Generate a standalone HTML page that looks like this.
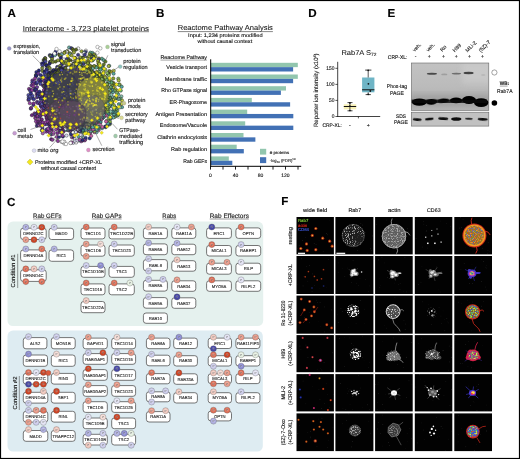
<!DOCTYPE html>
<html><head><meta charset="utf-8"><title>Figure</title>
<style>
html,body{margin:0;padding:0;background:#fff;}
body{width:520px;height:459px;overflow:hidden;font-family:"Liberation Sans",sans-serif;}
svg{display:block;font-family:"Liberation Sans",sans-serif;text-rendering:geometricPrecision;will-change:transform;}
</style></head><body>
<svg width="520" height="459" viewBox="0 0 520 459">
<defs>
<filter id="b1" x="-20%" y="-20%" width="140%" height="140%"><feGaussianBlur stdDeviation="1.6"/></filter>
<filter id="b05" x="-20%" y="-20%" width="140%" height="140%"><feGaussianBlur stdDeviation="0.5"/></filter>
<radialGradient id="cR" cx="0.5" cy="0.45" r="0.55"><stop offset="0" stop-color="#e3917e"/><stop offset="0.55" stop-color="#cf4222"/><stop offset="1" stop-color="#cf4222"/></radialGradient>
<radialGradient id="cr" cx="0.5" cy="0.45" r="0.55"><stop offset="0" stop-color="#edac9e"/><stop offset="0.55" stop-color="#e07058"/><stop offset="1" stop-color="#e07058"/></radialGradient>
<radialGradient id="cs" cx="0.5" cy="0.45" r="0.55"><stop offset="0" stop-color="#f2c4b9"/><stop offset="0.55" stop-color="#e99a88"/><stop offset="1" stop-color="#e99a88"/></radialGradient>
<radialGradient id="cp" cx="0.5" cy="0.45" r="0.55"><stop offset="0" stop-color="#f6dfd9"/><stop offset="0.55" stop-color="#f1c9bf"/><stop offset="1" stop-color="#f1c9bf"/></radialGradient>
<radialGradient id="cq" cx="0.5" cy="0.45" r="0.55"><stop offset="0" stop-color="#f8eae7"/><stop offset="0.55" stop-color="#f4dcd6"/><stop offset="1" stop-color="#f4dcd6"/></radialGradient>
<radialGradient id="cB" cx="0.5" cy="0.45" r="0.55"><stop offset="0" stop-color="#9393cb"/><stop offset="0.55" stop-color="#4646a6"/><stop offset="1" stop-color="#4646a6"/></radialGradient>
<radialGradient id="cb" cx="0.5" cy="0.45" r="0.55"><stop offset="0" stop-color="#bcbce6"/><stop offset="0.55" stop-color="#8d8dd4"/><stop offset="1" stop-color="#8d8dd4"/></radialGradient>
<radialGradient id="cl" cx="0.5" cy="0.45" r="0.55"><stop offset="0" stop-color="#d1d1ee"/><stop offset="0.55" stop-color="#b0b0e2"/><stop offset="1" stop-color="#b0b0e2"/></radialGradient>
<radialGradient id="cv" cx="0.5" cy="0.45" r="0.55"><stop offset="0" stop-color="#e2e2f3"/><stop offset="0.55" stop-color="#cdcdec"/><stop offset="1" stop-color="#cdcdec"/></radialGradient>
<radialGradient id="cw" cx="0.5" cy="0.45" r="0.55"><stop offset="0" stop-color="#eeeef8"/><stop offset="0.55" stop-color="#e3e3f4"/><stop offset="1" stop-color="#e3e3f4"/></radialGradient>
<radialGradient id="cg" cx="0.5" cy="0.45" r="0.55"><stop offset="0" stop-color="#f0f6ee"/><stop offset="0.55" stop-color="#e6f0e2"/><stop offset="1" stop-color="#e6f0e2"/></radialGradient>
<filter id="bb" x="-30%" y="-60%" width="160%" height="220%"><feGaussianBlur stdDeviation="0.7"/></filter>
<filter id="bs" x="-30%" y="-80%" width="160%" height="260%"><feGaussianBlur stdDeviation="0.5"/></filter>
<filter id="bu" x="-30%" y="-100%" width="160%" height="300%"><feGaussianBlur stdDeviation="0.7"/></filter>
<filter id="bh" x="-30%" y="-30%" width="160%" height="160%"><feGaussianBlur stdDeviation="3"/></filter>
<linearGradient id="g1" x1="0" y1="0" x2="0" y2="1"><stop offset="0" stop-color="#c2c2c2"/><stop offset="0.5" stop-color="#bbbbbb"/><stop offset="0.75" stop-color="#b2b2b2"/><stop offset="1" stop-color="#b6b6b6"/></linearGradient>
<clipPath id="c1"><rect x="411.4" y="63.0" width="77.4" height="47.4"/></clipPath>
<clipPath id="c2"><rect x="411.4" y="112.2" width="77.4" height="13.9"/></clipPath>
<filter id="tex" x="0" y="0" width="100%" height="100%"><feTurbulence type="fractalNoise" baseFrequency="0.95" numOctaves="2" seed="4" result="n"/><feColorMatrix in="n" type="matrix" values="0 0 0 0 0 0 0 0 0 0 0 0 0 0 0 6 0 0 0 -3.25" result="a"/><feComposite in="SourceGraphic" in2="a" operator="in"/></filter>
<filter id="tex2" x="0" y="0" width="100%" height="100%"><feTurbulence type="fractalNoise" baseFrequency="0.8" numOctaves="2" seed="11" result="n"/><feColorMatrix in="n" type="matrix" values="0 0 0 0 0 0 0 0 0 0 0 0 0 0 0 0 6 0 0 -3.0" result="a"/><feComposite in="SourceGraphic" in2="a" operator="in"/></filter>
<filter id="tex3" x="0" y="0" width="100%" height="100%"><feTurbulence type="fractalNoise" baseFrequency="0.8" numOctaves="2" seed="23" result="n"/><feColorMatrix in="n" type="matrix" values="0 0 0 0 0 0 0 0 0 0 0 0 0 0 0 0 0 6 0 -3.0" result="a"/><feComposite in="SourceGraphic" in2="a" operator="in"/></filter>
<filter id="f03" x="-30%" y="-30%" width="160%" height="160%"><feGaussianBlur stdDeviation="0.35"/></filter>
<filter id="f06" x="-30%" y="-30%" width="160%" height="160%"><feGaussianBlur stdDeviation="0.6"/></filter>
<filter id="f10" x="-40%" y="-40%" width="180%" height="180%"><feGaussianBlur stdDeviation="1.0"/></filter>
</defs>
<rect x="0" y="0" width="520" height="459" fill="#fff"/>
<text x="7.6" y="17" font-size="11.6" font-weight="bold" fill="#000" stroke="#000" stroke-width="0.14" >A</text>
<text x="22.7" y="30.5" font-size="7.2" textLength="126.3" lengthAdjust="spacingAndGlyphs" fill="#111" stroke="#111" stroke-width="0.06" >Interactome - 3,723 platelet proteins</text>
<line x1="22.7" y1="31.7" x2="149" y2="31.7" stroke="#111" stroke-width="0.5" />
<circle cx="75.5" cy="99.0" r="34" fill="#35353c" opacity="0.85" filter="url(#b05)"/>
<g stroke="#1a1a1a" stroke-width="0.42"><circle cx="69.1" cy="47.5" r="1.65" fill="#6fb0a8"/><circle cx="55.7" cy="51.5" r="1.65" fill="#3a3a8a"/><circle cx="71.4" cy="48.2" r="1.65" fill="#3a3a8a"/><circle cx="45.1" cy="58.1" r="1.65" fill="#242478"/><circle cx="49.8" cy="55.1" r="1.65" fill="#4848a4"/><circle cx="122.0" cy="107.2" r="1.65" fill="#58a8a0"/><circle cx="78.2" cy="48.5" r="1.65" fill="#ffffff"/><circle cx="45.2" cy="58.4" r="1.65" fill="#6a7a28"/><circle cx="121.7" cy="86.7" r="1.65" fill="#58a8a0"/><circle cx="43.6" cy="60.0" r="1.65" fill="#6a7a28"/><circle cx="51.2" cy="139.2" r="1.65" fill="#6a2a80"/><circle cx="42.8" cy="133.3" r="1.65" fill="#a860b0"/><circle cx="52.4" cy="139.8" r="1.65" fill="#8a3a98"/><circle cx="72.7" cy="49.2" r="1.65" fill="#5a6a20"/><circle cx="85.9" cy="50.6" r="1.65" fill="#ffffff"/><circle cx="50.3" cy="55.9" r="1.65" fill="#6a7a28"/><circle cx="64.2" cy="143.5" r="1.65" fill="#ffffff"/><circle cx="122.0" cy="100.4" r="1.65" fill="#c8d040"/><circle cx="92.4" cy="52.9" r="1.65" fill="#5aa890"/><circle cx="121.5" cy="103.9" r="1.65" fill="#c8d040"/><circle cx="76.0" cy="49.6" r="1.65" fill="#5a6a20"/><circle cx="118.3" cy="78.7" r="1.65" fill="#88b860"/><circle cx="55.0" cy="53.8" r="1.65" fill="#30308a"/><circle cx="36.9" cy="125.8" r="1.65" fill="#4a3a90"/><circle cx="44.5" cy="60.4" r="1.65" fill="#242478"/><circle cx="53.1" cy="54.9" r="1.65" fill="#242478"/><circle cx="90.4" cy="52.6" r="1.65" fill="#5aa890"/><circle cx="118.7" cy="80.5" r="1.65" fill="#a8b840"/><circle cx="113.7" cy="70.8" r="1.65" fill="#c8d040"/><circle cx="117.8" cy="115.5" r="1.65" fill="#6ab070"/><circle cx="101.9" cy="58.7" r="1.65" fill="#5aa890"/><circle cx="103.8" cy="60.2" r="1.65" fill="#5aa890"/><circle cx="57.9" cy="141.0" r="1.65" fill="#8a3a98"/><circle cx="105.4" cy="61.6" r="1.65" fill="#6a8a28"/><circle cx="118.1" cy="114.5" r="1.65" fill="#9ab838"/><circle cx="51.2" cy="56.3" r="1.65" fill="#6fb0a8"/><circle cx="121.4" cy="96.4" r="1.65" fill="#88c0b0"/><circle cx="55.8" cy="54.1" r="1.65" fill="#3a3a8a"/><circle cx="94.4" cy="54.6" r="1.65" fill="#6fb0a8"/><circle cx="119.6" cy="84.4" r="1.65" fill="#c8d040"/><circle cx="41.8" cy="130.4" r="1.65" fill="#4a3a90"/><circle cx="120.8" cy="90.6" r="1.65" fill="#6ab070"/><circle cx="42.0" cy="63.5" r="1.65" fill="#3a3a94"/><circle cx="94.1" cy="54.6" r="1.65" fill="#8aa030"/><circle cx="61.5" cy="141.8" r="1.65" fill="#ffffff"/><circle cx="109.2" cy="65.8" r="1.65" fill="#5aa890"/><circle cx="45.2" cy="60.8" r="1.65" fill="#7a8a38"/><circle cx="119.8" cy="107.4" r="1.65" fill="#88c0b0"/><circle cx="67.2" cy="51.1" r="1.65" fill="#7a8a2a"/><circle cx="85.6" cy="51.9" r="1.65" fill="#3a3a8a"/><circle cx="31.9" cy="115.2" r="1.65" fill="#6a2a80"/><circle cx="73.7" cy="50.8" r="1.65" fill="#7a8a2a"/><circle cx="29.0" cy="88.9" r="1.65" fill="#8a3a98"/><circle cx="81.6" cy="51.3" r="1.65" fill="#9aa83a"/><circle cx="119.1" cy="84.9" r="1.65" fill="#6ab070"/><circle cx="28.4" cy="99.9" r="1.65" fill="#8a3a98"/><circle cx="28.4" cy="95.1" r="1.65" fill="#5858b0"/><circle cx="54.8" cy="55.3" r="1.65" fill="#6fb0a8"/><circle cx="70.7" cy="142.9" r="1.65" fill="#ffffff"/><circle cx="108.6" cy="66.1" r="1.65" fill="#a8b840"/><circle cx="120.4" cy="98.7" r="1.65" fill="#6ab070"/><circle cx="52.0" cy="57.0" r="1.65" fill="#30308a"/><circle cx="64.3" cy="141.8" r="1.65" fill="#ffffff"/><circle cx="66.5" cy="51.8" r="1.65" fill="#ffffff"/><circle cx="64.8" cy="52.1" r="1.65" fill="#7a8a2a"/><circle cx="73.3" cy="142.8" r="1.65" fill="#d8d8f0"/><circle cx="45.4" cy="61.6" r="1.65" fill="#4848a4"/><circle cx="28.7" cy="97.6" r="1.65" fill="#4a4aa4"/><circle cx="60.1" cy="53.5" r="1.65" fill="#9aa83a"/><circle cx="37.3" cy="123.5" r="1.65" fill="#7a3090"/><circle cx="38.3" cy="124.9" r="1.65" fill="#4a3a90"/><circle cx="95.5" cy="56.4" r="1.65" fill="#9aa83a"/><circle cx="43.4" cy="63.5" r="1.65" fill="#242478"/><circle cx="98.9" cy="58.5" r="1.65" fill="#9aa83a"/><circle cx="42.7" cy="129.7" r="1.65" fill="#4a3a90"/><circle cx="29.0" cy="99.3" r="1.65" fill="#3a3a94"/><circle cx="76.1" cy="142.5" r="1.65" fill="#ffffff"/><circle cx="36.0" cy="121.3" r="1.65" fill="#9a48a8"/><circle cx="55.6" cy="138.4" r="1.65" fill="#ffffff"/><circle cx="113.6" cy="73.7" r="1.65" fill="#58a8a0"/><circle cx="36.4" cy="72.1" r="1.65" fill="#30308a"/><circle cx="84.1" cy="52.6" r="1.65" fill="#6fb0a8"/><circle cx="71.5" cy="142.3" r="1.65" fill="#a050a8"/><circle cx="89.7" cy="54.2" r="1.65" fill="#8aa030"/><circle cx="39.3" cy="125.6" r="1.65" fill="#a860b0"/><circle cx="30.8" cy="108.7" r="1.65" fill="#5858b0"/><circle cx="32.4" cy="80.5" r="1.65" fill="#6a3a98"/><circle cx="59.9" cy="54.3" r="1.65" fill="#3a3a8a"/><circle cx="64.2" cy="53.0" r="1.65" fill="#9aa83a"/><circle cx="29.8" cy="103.2" r="1.65" fill="#9a48a8"/><circle cx="115.0" cy="116.8" r="1.65" fill="#7aa860"/><circle cx="42.4" cy="65.3" r="1.65" fill="#4848a4"/><circle cx="118.9" cy="104.2" r="1.65" fill="#58a8a0"/><circle cx="117.3" cy="110.4" r="1.65" fill="#6ab070"/><circle cx="30.3" cy="89.6" r="1.65" fill="#6a3a98"/><circle cx="46.2" cy="131.7" r="1.65" fill="#8a3a98"/><circle cx="81.2" cy="141.3" r="1.65" fill="#a050a8"/><circle cx="59.4" cy="54.9" r="1.65" fill="#5a6a20"/><circle cx="61.5" cy="54.2" r="1.65" fill="#ffffff"/><circle cx="31.1" cy="108.0" r="1.65" fill="#6a2a80"/><circle cx="83.9" cy="53.3" r="1.65" fill="#ffffff"/><circle cx="98.6" cy="59.4" r="1.65" fill="#3a3a8a"/><circle cx="109.8" cy="124.3" r="1.65" fill="#7aa860"/><circle cx="32.3" cy="82.4" r="1.65" fill="#4a4aa4"/><circle cx="116.3" cy="112.6" r="1.65" fill="#58a8a0"/><circle cx="73.9" cy="52.4" r="1.65" fill="#9aa83a"/><circle cx="84.8" cy="140.4" r="1.65" fill="#a050a8"/><circle cx="30.3" cy="91.1" r="1.65" fill="#4a4aa4"/><circle cx="31.5" cy="85.3" r="1.65" fill="#6a3a98"/><circle cx="35.5" cy="118.3" r="1.65" fill="#a860b0"/><circle cx="30.1" cy="96.4" r="1.65" fill="#5858b0"/><circle cx="38.9" cy="70.5" r="1.65" fill="#242478"/><circle cx="90.7" cy="55.6" r="1.65" fill="#9aa83a"/><circle cx="93.3" cy="56.8" r="1.65" fill="#88b860"/><circle cx="92.4" cy="56.4" r="1.65" fill="#3a3a8a"/><circle cx="51.1" cy="134.6" r="1.65" fill="#4a3a90"/><circle cx="42.3" cy="127.5" r="1.65" fill="#4a3a90"/><circle cx="36.1" cy="74.8" r="1.65" fill="#6a7a28"/><circle cx="61.7" cy="54.6" r="1.65" fill="#6fb0a8"/><circle cx="35.5" cy="117.8" r="1.65" fill="#9a48a8"/><circle cx="52.1" cy="58.9" r="1.65" fill="#7a8a2a"/><circle cx="82.9" cy="140.4" r="1.65" fill="#8a3a98"/><circle cx="118.6" cy="98.8" r="1.65" fill="#58a8a0"/><circle cx="110.6" cy="71.7" r="1.65" fill="#e8e020"/><circle cx="118.5" cy="98.8" r="1.65" fill="#88c0b0"/><circle cx="35.9" cy="75.9" r="1.65" fill="#4848a4"/><circle cx="89.7" cy="138.3" r="1.65" fill="#283888"/><circle cx="36.5" cy="74.8" r="1.65" fill="#4a4aa4"/><circle cx="113.2" cy="117.6" r="1.65" fill="#70b8b0"/><circle cx="109.7" cy="123.2" r="1.65" fill="#283888"/><circle cx="69.6" cy="53.4" r="1.65" fill="#7a8a2a"/><circle cx="91.1" cy="56.4" r="1.65" fill="#6a8a28"/><circle cx="118.2" cy="94.2" r="1.65" fill="#58a8a0"/><circle cx="74.9" cy="140.8" r="1.65" fill="#d8d8f0"/><circle cx="70.1" cy="53.5" r="1.65" fill="#9aa83a"/><circle cx="115.0" cy="113.4" r="1.65" fill="#88c0b0"/><circle cx="79.3" cy="140.4" r="1.65" fill="#58a0a0"/><circle cx="31.0" cy="93.5" r="1.65" fill="#30308a"/><circle cx="107.4" cy="125.7" r="1.65" fill="#283888"/><circle cx="92.2" cy="57.1" r="1.65" fill="#a8b840"/><circle cx="82.5" cy="139.9" r="1.65" fill="#283080"/><circle cx="40.7" cy="124.6" r="1.65" fill="#7a3090"/><circle cx="38.2" cy="121.2" r="1.65" fill="#7a3090"/><circle cx="36.3" cy="76.0" r="1.65" fill="#242478"/><circle cx="35.0" cy="78.5" r="1.65" fill="#8a3a98"/><circle cx="56.9" cy="136.9" r="1.65" fill="#9a48a8"/><circle cx="85.4" cy="139.2" r="1.65" fill="#a050a8"/><circle cx="77.5" cy="140.5" r="1.65" fill="#d8d8f0"/><circle cx="103.7" cy="64.6" r="1.65" fill="#6a8a28"/><circle cx="92.9" cy="57.5" r="1.65" fill="#6fb0a8"/><circle cx="84.8" cy="54.7" r="1.65" fill="#3a3a8a"/><circle cx="117.5" cy="90.9" r="1.65" fill="#c8d040"/><circle cx="105.7" cy="127.2" r="1.65" fill="#70b8b0"/><circle cx="109.3" cy="71.1" r="1.65" fill="#6a8a28"/><circle cx="35.4" cy="115.9" r="1.65" fill="#7a3090"/><circle cx="50.6" cy="133.3" r="1.65" fill="#58a0a0"/><circle cx="116.1" cy="84.6" r="1.65" fill="#7aa860"/><circle cx="49.6" cy="132.5" r="1.65" fill="#9a48a8"/><circle cx="42.2" cy="68.1" r="1.65" fill="#7a8a38"/><circle cx="116.2" cy="108.8" r="1.65" fill="#c8d040"/><circle cx="116.3" cy="108.4" r="1.65" fill="#6ab070"/><circle cx="114.1" cy="114.4" r="1.65" fill="#9ab838"/><circle cx="33.3" cy="83.8" r="1.65" fill="#8a3a98"/><circle cx="34.5" cy="113.3" r="1.65" fill="#8a3a98"/><circle cx="109.9" cy="121.7" r="1.65" fill="#88b848"/><circle cx="91.6" cy="57.4" r="1.65" fill="#8aa030"/><circle cx="94.2" cy="58.6" r="1.65" fill="#88b860"/><circle cx="38.3" cy="73.5" r="1.65" fill="#6a3a98"/><circle cx="113.9" cy="114.5" r="1.65" fill="#58a8a0"/><circle cx="98.0" cy="60.9" r="1.65" fill="#8aa030"/><circle cx="45.9" cy="64.9" r="1.65" fill="#7a8a38"/><circle cx="32.0" cy="90.2" r="1.65" fill="#8a3a98"/><circle cx="60.5" cy="56.3" r="1.65" fill="#9aa83a"/><circle cx="113.3" cy="78.4" r="1.65" fill="#8aa030"/><circle cx="79.5" cy="139.7" r="1.65" fill="#a050a8"/><circle cx="34.3" cy="81.8" r="1.65" fill="#6a3a98"/><circle cx="47.8" cy="130.7" r="1.65" fill="#7a3090"/><circle cx="105.5" cy="126.7" r="1.65" fill="#283888"/><circle cx="35.2" cy="114.3" r="1.65" fill="#4a3a90"/><circle cx="105.7" cy="126.3" r="1.65" fill="#283888"/><circle cx="117.3" cy="98.1" r="1.65" fill="#88c0b0"/><circle cx="88.9" cy="56.7" r="1.65" fill="#9aa83a"/><circle cx="59.1" cy="136.9" r="1.65" fill="#283080"/><circle cx="50.0" cy="62.0" r="1.65" fill="#7a8a38"/><circle cx="70.1" cy="54.5" r="1.65" fill="#6fb0a8"/><circle cx="46.6" cy="129.3" r="1.65" fill="#4a3a90"/><circle cx="33.2" cy="86.5" r="1.65" fill="#8a3a98"/><circle cx="114.4" cy="111.9" r="1.65" fill="#58a8a0"/><circle cx="107.9" cy="123.4" r="1.65" fill="#58a8a8"/><circle cx="39.4" cy="121.0" r="1.65" fill="#6a2a80"/><circle cx="50.5" cy="61.9" r="1.65" fill="#3a3a94"/><circle cx="116.8" cy="92.7" r="1.65" fill="#7aa860"/><circle cx="51.3" cy="61.4" r="1.65" fill="#7a8a38"/><circle cx="53.4" cy="133.9" r="1.65" fill="#a860b0"/><circle cx="46.4" cy="65.3" r="1.65" fill="#3a3a94"/><circle cx="78.1" cy="54.8" r="1.65" fill="#3a3a8a"/><circle cx="85.6" cy="137.8" r="1.65" fill="#283888"/><circle cx="91.2" cy="135.9" r="1.65" fill="#c860a8"/><circle cx="92.1" cy="58.7" r="1.65" fill="#3a3a8a"/><circle cx="33.3" cy="105.0" r="1.65" fill="#4a3a90"/><circle cx="110.2" cy="119.1" r="1.65" fill="#88c0b0"/><circle cx="115.1" cy="107.3" r="1.65" fill="#6ab070"/><circle cx="32.6" cy="98.3" r="1.65" fill="#4a4aa4"/><circle cx="32.6" cy="95.8" r="1.65" fill="#4a4aa4"/><circle cx="110.7" cy="118.0" r="1.65" fill="#408888"/><circle cx="46.8" cy="65.6" r="1.65" fill="#242478"/><circle cx="115.0" cy="107.3" r="1.65" fill="#9ab838"/><circle cx="115.4" cy="89.1" r="1.65" fill="#9ab838"/><circle cx="71.6" cy="55.4" r="1.65" fill="#9aa83a"/><circle cx="37.4" cy="116.0" r="1.65" fill="#6a2a80"/><circle cx="102.1" cy="128.2" r="1.65" fill="#58a8a8"/><circle cx="49.5" cy="63.8" r="1.65" fill="#242478"/><circle cx="96.5" cy="132.3" r="1.65" fill="#70b8b0"/><circle cx="60.9" cy="57.7" r="1.65" fill="#242478"/><circle cx="116.0" cy="98.0" r="1.65" fill="#58a8a0"/><circle cx="37.7" cy="116.1" r="1.65" fill="#8a3a98"/><circle cx="98.4" cy="63.1" r="1.65" fill="#e8e020"/><circle cx="39.4" cy="119.0" r="1.65" fill="#a860b0"/><circle cx="33.6" cy="103.5" r="1.65" fill="#7a3090"/><circle cx="110.2" cy="118.0" r="1.65" fill="#88c0b0"/><circle cx="115.9" cy="97.5" r="1.65" fill="#9ab838"/><circle cx="113.4" cy="83.0" r="1.65" fill="#c8d040"/><circle cx="113.8" cy="109.8" r="1.65" fill="#6ab070"/><circle cx="99.0" cy="63.8" r="1.65" fill="#6a8a28"/><circle cx="74.4" cy="138.3" r="1.65" fill="#d8d8f0"/><circle cx="43.4" cy="124.2" r="1.65" fill="#4a3a90"/><circle cx="105.3" cy="69.6" r="1.65" fill="#88b860"/><circle cx="52.9" cy="61.9" r="1.65" fill="#7a8a38"/><circle cx="99.3" cy="64.0" r="1.65" fill="#a8b840"/><circle cx="108.6" cy="73.8" r="1.65" fill="#8aa030"/><circle cx="48.2" cy="128.7" r="1.65" fill="#9a48a8"/><circle cx="62.9" cy="136.6" r="1.65" fill="#283080"/><circle cx="92.7" cy="60.0" r="1.65" fill="#5aa890"/><circle cx="42.5" cy="71.1" r="1.65" fill="#7a8a38"/><circle cx="112.9" cy="111.7" r="1.65" fill="#88c0b0"/><circle cx="41.4" cy="121.4" r="1.65" fill="#7a3090"/><circle cx="53.5" cy="132.3" r="1.65" fill="#a860b0"/><circle cx="98.7" cy="130.1" r="1.65" fill="#c860a8"/><circle cx="102.3" cy="127.0" r="1.65" fill="#c860a8"/><circle cx="113.1" cy="83.5" r="1.65" fill="#6a8a28"/><circle cx="103.3" cy="68.0" r="1.65" fill="#6a8a28"/><circle cx="108.1" cy="73.9" r="1.65" fill="#8aa030"/><circle cx="36.0" cy="83.5" r="1.65" fill="#8a3a98"/><circle cx="92.5" cy="60.4" r="1.65" fill="#88b860"/><circle cx="33.8" cy="99.2" r="1.65" fill="#3a3a94"/><circle cx="112.5" cy="111.8" r="1.65" fill="#408888"/><circle cx="86.5" cy="58.1" r="1.65" fill="#3a3a8a"/><circle cx="108.2" cy="74.3" r="1.65" fill="#6a8a28"/><circle cx="108.8" cy="75.2" r="1.65" fill="#88b860"/><circle cx="115.1" cy="97.7" r="1.65" fill="#88c0b0"/><circle cx="114.5" cy="90.7" r="1.65" fill="#7aa860"/><circle cx="36.5" cy="83.2" r="1.65" fill="#30308a"/><circle cx="86.3" cy="58.3" r="1.65" fill="#7a8a2a"/><circle cx="72.0" cy="137.4" r="1.65" fill="#a050a8"/><circle cx="107.2" cy="73.1" r="1.65" fill="#88b860"/><circle cx="42.9" cy="122.3" r="1.65" fill="#8a3a98"/><circle cx="102.4" cy="67.7" r="1.65" fill="#5aa890"/><circle cx="94.4" cy="132.2" r="1.65" fill="#c860a8"/><circle cx="44.8" cy="124.4" r="1.65" fill="#8a3a98"/><circle cx="113.6" cy="86.8" r="1.65" fill="#c8d040"/><circle cx="62.6" cy="135.6" r="1.65" fill="#8a3a98"/><circle cx="59.4" cy="134.4" r="1.65" fill="#d8d8f0"/><circle cx="87.6" cy="58.9" r="1.65" fill="#a8b840"/><circle cx="58.0" cy="60.3" r="1.65" fill="#9aa83a"/><circle cx="35.1" cy="88.8" r="1.65" fill="#3a3a94"/><circle cx="113.5" cy="107.0" r="1.65" fill="#6ab070"/><circle cx="108.8" cy="118.1" r="1.65" fill="#88b848"/><circle cx="40.8" cy="75.2" r="1.65" fill="#30308a"/><circle cx="82.8" cy="57.7" r="1.65" fill="#6fb0a8"/><circle cx="106.7" cy="120.9" r="1.65" fill="#88b848"/><circle cx="109.6" cy="116.5" r="1.65" fill="#70b8b0"/><circle cx="82.6" cy="57.7" r="1.65" fill="#5aa890"/><circle cx="113.8" cy="105.1" r="1.65" fill="#9ab838"/><circle cx="55.6" cy="61.6" r="1.65" fill="#5a6a20"/><circle cx="37.6" cy="112.6" r="1.65" fill="#6a2a80"/><circle cx="35.0" cy="90.6" r="1.65" fill="#30308a"/><circle cx="91.2" cy="60.6" r="1.65" fill="#e8e020"/><circle cx="97.3" cy="129.9" r="1.65" fill="#70b8b0"/><circle cx="106.1" cy="121.5" r="1.65" fill="#c860a8"/><circle cx="57.3" cy="133.1" r="1.65" fill="#7a3090"/><circle cx="80.5" cy="57.5" r="1.65" fill="#9aa83a"/><circle cx="83.2" cy="58.0" r="1.65" fill="#3a3a8a"/><circle cx="83.5" cy="58.1" r="1.65" fill="#7a8a2a"/><circle cx="37.6" cy="81.9" r="1.65" fill="#5858b0"/><circle cx="39.8" cy="116.6" r="1.65" fill="#4a3a90"/><circle cx="51.8" cy="129.7" r="1.65" fill="#6a2a80"/><circle cx="111.2" cy="81.7" r="1.65" fill="#6ab070"/><circle cx="82.2" cy="136.0" r="1.65" fill="#58a0a0"/><circle cx="39.0" cy="79.2" r="1.65" fill="#4a4aa4"/><circle cx="47.1" cy="68.3" r="1.65" fill="#3a3a94"/><circle cx="98.8" cy="128.3" r="1.65" fill="#58a8a8"/><circle cx="41.8" cy="119.3" r="1.65" fill="#6a2a80"/><circle cx="35.7" cy="89.2" r="1.65" fill="#4a4aa4"/><circle cx="78.6" cy="136.4" r="1.65" fill="#58a0a0"/><circle cx="114.1" cy="98.2" r="1.65" fill="#7aa860"/><circle cx="73.3" cy="136.6" r="1.65" fill="#283080"/><circle cx="48.6" cy="67.1" r="1.65" fill="#7a8a38"/><circle cx="94.4" cy="131.2" r="1.65" fill="#88b848"/><circle cx="111.4" cy="82.8" r="1.65" fill="#6ab070"/><circle cx="112.8" cy="87.3" r="1.65" fill="#e8e020"/><circle cx="85.4" cy="59.1" r="1.65" fill="#ffffff"/><circle cx="110.1" cy="114.0" r="1.65" fill="#6ab070"/><circle cx="66.5" cy="135.6" r="1.65" fill="#d8d8f0"/><circle cx="89.9" cy="133.2" r="1.65" fill="#8a3a98"/><circle cx="47.7" cy="68.2" r="1.65" fill="#7a8a38"/><circle cx="44.6" cy="71.5" r="1.65" fill="#242478"/><circle cx="36.0" cy="89.4" r="1.65" fill="#30308a"/><circle cx="74.6" cy="57.8" r="1.65" fill="#9aa83a"/><circle cx="68.2" cy="58.4" r="1.65" fill="#7a8a2a"/><circle cx="38.2" cy="111.4" r="1.65" fill="#4a3a90"/><circle cx="109.4" cy="79.6" r="1.65" fill="#a8b840"/><circle cx="111.8" cy="85.7" r="1.65" fill="#8aa030"/><circle cx="51.1" cy="128.2" r="1.65" fill="#4a3a90"/><circle cx="64.0" cy="59.5" r="1.65" fill="#ffffff"/><circle cx="110.6" cy="111.5" r="1.65" fill="#88c0b0"/><circle cx="75.2" cy="58.1" r="1.65" fill="#7a8a2a"/><circle cx="96.3" cy="129.2" r="1.65" fill="#70b8b0"/><circle cx="71.5" cy="135.8" r="1.65" fill="#d8d8f0"/><circle cx="75.2" cy="58.1" r="1.65" fill="#9aa83a"/><circle cx="47.2" cy="69.3" r="1.65" fill="#4848a4"/><circle cx="112.2" cy="106.5" r="1.65" fill="#88c0b0"/><circle cx="60.8" cy="60.7" r="1.65" fill="#5a6a20"/><circle cx="38.7" cy="111.9" r="1.65" fill="#6a2a80"/><circle cx="46.8" cy="124.1" r="1.65" fill="#4a3a90"/><circle cx="113.1" cy="100.6" r="1.65" fill="#88c0b0"/><circle cx="81.4" cy="135.1" r="1.65" fill="#ffffff"/><circle cx="112.9" cy="92.2" r="1.65" fill="#58a8a0"/><circle cx="100.9" cy="68.7" r="1.65" fill="#5aa890"/><circle cx="66.8" cy="59.1" r="1.65" fill="#3a3a8a"/><circle cx="37.1" cy="87.1" r="1.65" fill="#6a3a98"/><circle cx="113.0" cy="99.8" r="1.65" fill="#c8d040"/><circle cx="99.0" cy="126.8" r="1.65" fill="#88b848"/><circle cx="46.4" cy="70.5" r="1.65" fill="#30308a"/><circle cx="97.8" cy="127.5" r="1.65" fill="#58a8a8"/><circle cx="44.5" cy="73.1" r="1.65" fill="#3a3a94"/><circle cx="39.8" cy="80.5" r="1.65" fill="#6a3a98"/><circle cx="80.6" cy="134.9" r="1.65" fill="#d8d8f0"/><circle cx="103.6" cy="72.0" r="1.65" fill="#a8b840"/><circle cx="112.2" cy="90.0" r="1.65" fill="#58a8a0"/><circle cx="40.9" cy="115.3" r="1.65" fill="#7a3090"/><circle cx="99.5" cy="68.1" r="1.65" fill="#6a8a28"/><circle cx="72.3" cy="135.1" r="1.65" fill="#8a3a98"/><circle cx="45.8" cy="122.1" r="1.65" fill="#9a48a8"/><circle cx="61.5" cy="132.8" r="1.65" fill="#a050a8"/><circle cx="51.5" cy="127.3" r="1.65" fill="#8a3a98"/><circle cx="49.6" cy="125.8" r="1.65" fill="#4a3a90"/><circle cx="36.6" cy="94.1" r="1.65" fill="#8a3a98"/><circle cx="88.1" cy="61.5" r="1.65" fill="#e8e020"/><circle cx="49.7" cy="68.2" r="1.65" fill="#7a8a38"/><circle cx="91.0" cy="131.2" r="1.65" fill="#408888"/><circle cx="78.5" cy="59.3" r="1.65" fill="#6fb0a8"/><circle cx="111.2" cy="87.3" r="1.65" fill="#58a8a0"/><circle cx="62.0" cy="61.2" r="1.65" fill="#3a3a94"/><circle cx="112.0" cy="102.5" r="1.65" fill="#7aa860"/><circle cx="97.2" cy="66.7" r="1.65" fill="#8aa030"/><circle cx="61.7" cy="61.3" r="1.65" fill="#4848a4"/><circle cx="37.0" cy="102.0" r="1.65" fill="#6a3a98"/><circle cx="59.9" cy="131.9" r="1.65" fill="#a050a8"/><circle cx="37.1" cy="91.7" r="1.65" fill="#6a3a98"/><circle cx="86.1" cy="132.9" r="1.65" fill="#88b848"/><circle cx="97.6" cy="126.8" r="1.65" fill="#70b8b0"/><circle cx="86.7" cy="132.6" r="1.65" fill="#408888"/><circle cx="42.2" cy="77.7" r="1.65" fill="#6a7a28"/><circle cx="111.5" cy="103.7" r="1.65" fill="#7aa860"/><circle cx="92.9" cy="129.8" r="1.65" fill="#70b8b0"/><circle cx="36.9" cy="97.4" r="1.65" fill="#6a3a98"/><circle cx="39.7" cy="111.1" r="1.65" fill="#6a2a80"/><circle cx="100.3" cy="69.7" r="1.65" fill="#5aa890"/><circle cx="90.5" cy="131.0" r="1.65" fill="#70b8b0"/><circle cx="88.2" cy="62.1" r="1.65" fill="#8aa030"/><circle cx="111.8" cy="101.2" r="1.65" fill="#9ab838"/><circle cx="108.1" cy="113.6" r="1.65" fill="#408888"/><circle cx="111.9" cy="96.7" r="1.65" fill="#88c0b0"/><circle cx="100.2" cy="124.1" r="1.65" fill="#c860a8"/><circle cx="56.1" cy="129.5" r="1.65" fill="#9a48a8"/><circle cx="94.4" cy="128.7" r="1.65" fill="#70b8b0"/><circle cx="46.8" cy="72.0" r="1.65" fill="#4848a4"/><circle cx="37.7" cy="103.0" r="1.65" fill="#6a3a98"/><circle cx="110.5" cy="87.2" r="1.65" fill="#6ab070"/><circle cx="78.2" cy="59.9" r="1.65" fill="#9aa83a"/><circle cx="108.8" cy="82.6" r="1.65" fill="#5aa890"/><circle cx="93.0" cy="129.3" r="1.65" fill="#c860a8"/><circle cx="41.3" cy="113.7" r="1.65" fill="#6a2a80"/><circle cx="40.9" cy="81.1" r="1.65" fill="#242478"/><circle cx="70.9" cy="134.0" r="1.65" fill="#283080"/><circle cx="68.7" cy="60.4" r="1.65" fill="#5a6a20"/><circle cx="66.1" cy="61.0" r="1.65" fill="#9aa83a"/><circle cx="111.4" cy="94.8" r="1.65" fill="#88c0b0"/><circle cx="77.9" cy="60.2" r="1.65" fill="#ffffff"/><circle cx="79.9" cy="60.4" r="1.65" fill="#5a6a20"/><circle cx="106.4" cy="78.5" r="1.65" fill="#6ab070"/><circle cx="70.6" cy="60.3" r="1.65" fill="#5a6a20"/><circle cx="110.8" cy="90.8" r="1.65" fill="#58a8a0"/><circle cx="94.6" cy="66.2" r="1.65" fill="#5aa890"/><circle cx="37.7" cy="95.4" r="1.65" fill="#6a3a98"/><circle cx="44.2" cy="76.1" r="1.65" fill="#4a4aa4"/><circle cx="60.1" cy="130.8" r="1.65" fill="#8a3a98"/><circle cx="85.6" cy="132.0" r="1.65" fill="#c860a8"/><circle cx="37.9" cy="94.2" r="1.65" fill="#30308a"/><circle cx="49.2" cy="123.6" r="1.65" fill="#7a3090"/><circle cx="41.5" cy="112.9" r="1.65" fill="#8a3a98"/><circle cx="106.1" cy="115.6" r="1.65" fill="#c860a8"/><circle cx="63.4" cy="131.8" r="1.65" fill="#6a2a80"/><circle cx="102.9" cy="74.1" r="1.65" fill="#5aa890"/><circle cx="38.0" cy="96.2" r="1.65" fill="#4a4aa4"/><circle cx="40.4" cy="83.9" r="1.65" fill="#4a4aa4"/><circle cx="104.5" cy="76.4" r="1.65" fill="#a8b840"/><circle cx="83.5" cy="132.3" r="1.65" fill="#408888"/><circle cx="96.2" cy="67.7" r="1.65" fill="#5aa890"/><circle cx="110.8" cy="100.4" r="1.65" fill="#6ab070"/><circle cx="110.8" cy="99.8" r="1.65" fill="#7aa860"/><circle cx="94.0" cy="66.2" r="1.65" fill="#8aa030"/><circle cx="106.5" cy="79.8" r="1.65" fill="#6ab070"/><circle cx="50.0" cy="123.9" r="1.65" fill="#8a3a98"/><circle cx="60.6" cy="130.6" r="1.65" fill="#4a3a90"/><circle cx="105.1" cy="77.5" r="1.65" fill="#a8b840"/><circle cx="109.6" cy="106.3" r="1.65" fill="#58a8a0"/><circle cx="88.2" cy="63.4" r="1.65" fill="#8aa030"/><circle cx="47.6" cy="121.3" r="1.65" fill="#8a3a98"/><circle cx="109.9" cy="104.7" r="1.65" fill="#58a8a0"/><circle cx="38.5" cy="93.5" r="1.65" fill="#3a3a94"/><circle cx="86.3" cy="131.2" r="1.65" fill="#408888"/><circle cx="50.9" cy="124.5" r="1.65" fill="#6a2a80"/><circle cx="100.7" cy="121.9" r="1.65" fill="#408888"/><circle cx="87.9" cy="63.4" r="1.65" fill="#8aa030"/><circle cx="49.9" cy="123.4" r="1.65" fill="#6a2a80"/><circle cx="107.5" cy="111.5" r="1.65" fill="#88b848"/><circle cx="53.3" cy="126.1" r="1.65" fill="#a860b0"/><circle cx="109.9" cy="90.8" r="1.65" fill="#9ab838"/><circle cx="108.4" cy="109.1" r="1.65" fill="#6ab070"/><circle cx="109.4" cy="105.5" r="1.65" fill="#58a8a0"/><circle cx="73.4" cy="132.8" r="1.65" fill="#ffffff"/><circle cx="89.6" cy="129.5" r="1.65" fill="#c860a8"/><circle cx="84.6" cy="62.6" r="1.65" fill="#7a8a2a"/><circle cx="62.0" cy="63.5" r="1.65" fill="#3a3a94"/><circle cx="63.3" cy="63.0" r="1.65" fill="#7a8a2a"/><circle cx="110.2" cy="98.0" r="1.65" fill="#58a8a0"/><circle cx="94.7" cy="126.4" r="1.65" fill="#88b848"/><circle cx="39.3" cy="102.2" r="1.65" fill="#5858b0"/><circle cx="43.1" cy="113.6" r="1.65" fill="#4a3a90"/><circle cx="108.7" cy="106.7" r="1.65" fill="#7aa860"/><circle cx="104.6" cy="115.8" r="1.65" fill="#c860a8"/><circle cx="103.8" cy="117.1" r="1.65" fill="#408888"/><circle cx="43.4" cy="114.1" r="1.65" fill="#7a3090"/><circle cx="83.0" cy="62.6" r="1.65" fill="#6fb0a8"/><circle cx="39.5" cy="91.6" r="1.65" fill="#30308a"/><circle cx="79.4" cy="61.9" r="1.65" fill="#5a6a20"/><circle cx="58.2" cy="128.4" r="1.65" fill="#6a2a80"/><circle cx="107.5" cy="84.1" r="1.65" fill="#8aa030"/><circle cx="92.7" cy="127.2" r="1.65" fill="#58a8a8"/><circle cx="45.9" cy="76.4" r="1.65" fill="#4848a4"/><circle cx="46.6" cy="118.5" r="1.65" fill="#7a3090"/><circle cx="76.6" cy="132.1" r="1.65" fill="#8a3a98"/><circle cx="72.9" cy="132.1" r="1.65" fill="#ffffff"/><circle cx="74.5" cy="61.9" r="1.65" fill="#7a8a2a"/><circle cx="109.6" cy="97.8" r="1.65" fill="#7aa860"/><circle cx="109.6" cy="98.0" r="1.65" fill="#7aa860"/><circle cx="82.8" cy="131.1" r="1.65" fill="#88b848"/><circle cx="102.4" cy="118.2" r="1.65" fill="#70b8b0"/><circle cx="75.8" cy="132.0" r="1.65" fill="#d8d8f0"/><circle cx="40.2" cy="104.0" r="1.65" fill="#4a4aa4"/><circle cx="40.2" cy="103.7" r="1.65" fill="#6a3a98"/><circle cx="76.6" cy="62.1" r="1.65" fill="#9aa83a"/><circle cx="73.4" cy="62.1" r="1.65" fill="#ffffff"/><circle cx="108.1" cy="87.5" r="1.65" fill="#58a8a0"/><circle cx="49.6" cy="72.5" r="1.65" fill="#242478"/><circle cx="107.5" cy="108.5" r="1.65" fill="#58a8a0"/><circle cx="107.0" cy="84.1" r="1.65" fill="#9ab838"/><circle cx="108.5" cy="89.2" r="1.65" fill="#88c0b0"/><circle cx="98.9" cy="72.0" r="1.65" fill="#88b860"/><circle cx="86.1" cy="129.9" r="1.65" fill="#d8d8f0"/><circle cx="43.7" cy="113.3" r="1.65" fill="#8a3a98"/><circle cx="101.9" cy="118.6" r="1.65" fill="#408888"/><circle cx="88.7" cy="128.8" r="1.65" fill="#408888"/><circle cx="70.7" cy="62.4" r="1.65" fill="#3a3a8a"/><circle cx="65.8" cy="63.3" r="1.65" fill="#7a8a2a"/><circle cx="101.3" cy="119.1" r="1.65" fill="#c860a8"/><circle cx="106.9" cy="84.3" r="1.65" fill="#7aa860"/><circle cx="50.6" cy="122.2" r="1.65" fill="#9a48a8"/><circle cx="72.7" cy="62.3" r="1.65" fill="#ffffff"/><circle cx="41.0" cy="106.2" r="1.65" fill="#6a3a98"/><circle cx="89.5" cy="65.7" r="1.65" fill="#e8e020"/><circle cx="100.6" cy="74.2" r="1.65" fill="#5aa890"/><circle cx="91.6" cy="66.8" r="1.65" fill="#e8e020"/><circle cx="40.9" cy="105.4" r="1.65" fill="#6a3a98"/><circle cx="108.9" cy="92.8" r="1.65" fill="#7aa860"/><circle cx="91.0" cy="66.5" r="1.65" fill="#6a8a28"/><circle cx="57.2" cy="67.0" r="1.65" fill="#30308a"/><circle cx="80.1" cy="131.2" r="1.65" fill="#283080"/><circle cx="44.8" cy="79.3" r="1.65" fill="#8a3a98"/><circle cx="48.2" cy="74.5" r="1.65" fill="#242478"/><circle cx="106.8" cy="109.3" r="1.65" fill="#9ab838"/><circle cx="93.0" cy="67.8" r="1.65" fill="#a8b840"/><circle cx="89.2" cy="65.8" r="1.65" fill="#88b860"/><circle cx="107.6" cy="87.2" r="1.65" fill="#c8d040"/><circle cx="108.7" cy="101.9" r="1.65" fill="#7aa860"/><circle cx="108.8" cy="100.8" r="1.65" fill="#58a8a0"/><circle cx="70.9" cy="62.7" r="1.65" fill="#7a8a2a"/><circle cx="40.1" cy="96.4" r="1.65" fill="#3a3a94"/><circle cx="46.4" cy="116.8" r="1.65" fill="#6a2a80"/><circle cx="44.0" cy="81.1" r="1.65" fill="#8a3a98"/><circle cx="40.1" cy="96.6" r="1.65" fill="#4a4aa4"/><circle cx="63.5" cy="129.5" r="1.65" fill="#a050a8"/><circle cx="47.6" cy="118.4" r="1.65" fill="#6a2a80"/><circle cx="45.1" cy="114.7" r="1.65" fill="#7a3090"/><circle cx="85.2" cy="129.6" r="1.65" fill="#58a0a0"/><circle cx="41.7" cy="107.1" r="1.65" fill="#3a3a94"/><circle cx="40.3" cy="94.1" r="1.65" fill="#4a4aa4"/><circle cx="47.9" cy="75.4" r="1.65" fill="#7a8a38"/><circle cx="61.5" cy="65.3" r="1.65" fill="#3a3a94"/><circle cx="51.7" cy="122.5" r="1.65" fill="#9a48a8"/><circle cx="60.0" cy="66.0" r="1.65" fill="#7a8a38"/><circle cx="107.1" cy="107.4" r="1.65" fill="#9ab838"/><circle cx="100.2" cy="74.4" r="1.65" fill="#6a8a28"/><circle cx="50.2" cy="73.0" r="1.65" fill="#30308a"/><circle cx="82.8" cy="130.1" r="1.65" fill="#408888"/><circle cx="51.5" cy="71.8" r="1.65" fill="#6a7a28"/><circle cx="53.0" cy="70.5" r="1.65" fill="#3a3a94"/><circle cx="53.8" cy="124.1" r="1.65" fill="#4a3a90"/><circle cx="83.3" cy="64.1" r="1.65" fill="#3a3a8a"/><circle cx="53.8" cy="70.1" r="1.65" fill="#30308a"/><circle cx="70.8" cy="63.2" r="1.65" fill="#ffffff"/><circle cx="63.7" cy="129.2" r="1.65" fill="#8a3a98"/><circle cx="42.5" cy="108.4" r="1.65" fill="#9a48a8"/><circle cx="103.4" cy="114.8" r="1.65" fill="#70b8b0"/><circle cx="74.4" cy="63.1" r="1.65" fill="#5a6a20"/><circle cx="102.0" cy="77.3" r="1.65" fill="#8aa030"/><circle cx="48.8" cy="75.0" r="1.65" fill="#30308a"/><circle cx="47.3" cy="117.2" r="1.65" fill="#9a48a8"/><circle cx="89.5" cy="66.7" r="1.65" fill="#e8e020"/><circle cx="101.7" cy="117.1" r="1.65" fill="#c860a8"/><circle cx="65.5" cy="129.6" r="1.65" fill="#58a0a0"/><circle cx="43.7" cy="110.8" r="1.65" fill="#7a3090"/><circle cx="41.2" cy="102.4" r="1.65" fill="#6a3a98"/><circle cx="107.3" cy="104.9" r="1.65" fill="#88c0b0"/><circle cx="108.1" cy="99.8" r="1.65" fill="#88c0b0"/><circle cx="40.8" cy="98.4" r="1.65" fill="#30308a"/><circle cx="108.2" cy="97.9" r="1.65" fill="#6ab070"/><circle cx="80.6" cy="63.9" r="1.65" fill="#9aa83a"/><circle cx="40.9" cy="98.8" r="1.65" fill="#30308a"/><circle cx="106.9" cy="87.9" r="1.65" fill="#7aa860"/><circle cx="60.5" cy="127.6" r="1.65" fill="#7a3090"/><circle cx="92.6" cy="68.7" r="1.65" fill="#6fb0a8"/><circle cx="43.0" cy="85.3" r="1.65" fill="#6a3a98"/><circle cx="44.1" cy="111.3" r="1.65" fill="#7a3090"/><circle cx="96.8" cy="72.0" r="1.65" fill="#a8b840"/><circle cx="56.9" cy="125.5" r="1.65" fill="#7a3090"/><circle cx="60.4" cy="127.4" r="1.65" fill="#ffffff"/><circle cx="107.4" cy="103.5" r="1.65" fill="#88c0b0"/><circle cx="58.3" cy="67.7" r="1.65" fill="#7a8a38"/><circle cx="102.8" cy="79.1" r="1.65" fill="#88b860"/><circle cx="53.1" cy="122.7" r="1.65" fill="#4a3a90"/><circle cx="70.6" cy="130.2" r="1.65" fill="#a050a8"/><circle cx="98.8" cy="119.9" r="1.65" fill="#58a8a8"/><circle cx="41.2" cy="94.8" r="1.65" fill="#8a3a98"/><circle cx="41.9" cy="104.1" r="1.65" fill="#5858b0"/><circle cx="79.4" cy="130.0" r="1.65" fill="#ffffff"/><circle cx="100.7" cy="117.6" r="1.65" fill="#70b8b0"/><circle cx="53.7" cy="123.0" r="1.65" fill="#7a3090"/><circle cx="100.9" cy="76.7" r="1.65" fill="#6a8a28"/><circle cx="99.3" cy="74.8" r="1.65" fill="#e8e020"/><circle cx="63.8" cy="128.5" r="1.65" fill="#6a2a80"/><circle cx="49.7" cy="74.9" r="1.65" fill="#7a8a38"/><circle cx="51.7" cy="72.8" r="1.65" fill="#30308a"/><circle cx="88.5" cy="127.1" r="1.65" fill="#88b848"/><circle cx="107.6" cy="99.9" r="1.65" fill="#6ab070"/><circle cx="95.4" cy="122.8" r="1.65" fill="#c860a8"/><circle cx="57.5" cy="68.5" r="1.65" fill="#ffffff"/><circle cx="45.5" cy="81.1" r="1.65" fill="#4848a4"/><circle cx="88.4" cy="67.0" r="1.65" fill="#e8e020"/><circle cx="80.4" cy="129.5" r="1.65" fill="#283080"/><circle cx="107.6" cy="96.4" r="1.65" fill="#6ab070"/><circle cx="107.6" cy="97.2" r="1.65" fill="#7aa860"/><circle cx="80.3" cy="64.5" r="1.65" fill="#5a6a20"/><circle cx="51.1" cy="120.4" r="1.65" fill="#9a48a8"/><circle cx="47.8" cy="116.5" r="1.65" fill="#7a3090"/><circle cx="88.9" cy="67.3" r="1.65" fill="#88b860"/><circle cx="41.7" cy="93.6" r="1.65" fill="#8a3a98"/><circle cx="107.0" cy="91.2" r="1.65" fill="#9ab838"/><circle cx="103.3" cy="80.9" r="1.65" fill="#6a8a28"/><circle cx="50.7" cy="74.2" r="1.65" fill="#242478"/><circle cx="45.3" cy="112.2" r="1.65" fill="#9a48a8"/><circle cx="77.9" cy="129.7" r="1.65" fill="#a050a8"/><circle cx="102.5" cy="79.8" r="1.65" fill="#6a8a28"/><circle cx="65.6" cy="128.6" r="1.65" fill="#ffffff"/><circle cx="56.2" cy="69.7" r="1.65" fill="#242478"/><circle cx="43.1" cy="106.7" r="1.65" fill="#6a3a98"/><circle cx="52.0" cy="73.1" r="1.65" fill="#242478"/><circle cx="96.4" cy="72.5" r="1.65" fill="#e8e020"/><circle cx="56.8" cy="69.4" r="1.65" fill="#7a8a38"/><circle cx="49.4" cy="118.1" r="1.65" fill="#4a3a90"/><circle cx="68.7" cy="129.2" r="1.65" fill="#d8d8f0"/><circle cx="77.8" cy="129.6" r="1.65" fill="#a050a8"/><circle cx="51.8" cy="120.5" r="1.65" fill="#9a48a8"/><circle cx="107.1" cy="97.5" r="1.65" fill="#6ab070"/><circle cx="97.0" cy="73.4" r="1.65" fill="#e8e020"/><circle cx="53.5" cy="72.0" r="1.65" fill="#6a7a28"/><circle cx="107.0" cy="99.4" r="1.65" fill="#6ab070"/><circle cx="43.8" cy="86.1" r="1.65" fill="#5858b0"/><circle cx="101.8" cy="79.2" r="1.65" fill="#88b860"/><circle cx="101.3" cy="115.5" r="1.65" fill="#c860a8"/><circle cx="43.8" cy="86.2" r="1.65" fill="#6a3a98"/><circle cx="73.7" cy="64.5" r="1.65" fill="#7a8a2a"/><circle cx="94.1" cy="123.0" r="1.65" fill="#408888"/><circle cx="43.8" cy="107.7" r="1.65" fill="#4a4aa4"/><circle cx="60.8" cy="126.4" r="1.65" fill="#58a0a0"/><circle cx="42.3" cy="92.9" r="1.65" fill="#6a3a98"/><circle cx="77.8" cy="129.3" r="1.65" fill="#d8d8f0"/><circle cx="89.7" cy="68.4" r="1.65" fill="#6a8a28"/><circle cx="102.9" cy="112.7" r="1.65" fill="#58a8a0"/><circle cx="71.2" cy="129.2" r="1.65" fill="#a050a8"/><circle cx="52.7" cy="73.0" r="1.65" fill="#4848a4"/><circle cx="53.3" cy="72.5" r="1.65" fill="#242478"/><circle cx="69.6" cy="129.0" r="1.65" fill="#283080"/><circle cx="72.6" cy="129.3" r="1.65" fill="#283080"/><circle cx="104.6" cy="108.9" r="1.65" fill="#283888"/><circle cx="49.3" cy="117.3" r="1.65" fill="#8a3a98"/><circle cx="45.4" cy="82.9" r="1.65" fill="#4848a4"/><circle cx="98.7" cy="118.4" r="1.65" fill="#58a8a8"/><circle cx="48.1" cy="78.3" r="1.65" fill="#242478"/><circle cx="84.3" cy="127.8" r="1.65" fill="#408888"/><circle cx="106.6" cy="100.7" r="1.65" fill="#88c0b0"/><circle cx="62.7" cy="127.0" r="1.65" fill="#8a3a98"/><circle cx="79.9" cy="65.2" r="1.65" fill="#6fb0a8"/><circle cx="106.7" cy="99.3" r="1.65" fill="#c8d040"/><circle cx="73.1" cy="64.8" r="1.65" fill="#ffffff"/><circle cx="104.3" cy="109.2" r="1.65" fill="#c8d040"/><circle cx="69.1" cy="65.3" r="1.65" fill="#7a8a2a"/><circle cx="105.4" cy="88.0" r="1.65" fill="#c8d040"/><circle cx="69.8" cy="65.2" r="1.65" fill="#7a8a2a"/><circle cx="49.4" cy="76.9" r="1.65" fill="#7a8a38"/><circle cx="74.6" cy="129.2" r="1.65" fill="#ffffff"/><circle cx="52.2" cy="73.8" r="1.65" fill="#7a8a38"/><circle cx="48.4" cy="115.7" r="1.65" fill="#6a2a80"/><circle cx="70.4" cy="65.2" r="1.65" fill="#ffffff"/><circle cx="103.2" cy="82.6" r="1.65" fill="#a8b840"/><circle cx="60.3" cy="68.2" r="1.65" fill="#6fb0a8"/><circle cx="46.2" cy="82.1" r="1.65" fill="#30308a"/><circle cx="60.1" cy="68.5" r="1.65" fill="#3a3a94"/><circle cx="56.0" cy="123.0" r="1.65" fill="#8a3a98"/><circle cx="103.4" cy="83.5" r="1.65" fill="#7aa860"/><circle cx="66.9" cy="66.1" r="1.65" fill="#ffffff"/><circle cx="44.7" cy="85.8" r="1.65" fill="#6a7a28"/><circle cx="99.2" cy="117.1" r="1.65" fill="#408888"/><circle cx="76.4" cy="65.2" r="1.65" fill="#9aa83a"/><circle cx="59.0" cy="124.8" r="1.65" fill="#8a3a98"/><circle cx="56.8" cy="70.6" r="1.65" fill="#3a3a94"/><circle cx="85.6" cy="67.2" r="1.65" fill="#9aa83a"/><circle cx="60.7" cy="68.4" r="1.65" fill="#30308a"/><circle cx="101.1" cy="114.3" r="1.65" fill="#6ab070"/><circle cx="68.6" cy="128.2" r="1.65" fill="#58a0a0"/><circle cx="55.1" cy="71.9" r="1.65" fill="#242478"/><circle cx="51.8" cy="119.1" r="1.65" fill="#6a2a80"/><circle cx="77.6" cy="128.5" r="1.65" fill="#ffffff"/><circle cx="105.6" cy="91.0" r="1.65" fill="#88c0b0"/><circle cx="52.3" cy="119.5" r="1.65" fill="#6a2a80"/><circle cx="86.3" cy="67.6" r="1.65" fill="#ffffff"/><circle cx="42.9" cy="98.2" r="1.65" fill="#5858b0"/><circle cx="43.1" cy="93.5" r="1.65" fill="#4a4aa4"/><circle cx="94.8" cy="121.3" r="1.65" fill="#70b8b0"/><circle cx="87.1" cy="126.0" r="1.65" fill="#c860a8"/><circle cx="53.2" cy="120.3" r="1.65" fill="#7a3090"/><circle cx="94.4" cy="121.6" r="1.65" fill="#88b848"/><circle cx="71.9" cy="65.5" r="1.65" fill="#5a6a20"/><circle cx="45.7" cy="84.1" r="1.65" fill="#8a3a98"/><circle cx="90.3" cy="69.7" r="1.65" fill="#8aa030"/><circle cx="72.3" cy="128.5" r="1.65" fill="#8a3a98"/><circle cx="68.5" cy="66.0" r="1.65" fill="#ffffff"/><circle cx="43.0" cy="96.2" r="1.65" fill="#6a3a98"/><circle cx="62.5" cy="126.2" r="1.65" fill="#283080"/><circle cx="103.3" cy="109.6" r="1.65" fill="#c860a8"/><circle cx="48.7" cy="78.9" r="1.65" fill="#3a3a94"/><circle cx="105.5" cy="102.5" r="1.65" fill="#6ab070"/><circle cx="104.9" cy="104.9" r="1.65" fill="#c8d040"/><circle cx="63.0" cy="126.3" r="1.65" fill="#a860b0"/><circle cx="52.6" cy="74.5" r="1.65" fill="#3a3a94"/><circle cx="79.7" cy="128.0" r="1.65" fill="#408888"/><circle cx="86.2" cy="126.1" r="1.65" fill="#8a3a98"/><circle cx="50.0" cy="77.4" r="1.65" fill="#30308a"/><circle cx="105.8" cy="98.0" r="1.65" fill="#c8d040"/><circle cx="82.2" cy="127.4" r="1.65" fill="#283888"/><circle cx="48.6" cy="114.7" r="1.65" fill="#9a48a8"/><circle cx="105.8" cy="97.3" r="1.65" fill="#88c0b0"/><circle cx="44.0" cy="90.0" r="1.65" fill="#8a3a98"/><circle cx="104.3" cy="106.6" r="1.65" fill="#7aa860"/><circle cx="50.5" cy="117.0" r="1.65" fill="#9a48a8"/><circle cx="102.9" cy="84.0" r="1.65" fill="#88b860"/><circle cx="105.5" cy="101.1" r="1.65" fill="#9ab838"/><circle cx="53.3" cy="74.0" r="1.65" fill="#3a3a94"/><circle cx="57.9" cy="123.5" r="1.65" fill="#8a3a98"/><circle cx="73.4" cy="128.2" r="1.65" fill="#d8d8f0"/><circle cx="61.8" cy="125.5" r="1.65" fill="#7a3090"/><circle cx="91.1" cy="70.6" r="1.65" fill="#88b860"/><circle cx="45.7" cy="85.1" r="1.65" fill="#3a3a94"/><circle cx="57.1" cy="71.1" r="1.65" fill="#3a3a94"/><circle cx="89.9" cy="124.1" r="1.65" fill="#408888"/><circle cx="100.8" cy="113.6" r="1.65" fill="#7aa860"/><circle cx="54.9" cy="72.8" r="1.65" fill="#4848a4"/><circle cx="57.4" cy="123.0" r="1.65" fill="#7a3090"/><circle cx="70.5" cy="66.2" r="1.65" fill="#5a6a20"/><circle cx="99.9" cy="114.9" r="1.65" fill="#70b8b0"/><circle cx="105.2" cy="92.4" r="1.65" fill="#88c0b0"/><circle cx="70.2" cy="66.2" r="1.65" fill="#ffffff"/><circle cx="74.1" cy="128.0" r="1.65" fill="#58a0a0"/><circle cx="55.9" cy="121.9" r="1.65" fill="#7a3090"/><circle cx="61.5" cy="68.8" r="1.65" fill="#7a8a38"/><circle cx="67.1" cy="66.9" r="1.65" fill="#7a8a2a"/><circle cx="68.2" cy="66.6" r="1.65" fill="#9aa83a"/><circle cx="49.5" cy="78.6" r="1.65" fill="#242478"/><circle cx="44.0" cy="102.4" r="1.65" fill="#30308a"/><circle cx="104.0" cy="87.6" r="1.65" fill="#6a8a28"/><circle cx="64.7" cy="67.6" r="1.65" fill="#3a3a94"/><circle cx="72.2" cy="66.1" r="1.65" fill="#6fb0a8"/><circle cx="80.7" cy="127.3" r="1.65" fill="#58a0a0"/><circle cx="47.2" cy="82.4" r="1.65" fill="#30308a"/><circle cx="85.4" cy="68.0" r="1.65" fill="#e8e020"/><circle cx="43.7" cy="94.0" r="1.65" fill="#3a3a94"/><circle cx="92.4" cy="122.2" r="1.65" fill="#c860a8"/><circle cx="78.8" cy="66.4" r="1.65" fill="#6fb0a8"/><circle cx="89.0" cy="124.3" r="1.65" fill="#58a8a8"/><circle cx="61.8" cy="68.8" r="1.65" fill="#242478"/><circle cx="45.0" cy="106.1" r="1.65" fill="#9a48a8"/><circle cx="44.9" cy="105.8" r="1.65" fill="#6a3a98"/><circle cx="59.3" cy="70.1" r="1.65" fill="#6a7a28"/><circle cx="83.6" cy="67.5" r="1.65" fill="#7a8a2a"/><circle cx="71.3" cy="66.3" r="1.65" fill="#9aa83a"/><circle cx="104.9" cy="91.6" r="1.65" fill="#9ab838"/><circle cx="97.0" cy="75.9" r="1.65" fill="#6a8a28"/><circle cx="75.9" cy="66.2" r="1.65" fill="#9aa83a"/><circle cx="88.8" cy="69.7" r="1.65" fill="#6a8a28"/><circle cx="69.7" cy="66.6" r="1.65" fill="#5a6a20"/><circle cx="96.1" cy="118.9" r="1.65" fill="#283888"/><circle cx="61.1" cy="69.3" r="1.65" fill="#30308a"/><circle cx="87.9" cy="69.4" r="1.65" fill="#8aa030"/><circle cx="53.4" cy="74.7" r="1.65" fill="#6a7a28"/><circle cx="63.1" cy="125.5" r="1.65" fill="#8a3a98"/><circle cx="43.9" cy="95.8" r="1.65" fill="#5858b0"/><circle cx="75.0" cy="127.6" r="1.65" fill="#a050a8"/><circle cx="59.8" cy="123.9" r="1.65" fill="#9a48a8"/><circle cx="96.2" cy="75.4" r="1.65" fill="#6a8a28"/><circle cx="46.8" cy="83.9" r="1.65" fill="#8a3a98"/><circle cx="105.1" cy="97.2" r="1.65" fill="#7aa860"/><circle cx="86.5" cy="125.1" r="1.65" fill="#283888"/><circle cx="91.0" cy="71.3" r="1.65" fill="#6a8a28"/><circle cx="52.4" cy="75.9" r="1.65" fill="#7a8a38"/><circle cx="102.8" cy="108.6" r="1.65" fill="#408888"/><circle cx="81.3" cy="67.2" r="1.65" fill="#5a6a20"/><circle cx="76.3" cy="127.5" r="1.65" fill="#283080"/><circle cx="56.8" cy="72.1" r="1.65" fill="#242478"/><circle cx="52.7" cy="118.5" r="1.65" fill="#4a3a90"/><circle cx="73.8" cy="66.5" r="1.65" fill="#ffffff"/><circle cx="55.7" cy="72.9" r="1.65" fill="#6a7a28"/><circle cx="64.3" cy="125.8" r="1.65" fill="#ffffff"/><circle cx="102.8" cy="108.4" r="1.65" fill="#7aa860"/><circle cx="96.5" cy="118.1" r="1.65" fill="#88b848"/><circle cx="105.0" cy="98.2" r="1.65" fill="#7aa860"/><circle cx="104.4" cy="90.8" r="1.65" fill="#88c0b0"/><circle cx="103.0" cy="86.2" r="1.65" fill="#6ab070"/><circle cx="80.7" cy="126.8" r="1.65" fill="#58a8a8"/><circle cx="87.3" cy="69.4" r="1.65" fill="#7a8a2a"/><circle cx="67.3" cy="126.5" r="1.65" fill="#d8d8f0"/><circle cx="75.7" cy="66.6" r="1.65" fill="#3a3a8a"/><circle cx="46.8" cy="84.6" r="1.65" fill="#30308a"/><circle cx="104.2" cy="90.4" r="1.65" fill="#7aa860"/><circle cx="99.2" cy="79.4" r="1.65" fill="#8aa030"/><circle cx="87.4" cy="69.5" r="1.65" fill="#5aa890"/><circle cx="45.6" cy="106.2" r="1.65" fill="#6a2a80"/><circle cx="93.6" cy="73.4" r="1.65" fill="#8aa030"/><circle cx="48.9" cy="113.3" r="1.65" fill="#4a3a90"/><circle cx="45.5" cy="105.8" r="1.65" fill="#9a48a8"/><circle cx="98.9" cy="115.1" r="1.65" fill="#88b848"/><circle cx="51.6" cy="116.8" r="1.65" fill="#8a3a98"/><circle cx="44.8" cy="103.0" r="1.65" fill="#3a3a94"/><circle cx="63.0" cy="125.0" r="1.65" fill="#8a3a98"/><circle cx="68.6" cy="126.7" r="1.65" fill="#ffffff"/><circle cx="89.2" cy="123.5" r="1.65" fill="#70b8b0"/><circle cx="74.2" cy="127.3" r="1.65" fill="#58a0a0"/><circle cx="68.5" cy="126.7" r="1.65" fill="#a050a8"/><circle cx="104.0" cy="90.3" r="1.65" fill="#7aa860"/><circle cx="60.2" cy="123.7" r="1.65" fill="#a050a8"/><circle cx="93.8" cy="120.3" r="1.65" fill="#58a8a8"/><circle cx="48.9" cy="80.9" r="1.65" fill="#4a4aa4"/><circle cx="65.6" cy="68.1" r="1.65" fill="#6a7a28"/><circle cx="49.8" cy="114.5" r="1.65" fill="#9a48a8"/><circle cx="91.1" cy="122.3" r="1.65" fill="#70b8b0"/><circle cx="44.6" cy="101.3" r="1.65" fill="#9a48a8"/><circle cx="103.9" cy="103.9" r="1.65" fill="#88c0b0"/><circle cx="47.3" cy="83.8" r="1.65" fill="#30308a"/><circle cx="98.5" cy="78.8" r="1.65" fill="#e8e020"/><circle cx="95.4" cy="118.8" r="1.65" fill="#88b848"/><circle cx="92.3" cy="72.7" r="1.65" fill="#8aa030"/><circle cx="100.9" cy="82.5" r="1.65" fill="#88c0b0"/><circle cx="58.4" cy="71.5" r="1.65" fill="#7a8a38"/><circle cx="54.7" cy="119.8" r="1.65" fill="#6a2a80"/><circle cx="70.5" cy="126.9" r="1.65" fill="#8a3a98"/><circle cx="104.6" cy="97.0" r="1.65" fill="#58a8a0"/><circle cx="87.3" cy="69.8" r="1.65" fill="#e8e020"/><circle cx="70.7" cy="67.2" r="1.65" fill="#3a3a8a"/><circle cx="103.1" cy="106.4" r="1.65" fill="#58a8a0"/><circle cx="104.4" cy="94.1" r="1.65" fill="#58a8a0"/><circle cx="98.6" cy="114.9" r="1.65" fill="#283888"/><circle cx="104.3" cy="100.9" r="1.65" fill="#88c0b0"/><circle cx="44.5" cy="96.3" r="1.65" fill="#30308a"/><circle cx="101.8" cy="84.5" r="1.65" fill="#88b860"/><circle cx="90.4" cy="122.5" r="1.65" fill="#88b848"/><circle cx="59.1" cy="71.2" r="1.65" fill="#6a7a28"/><circle cx="95.3" cy="75.4" r="1.65" fill="#88b860"/><circle cx="47.1" cy="84.7" r="1.65" fill="#6a3a98"/><circle cx="68.2" cy="126.3" r="1.65" fill="#283080"/><circle cx="51.6" cy="116.4" r="1.65" fill="#4a3a90"/><circle cx="74.8" cy="127.0" r="1.65" fill="#283080"/><circle cx="69.2" cy="67.5" r="1.65" fill="#6fb0a8"/><circle cx="103.8" cy="103.3" r="1.65" fill="#88c0b0"/><circle cx="68.8" cy="67.6" r="1.65" fill="#7a8a2a"/><circle cx="46.3" cy="86.8" r="1.65" fill="#30308a"/><circle cx="46.1" cy="106.4" r="1.65" fill="#8a3a98"/><circle cx="101.2" cy="110.5" r="1.65" fill="#c860a8"/><circle cx="46.8" cy="85.6" r="1.65" fill="#242478"/><circle cx="48.3" cy="111.4" r="1.65" fill="#9a48a8"/><circle cx="81.5" cy="67.9" r="1.65" fill="#5a6a20"/><circle cx="57.5" cy="121.6" r="1.65" fill="#a860b0"/><circle cx="61.1" cy="123.7" r="1.65" fill="#8a3a98"/><circle cx="69.3" cy="67.6" r="1.65" fill="#6fb0a8"/><circle cx="76.9" cy="67.2" r="1.65" fill="#7a8a2a"/><circle cx="68.4" cy="67.8" r="1.65" fill="#ffffff"/><circle cx="74.6" cy="126.9" r="1.65" fill="#ffffff"/><circle cx="49.7" cy="113.6" r="1.65" fill="#9a48a8"/><circle cx="102.3" cy="107.9" r="1.65" fill="#7aa860"/><circle cx="73.3" cy="67.2" r="1.65" fill="#ffffff"/><circle cx="57.8" cy="121.7" r="1.65" fill="#4a3a90"/><circle cx="104.3" cy="95.3" r="1.65" fill="#58a8a0"/><circle cx="51.3" cy="115.7" r="1.65" fill="#6a2a80"/><circle cx="88.2" cy="70.5" r="1.65" fill="#ffffff"/><circle cx="61.2" cy="70.4" r="1.65" fill="#6a7a28"/><circle cx="72.6" cy="126.7" r="1.65" fill="#8a3a98"/><circle cx="54.5" cy="119.1" r="1.65" fill="#7a3090"/><circle cx="73.8" cy="67.3" r="1.65" fill="#9aa83a"/><circle cx="104.0" cy="93.3" r="1.65" fill="#58a8a0"/><circle cx="97.8" cy="115.4" r="1.65" fill="#c860a8"/><circle cx="70.1" cy="126.4" r="1.65" fill="#58a0a0"/><circle cx="93.7" cy="74.3" r="1.65" fill="#5aa890"/><circle cx="101.2" cy="110.1" r="1.65" fill="#408888"/><circle cx="61.5" cy="70.3" r="1.65" fill="#4848a4"/><circle cx="84.9" cy="124.8" r="1.65" fill="#ffffff"/><circle cx="96.8" cy="77.4" r="1.65" fill="#5aa890"/><circle cx="103.6" cy="102.6" r="1.65" fill="#7aa860"/><circle cx="75.9" cy="67.4" r="1.65" fill="#7a8a2a"/><circle cx="103.2" cy="104.3" r="1.65" fill="#7aa860"/><circle cx="86.0" cy="69.7" r="1.65" fill="#9aa83a"/><circle cx="58.5" cy="72.1" r="1.65" fill="#7a8a38"/><circle cx="103.1" cy="89.2" r="1.65" fill="#58a8a0"/><circle cx="54.0" cy="75.6" r="1.65" fill="#6a7a28"/><circle cx="99.7" cy="81.4" r="1.65" fill="#5aa890"/><circle cx="45.3" cy="92.0" r="1.65" fill="#4a4aa4"/><circle cx="45.0" cy="99.0" r="1.65" fill="#6a3a98"/><circle cx="103.5" cy="91.0" r="1.65" fill="#9ab838"/><circle cx="75.0" cy="126.6" r="1.65" fill="#58a0a0"/><circle cx="49.4" cy="81.3" r="1.65" fill="#4848a4"/><circle cx="48.5" cy="111.1" r="1.65" fill="#7a3090"/><circle cx="45.0" cy="95.6" r="1.65" fill="#8a3a98"/><circle cx="102.9" cy="105.3" r="1.65" fill="#6ab070"/><circle cx="57.3" cy="73.0" r="1.65" fill="#30308a"/><circle cx="76.5" cy="126.5" r="1.65" fill="#a050a8"/><circle cx="77.6" cy="67.6" r="1.65" fill="#3a3a8a"/><circle cx="87.0" cy="70.3" r="1.65" fill="#8aa030"/><circle cx="58.4" cy="121.7" r="1.65" fill="#7a3090"/><circle cx="55.1" cy="119.2" r="1.65" fill="#a860b0"/><circle cx="88.6" cy="71.1" r="1.65" fill="#5aa890"/><circle cx="93.7" cy="74.6" r="1.65" fill="#88b860"/><circle cx="80.4" cy="68.1" r="1.65" fill="#ffffff"/><circle cx="55.6" cy="74.4" r="1.65" fill="#4848a4"/><circle cx="101.0" cy="84.1" r="1.65" fill="#8aa030"/><circle cx="45.1" cy="97.5" r="1.65" fill="#6a3a98"/><circle cx="56.1" cy="74.0" r="1.65" fill="#6a7a28"/><circle cx="52.3" cy="77.7" r="1.65" fill="#6a7a28"/><circle cx="57.7" cy="121.1" r="1.65" fill="#a050a8"/><circle cx="103.4" cy="102.3" r="1.65" fill="#6ab070"/><circle cx="102.1" cy="107.1" r="1.65" fill="#58a8a0"/><circle cx="103.2" cy="103.4" r="1.65" fill="#7aa860"/><circle cx="102.6" cy="88.4" r="1.65" fill="#6ab070"/><circle cx="57.7" cy="72.9" r="1.65" fill="#6a7a28"/><circle cx="102.5" cy="88.1" r="1.65" fill="#88c0b0"/><circle cx="102.7" cy="88.9" r="1.65" fill="#88b860"/><circle cx="46.0" cy="90.1" r="1.65" fill="#30308a"/><circle cx="55.3" cy="74.8" r="1.65" fill="#7a8a38"/><circle cx="73.1" cy="126.3" r="1.65" fill="#58a0a0"/><circle cx="92.3" cy="120.3" r="1.65" fill="#88b848"/><circle cx="87.7" cy="70.8" r="1.65" fill="#8aa030"/><circle cx="102.1" cy="106.8" r="1.65" fill="#58a8a0"/><circle cx="86.3" cy="70.1" r="1.65" fill="#a8b840"/><circle cx="58.8" cy="121.7" r="1.65" fill="#8a3a98"/><circle cx="103.5" cy="92.6" r="1.65" fill="#88c0b0"/><circle cx="97.6" cy="115.0" r="1.65" fill="#283888"/><circle cx="77.3" cy="126.2" r="1.65" fill="#8a3a98"/><circle cx="88.4" cy="71.2" r="1.65" fill="#e8e020"/><circle cx="97.5" cy="78.9" r="1.65" fill="#6a8a28"/><circle cx="101.8" cy="86.4" r="1.65" fill="#7aa860"/><circle cx="45.2" cy="96.1" r="1.65" fill="#30308a"/><circle cx="45.9" cy="103.3" r="1.65" fill="#6a2a80"/><circle cx="103.5" cy="93.1" r="1.65" fill="#c8d040"/><circle cx="56.5" cy="120.0" r="1.65" fill="#6a2a80"/><circle cx="98.4" cy="113.8" r="1.65" fill="#c860a8"/><circle cx="57.8" cy="120.9" r="1.65" fill="#a860b0"/><circle cx="102.8" cy="89.9" r="1.65" fill="#7aa860"/><circle cx="102.7" cy="104.5" r="1.65" fill="#6ab070"/><circle cx="99.7" cy="82.3" r="1.65" fill="#e8e020"/><circle cx="56.6" cy="120.0" r="1.65" fill="#6a2a80"/><circle cx="45.4" cy="95.0" r="1.65" fill="#6a3a98"/><circle cx="84.2" cy="124.4" r="1.65" fill="#a050a8"/><circle cx="45.4" cy="97.8" r="1.65" fill="#8a3a98"/><circle cx="69.1" cy="125.6" r="1.65" fill="#8a3a98"/><circle cx="101.9" cy="87.3" r="1.65" fill="#6a8a28"/><circle cx="48.5" cy="110.0" r="1.65" fill="#a860b0"/><circle cx="63.3" cy="123.9" r="1.65" fill="#58a0a0"/><circle cx="55.0" cy="75.4" r="1.65" fill="#30308a"/><circle cx="64.2" cy="124.2" r="1.65" fill="#8a3a98"/><circle cx="45.5" cy="97.0" r="1.65" fill="#8a3a98"/><circle cx="47.5" cy="107.7" r="1.65" fill="#6a2a80"/><circle cx="46.5" cy="104.5" r="1.65" fill="#6a3a98"/><circle cx="93.9" cy="118.5" r="1.65" fill="#70b8b0"/><circle cx="70.8" cy="125.7" r="1.65" fill="#ffffff"/><circle cx="100.5" cy="84.1" r="1.65" fill="#5aa890"/><circle cx="47.4" cy="107.3" r="1.65" fill="#a860b0"/><circle cx="90.0" cy="72.6" r="1.65" fill="#88b860"/><circle cx="73.5" cy="125.9" r="1.65" fill="#58a0a0"/><circle cx="45.8" cy="100.4" r="1.65" fill="#4a4aa4"/><circle cx="101.0" cy="85.4" r="1.65" fill="#88c0b0"/><circle cx="71.3" cy="125.7" r="1.65" fill="#8a3a98"/><circle cx="50.5" cy="113.1" r="1.65" fill="#a860b0"/><circle cx="86.4" cy="70.7" r="1.65" fill="#88b860"/><circle cx="46.5" cy="104.0" r="1.65" fill="#30308a"/><circle cx="45.9" cy="93.0" r="1.65" fill="#6a3a98"/><circle cx="101.1" cy="108.2" r="1.65" fill="#7aa860"/><circle cx="89.8" cy="72.6" r="1.65" fill="#a8b840"/><circle cx="89.7" cy="72.5" r="1.65" fill="#5aa890"/><circle cx="68.0" cy="125.1" r="1.65" fill="#58a0a0"/><circle cx="99.3" cy="82.3" r="1.65" fill="#6a8a28"/><circle cx="47.2" cy="106.2" r="1.65" fill="#30308a"/><circle cx="48.5" cy="84.5" r="1.65" fill="#3a3a94"/><circle cx="84.8" cy="123.9" r="1.65" fill="#d8d8f0"/><circle cx="81.9" cy="124.8" r="1.65" fill="#408888"/><circle cx="46.4" cy="90.9" r="1.65" fill="#5858b0"/><circle cx="46.2" cy="91.9" r="1.65" fill="#8a3a98"/><circle cx="82.3" cy="124.6" r="1.65" fill="#283080"/><circle cx="46.4" cy="102.9" r="1.65" fill="#7a3090"/><circle cx="101.4" cy="87.0" r="1.65" fill="#7aa860"/><circle cx="101.0" cy="107.9" r="1.65" fill="#58a8a0"/><circle cx="79.8" cy="125.2" r="1.65" fill="#d8d8f0"/><circle cx="73.2" cy="125.6" r="1.65" fill="#d8d8f0"/><circle cx="92.7" cy="119.2" r="1.65" fill="#c860a8"/><circle cx="47.3" cy="105.9" r="1.65" fill="#7a3090"/><circle cx="52.6" cy="115.5" r="1.65" fill="#a860b0"/><circle cx="70.0" cy="125.3" r="1.65" fill="#58a0a0"/><circle cx="97.1" cy="114.5" r="1.65" fill="#88b848"/><circle cx="71.8" cy="125.5" r="1.65" fill="#ffffff"/><circle cx="47.2" cy="88.5" r="1.65" fill="#4a4aa4"/><circle cx="50.1" cy="111.9" r="1.65" fill="#6a2a80"/><circle cx="75.7" cy="125.5" r="1.65" fill="#d8d8f0"/><circle cx="51.5" cy="80.1" r="1.65" fill="#30308a"/><circle cx="90.6" cy="120.6" r="1.65" fill="#283888"/><circle cx="100.3" cy="109.1" r="1.65" fill="#9ab838"/><circle cx="46.6" cy="103.0" r="1.65" fill="#6a3a98"/><circle cx="89.3" cy="72.7" r="1.65" fill="#e8e020"/><circle cx="46.4" cy="101.8" r="1.65" fill="#4a4aa4"/><circle cx="92.9" cy="75.3" r="1.65" fill="#5aa890"/><circle cx="98.5" cy="81.8" r="1.65" fill="#e8e020"/><circle cx="96.4" cy="78.9" r="1.65" fill="#5aa890"/><circle cx="76.6" cy="125.3" r="1.65" fill="#8a3a98"/><circle cx="50.3" cy="82.2" r="1.65" fill="#242478"/><circle cx="97.0" cy="79.8" r="1.65" fill="#a8b840"/><circle cx="77.3" cy="125.1" r="1.65" fill="#58a0a0"/><circle cx="46.8" cy="91.6" r="1.65" fill="#5858b0"/><circle cx="46.4" cy="99.4" r="1.65" fill="#4a4aa4"/><circle cx="47.5" cy="88.7" r="1.65" fill="#4a4aa4"/><circle cx="46.3" cy="98.2" r="1.65" fill="#5858b0"/><circle cx="97.1" cy="80.1" r="1.65" fill="#8aa030"/><circle cx="97.0" cy="80.0" r="1.65" fill="#a8b840"/><circle cx="46.5" cy="100.1" r="1.65" fill="#4a3a90"/><circle cx="46.4" cy="95.0" r="1.65" fill="#6a3a98"/><circle cx="48.8" cy="85.4" r="1.65" fill="#8a3a98"/><circle cx="95.6" cy="78.3" r="1.65" fill="#8aa030"/><circle cx="73.8" cy="125.2" r="1.65" fill="#a050a8"/><circle cx="96.0" cy="78.8" r="1.65" fill="#5aa890"/><circle cx="46.4" cy="95.2" r="1.65" fill="#8a3a98"/><circle cx="94.1" cy="76.8" r="1.65" fill="#8aa030"/><circle cx="93.9" cy="76.6" r="1.65" fill="#5aa890"/><circle cx="95.0" cy="77.7" r="1.65" fill="#6a8a28"/><circle cx="99.2" cy="110.4" r="1.65" fill="#c8d040"/><circle cx="46.5" cy="99.4" r="1.65" fill="#30308a"/><circle cx="75.0" cy="125.1" r="1.65" fill="#d8d8f0"/><circle cx="46.4" cy="98.2" r="1.65" fill="#5858b0"/><circle cx="47.4" cy="89.5" r="1.65" fill="#6a3a98"/><circle cx="46.5" cy="98.9" r="1.65" fill="#3a3a94"/><circle cx="46.6" cy="93.6" r="1.65" fill="#6a3a98"/><circle cx="47.2" cy="90.5" r="1.65" fill="#3a3a94"/><circle cx="46.7" cy="92.9" r="1.65" fill="#5858b0"/><circle cx="74.4" cy="125.1" r="1.65" fill="#283080"/><circle cx="96.1" cy="114.7" r="1.65" fill="#283888"/><circle cx="98.5" cy="111.4" r="1.65" fill="#58a8a0"/><circle cx="96.3" cy="114.3" r="1.65" fill="#283888"/><circle cx="96.3" cy="114.4" r="1.65" fill="#c860a8"/><circle cx="91.5" cy="119.1" r="1.65" fill="#58a8a8"/><circle cx="83.6" cy="123.3" r="1.65" fill="#d8d8f0"/><circle cx="78.7" cy="124.5" r="1.65" fill="#8a3a98"/><circle cx="98.5" cy="110.9" r="1.65" fill="#7aa860"/><circle cx="81.6" cy="123.9" r="1.65" fill="#283888"/><circle cx="94.4" cy="116.4" r="1.65" fill="#283888"/><circle cx="90.0" cy="120.0" r="1.65" fill="#88b848"/><circle cx="82.9" cy="123.4" r="1.65" fill="#70b8b0"/><circle cx="93.7" cy="117.0" r="1.65" fill="#c860a8"/><circle cx="77.6" cy="124.5" r="1.65" fill="#58a0a0"/><circle cx="93.5" cy="117.1" r="1.65" fill="#283888"/><circle cx="78.0" cy="124.4" r="1.65" fill="#c860a8"/><circle cx="86.8" cy="121.7" r="1.65" fill="#58a8a8"/><circle cx="97.8" cy="111.7" r="1.65" fill="#408888"/><circle cx="96.6" cy="113.4" r="1.65" fill="#c860a8"/><circle cx="78.5" cy="124.3" r="1.65" fill="#70b8b0"/><circle cx="84.8" cy="122.5" r="1.65" fill="#408888"/><circle cx="91.0" cy="119.0" r="1.65" fill="#58a8a8"/><circle cx="94.1" cy="116.3" r="1.65" fill="#c860a8"/><circle cx="79.4" cy="124.1" r="1.65" fill="#283080"/><circle cx="79.3" cy="124.0" r="1.65" fill="#ffffff"/><circle cx="95.7" cy="114.4" r="1.65" fill="#88b848"/><circle cx="93.0" cy="117.2" r="1.65" fill="#c860a8"/><circle cx="95.7" cy="114.3" r="1.65" fill="#58a8a8"/><circle cx="96.6" cy="113.0" r="1.65" fill="#70b8b0"/><circle cx="94.5" cy="115.6" r="1.65" fill="#88b848"/><circle cx="83.3" cy="122.7" r="1.65" fill="#283888"/><circle cx="91.6" cy="118.0" r="1.65" fill="#70b8b0"/><circle cx="82.5" cy="122.8" r="1.65" fill="#a050a8"/><circle cx="84.0" cy="122.1" r="1.65" fill="#58a8a8"/><circle cx="87.8" cy="120.3" r="1.65" fill="#283888"/><circle cx="93.2" cy="116.2" r="1.65" fill="#408888"/><circle cx="94.9" cy="114.3" r="1.65" fill="#9ab838"/><circle cx="93.5" cy="115.8" r="1.65" fill="#58a8a8"/><circle cx="85.5" cy="121.3" r="1.65" fill="#88b848"/><circle cx="89.5" cy="119.0" r="1.65" fill="#58a8a8"/><circle cx="94.8" cy="114.2" r="1.65" fill="#c860a8"/><circle cx="87.6" cy="120.1" r="1.65" fill="#408888"/><circle cx="85.5" cy="121.0" r="1.65" fill="#283888"/><circle cx="90.8" cy="117.7" r="1.65" fill="#58a8a8"/><circle cx="92.5" cy="115.9" r="1.65" fill="#c860a8"/><circle cx="88.7" cy="118.9" r="1.65" fill="#58a8a8"/><circle cx="87.2" cy="119.8" r="1.65" fill="#70b8b0"/><circle cx="92.2" cy="116.1" r="1.65" fill="#408888"/><circle cx="90.9" cy="117.3" r="1.65" fill="#88b848"/><circle cx="89.9" cy="117.9" r="1.65" fill="#283888"/><circle cx="90.5" cy="117.5" r="1.65" fill="#408888"/><circle cx="91.0" cy="117.0" r="1.65" fill="#88b848"/><circle cx="89.5" cy="118.2" r="1.65" fill="#58a8a8"/></g>
<circle cx="75.5" cy="99.0" r="30" fill="#404046" opacity="0.85" filter="url(#b1)"/>
<g stroke="#1a1a1a" stroke-width="0.3" stroke-opacity="0.5">
<circle cx="63.3" cy="86.4" r="14.5" fill="#3e404a" fill-opacity="0.93"/>
<circle cx="92.7" cy="93.2" r="16" fill="#85873f" fill-opacity="0.92"/>
<circle cx="60.4" cy="112.8" r="13" fill="#4e4252" fill-opacity="0.92"/>
<circle cx="90.8" cy="108.5" r="14" fill="#6c6c5e" fill-opacity="0.88"/>
<circle cx="72.5" cy="114.5" r="13.8" fill="#564a5a" fill-opacity="0.9"/>
</g>
<g><rect x="82.9" y="88.5" width="1.6" height="1.6" fill="#a8a848" opacity="0.82"/><rect x="76.6" y="123.4" width="1.0" height="1.0" fill="#5a4a60" opacity="0.64"/><rect x="55.5" y="98.3" width="1.8" height="1.8" fill="#b0a830" opacity="0.81"/><rect x="98.0" y="99.0" width="1.5" height="1.5" fill="#a8a848" opacity="0.88"/><rect x="74.6" y="92.4" width="1.1" height="1.1" fill="#d8d028" opacity="0.86"/><rect x="95.8" y="98.2" width="1.8" height="1.8" fill="#c0c038" opacity="0.65"/><rect x="79.4" y="123.0" width="1.8" height="1.8" fill="#b0b040" opacity="0.66"/><rect x="73.6" y="110.2" width="1.9" height="1.9" fill="#d8d030" opacity="0.59"/><rect x="76.4" y="69.1" width="1.7" height="1.7" fill="#7a3a88" opacity="0.47"/><rect x="86.1" y="117.0" width="1.9" height="1.9" fill="#d0c838" opacity="0.60"/><rect x="53.4" y="118.0" width="1.5" height="1.5" fill="#7a3a88" opacity="0.74"/><rect x="84.2" y="78.4" width="1.7" height="1.7" fill="#b8b840" opacity="0.80"/><rect x="49.4" y="92.1" width="1.6" height="1.6" fill="#40408a" opacity="0.66"/><rect x="61.5" y="92.9" width="1.7" height="1.7" fill="#30307a" opacity="0.82"/><rect x="64.1" y="100.9" width="1.9" height="1.9" fill="#503060" opacity="0.67"/><rect x="68.1" y="92.6" width="1.0" height="1.0" fill="#2a2a6a" opacity="0.75"/><rect x="76.9" y="127.4" width="1.2" height="1.2" fill="#7a3a88" opacity="0.44"/><rect x="68.4" y="113.8" width="1.9" height="1.9" fill="#5a4a60" opacity="0.64"/><rect x="75.0" y="95.6" width="1.6" height="1.6" fill="#d8d028" opacity="0.47"/><rect x="76.4" y="84.1" width="1.3" height="1.3" fill="#c04030" opacity="0.58"/><rect x="55.5" y="82.1" width="1.7" height="1.7" fill="#d8d028" opacity="0.86"/><rect x="73.7" y="93.0" width="1.3" height="1.3" fill="#30307a" opacity="0.83"/><rect x="84.2" y="89.1" width="1.6" height="1.6" fill="#ece430" opacity="0.73"/><rect x="74.6" y="115.4" width="1.3" height="1.3" fill="#6a5a70" opacity="0.41"/><rect x="81.4" y="109.0" width="1.4" height="1.4" fill="#7a7a6a" opacity="0.66"/><rect x="55.7" y="79.6" width="1.1" height="1.1" fill="#2a2a6a" opacity="0.57"/><rect x="71.0" y="100.7" width="1.3" height="1.3" fill="#503060" opacity="0.62"/><rect x="75.2" y="97.0" width="1.7" height="1.7" fill="#b0a830" opacity="0.85"/><rect x="65.0" y="96.4" width="1.2" height="1.2" fill="#2a2a6a" opacity="0.64"/><rect x="84.7" y="102.5" width="1.4" height="1.4" fill="#c0c038" opacity="0.61"/><rect x="61.4" y="79.9" width="1.4" height="1.4" fill="#50505c" opacity="0.87"/><rect x="79.0" y="74.1" width="1.2" height="1.2" fill="#a8a848" opacity="0.63"/><rect x="78.0" y="96.5" width="1.0" height="1.0" fill="#8a7a90" opacity="0.57"/><rect x="97.6" y="90.4" width="1.6" height="1.6" fill="#b8b840" opacity="0.82"/><rect x="73.9" y="71.2" width="1.9" height="1.9" fill="#b0a830" opacity="0.60"/><rect x="98.8" y="113.8" width="1.9" height="1.9" fill="#7a7a6a" opacity="0.50"/><rect x="59.9" y="79.5" width="1.6" height="1.6" fill="#d8d028" opacity="0.72"/><rect x="72.4" y="105.9" width="1.0" height="1.0" fill="#7a3a88" opacity="0.61"/><rect x="95.2" y="108.5" width="1.9" height="1.9" fill="#7a7a6a" opacity="0.60"/><rect x="68.8" y="83.5" width="1.0" height="1.0" fill="#5a5a70" opacity="0.53"/><rect x="68.2" y="116.9" width="1.6" height="1.6" fill="#6a4a7a" opacity="0.58"/><rect x="99.7" y="115.2" width="1.1" height="1.1" fill="#8a8a70" opacity="0.53"/><rect x="53.7" y="115.9" width="1.7" height="1.7" fill="#7a3a88" opacity="0.74"/><rect x="67.2" y="84.2" width="1.0" height="1.0" fill="#ece420" opacity="0.83"/><rect x="97.9" y="112.8" width="1.6" height="1.6" fill="#7a7a6a" opacity="0.63"/><rect x="80.0" y="109.2" width="1.0" height="1.0" fill="#d0c838" opacity="0.73"/><rect x="74.7" y="107.6" width="1.2" height="1.2" fill="#503060" opacity="0.42"/><rect x="71.3" y="127.9" width="1.6" height="1.6" fill="#6a5a70" opacity="0.55"/><rect x="92.7" y="119.5" width="1.1" height="1.1" fill="#8a8a70" opacity="0.55"/><rect x="59.8" y="73.6" width="1.3" height="1.3" fill="#30307a" opacity="0.58"/><rect x="76.0" y="83.6" width="1.7" height="1.7" fill="#b0a830" opacity="0.85"/><rect x="84.2" y="86.4" width="0.9" height="0.9" fill="#c0c038" opacity="0.66"/><rect x="90.5" y="109.7" width="0.9" height="0.9" fill="#8a8a70" opacity="0.49"/><rect x="65.0" y="102.3" width="1.4" height="1.4" fill="#5a4a60" opacity="0.62"/><rect x="57.0" y="110.5" width="1.3" height="1.3" fill="#6a4a7a" opacity="0.76"/><rect x="87.4" y="103.4" width="1.4" height="1.4" fill="#ece430" opacity="0.69"/><rect x="96.1" y="89.3" width="1.4" height="1.4" fill="#e0d830" opacity="0.75"/><rect x="80.2" y="122.2" width="1.0" height="1.0" fill="#909080" opacity="0.55"/><rect x="68.2" y="101.4" width="1.2" height="1.2" fill="#6a4a7a" opacity="0.60"/><rect x="92.0" y="111.1" width="1.4" height="1.4" fill="#9a9a60" opacity="0.77"/><rect x="74.0" y="90.1" width="1.0" height="1.0" fill="#5a5a70" opacity="0.73"/><rect x="69.3" y="125.1" width="1.9" height="1.9" fill="#7a3a88" opacity="0.45"/><rect x="61.6" y="99.7" width="1.7" height="1.7" fill="#d8d030" opacity="0.65"/><rect x="95.1" y="84.0" width="1.4" height="1.4" fill="#a8a848" opacity="0.85"/><rect x="77.2" y="120.3" width="1.0" height="1.0" fill="#6a4a7a" opacity="0.66"/><rect x="84.6" y="69.7" width="1.8" height="1.8" fill="#a8a848" opacity="0.57"/><rect x="61.0" y="77.5" width="1.4" height="1.4" fill="#b0a830" opacity="0.46"/><rect x="71.2" y="77.6" width="1.9" height="1.9" fill="#ece420" opacity="0.58"/><rect x="83.7" y="83.6" width="1.8" height="1.8" fill="#ece430" opacity="0.78"/><rect x="54.0" y="113.1" width="1.4" height="1.4" fill="#d8d030" opacity="0.54"/><rect x="92.2" y="105.9" width="1.4" height="1.4" fill="#909080" opacity="0.78"/><rect x="99.2" y="97.1" width="1.4" height="1.4" fill="#d0c830" opacity="0.63"/><rect x="64.5" y="123.6" width="1.9" height="1.9" fill="#8a7a90" opacity="0.49"/><rect x="66.1" y="116.0" width="1.6" height="1.6" fill="#6a5a70" opacity="0.57"/><rect x="50.3" y="87.2" width="0.9" height="0.9" fill="#b0a830" opacity="0.82"/><rect x="62.5" y="88.4" width="1.4" height="1.4" fill="#5a5a70" opacity="0.66"/><rect x="62.9" y="108.7" width="1.3" height="1.3" fill="#7a3a88" opacity="0.51"/><rect x="100.8" y="81.6" width="1.8" height="1.8" fill="#d0c830" opacity="0.78"/><rect x="88.7" y="103.4" width="1.7" height="1.7" fill="#d0c830" opacity="0.58"/><rect x="78.5" y="83.0" width="1.8" height="1.8" fill="#b8b840" opacity="0.81"/><rect x="90.5" y="94.2" width="1.0" height="1.0" fill="#a8a848" opacity="0.71"/><rect x="83.6" y="93.4" width="1.0" height="1.0" fill="#e0d830" opacity="0.91"/><rect x="75.1" y="85.3" width="1.4" height="1.4" fill="#30307a" opacity="0.64"/><rect x="91.0" y="75.6" width="1.5" height="1.5" fill="#a8a848" opacity="0.83"/><rect x="53.9" y="105.3" width="1.9" height="1.9" fill="#6a5a70" opacity="0.76"/><rect x="78.0" y="106.5" width="1.1" height="1.1" fill="#8a7a90" opacity="0.63"/><rect x="69.0" y="83.4" width="1.9" height="1.9" fill="#b0a830" opacity="0.64"/><rect x="73.5" y="126.4" width="1.4" height="1.4" fill="#d8d030" opacity="0.65"/><rect x="61.8" y="73.9" width="1.2" height="1.2" fill="#ece420" opacity="0.65"/><rect x="76.9" y="68.1" width="1.2" height="1.2" fill="#6a4a7a" opacity="0.59"/><rect x="105.1" y="92.9" width="1.1" height="1.1" fill="#e0d830" opacity="0.93"/><rect x="49.1" y="114.6" width="1.6" height="1.6" fill="#503060" opacity="0.55"/><rect x="59.0" y="113.4" width="1.1" height="1.1" fill="#6a5a70" opacity="0.45"/><rect x="78.1" y="113.7" width="1.8" height="1.8" fill="#d8d030" opacity="0.60"/><rect x="56.0" y="81.5" width="1.8" height="1.8" fill="#5a5a70" opacity="0.71"/><rect x="58.3" y="89.5" width="1.7" height="1.7" fill="#50505c" opacity="0.59"/><rect x="66.1" y="74.6" width="1.0" height="1.0" fill="#30307a" opacity="0.63"/><rect x="63.2" y="86.0" width="1.6" height="1.6" fill="#b0a830" opacity="0.74"/><rect x="88.2" y="95.3" width="1.5" height="1.5" fill="#e8e030" opacity="0.89"/><rect x="78.7" y="104.9" width="1.8" height="1.8" fill="#c0c038" opacity="0.89"/><rect x="63.1" y="91.0" width="1.3" height="1.3" fill="#ece420" opacity="0.72"/><rect x="70.1" y="96.5" width="1.0" height="1.0" fill="#ece420" opacity="0.83"/><rect x="74.8" y="111.1" width="1.6" height="1.6" fill="#6a4a7a" opacity="0.51"/><rect x="79.3" y="98.2" width="1.0" height="1.0" fill="#e0d830" opacity="0.58"/><rect x="81.7" y="118.5" width="1.2" height="1.2" fill="#d0c838" opacity="0.61"/><rect x="56.0" y="108.7" width="1.8" height="1.8" fill="#8a7a90" opacity="0.53"/><rect x="73.3" y="114.1" width="1.6" height="1.6" fill="#7a3a88" opacity="0.65"/><rect x="72.6" y="125.8" width="1.4" height="1.4" fill="#6a5a70" opacity="0.54"/><rect x="86.0" y="125.8" width="1.7" height="1.7" fill="#b0b040" opacity="0.72"/><rect x="85.6" y="81.3" width="1.1" height="1.1" fill="#ece430" opacity="0.84"/><rect x="83.1" y="71.9" width="1.1" height="1.1" fill="#e0d830" opacity="0.58"/><rect x="80.6" y="78.4" width="1.1" height="1.1" fill="#c0c038" opacity="0.87"/><rect x="96.1" y="112.5" width="0.9" height="0.9" fill="#b0b040" opacity="0.57"/><rect x="88.1" y="92.6" width="1.1" height="1.1" fill="#e8e030" opacity="0.80"/><rect x="74.0" y="118.7" width="0.9" height="0.9" fill="#6a5a70" opacity="0.69"/><rect x="72.4" y="83.8" width="1.6" height="1.6" fill="#40408a" opacity="0.55"/><rect x="61.9" y="102.2" width="1.2" height="1.2" fill="#6a4a7a" opacity="0.48"/><rect x="66.5" y="84.8" width="1.4" height="1.4" fill="#30307a" opacity="0.48"/><rect x="61.0" y="120.3" width="1.4" height="1.4" fill="#8a7a90" opacity="0.56"/><rect x="65.6" y="124.1" width="0.9" height="0.9" fill="#6a5a70" opacity="0.44"/><rect x="62.9" y="97.4" width="1.1" height="1.1" fill="#b0a830" opacity="0.66"/><rect x="90.8" y="113.3" width="1.6" height="1.6" fill="#b0b040" opacity="0.75"/><rect x="57.9" y="101.1" width="1.0" height="1.0" fill="#7a3a88" opacity="0.44"/><rect x="58.4" y="112.3" width="1.4" height="1.4" fill="#8a7a90" opacity="0.72"/><rect x="47.7" y="107.3" width="1.3" height="1.3" fill="#c04030" opacity="0.71"/><rect x="46.8" y="108.3" width="1.0" height="1.0" fill="#6a5a70" opacity="0.65"/><rect x="50.8" y="104.9" width="1.8" height="1.8" fill="#8a7a90" opacity="0.45"/><rect x="96.4" y="90.2" width="1.5" height="1.5" fill="#e0d830" opacity="0.74"/><rect x="72.5" y="106.2" width="1.0" height="1.0" fill="#6a5a70" opacity="0.57"/><rect x="67.1" y="104.0" width="1.8" height="1.8" fill="#d8d030" opacity="0.41"/><rect x="63.8" y="78.3" width="1.7" height="1.7" fill="#d8d028" opacity="0.59"/><rect x="59.0" y="86.2" width="1.7" height="1.7" fill="#b0a830" opacity="0.53"/><rect x="58.7" y="106.4" width="1.4" height="1.4" fill="#7a3a88" opacity="0.76"/><rect x="65.7" y="95.1" width="1.9" height="1.9" fill="#50505c" opacity="0.66"/><rect x="61.7" y="88.3" width="1.1" height="1.1" fill="#5a5a70" opacity="0.63"/><rect x="80.9" y="72.1" width="1.7" height="1.7" fill="#c0c038" opacity="0.59"/><rect x="66.5" y="111.2" width="1.7" height="1.7" fill="#8a7a90" opacity="0.61"/><rect x="64.4" y="69.3" width="1.6" height="1.6" fill="#2a2a6a" opacity="0.59"/><rect x="89.5" y="77.3" width="1.7" height="1.7" fill="#a8a848" opacity="0.72"/><rect x="90.3" y="80.6" width="1.2" height="1.2" fill="#e0d830" opacity="0.86"/><rect x="80.7" y="99.9" width="1.2" height="1.2" fill="#ece430" opacity="0.64"/><rect x="97.0" y="77.9" width="1.3" height="1.3" fill="#ece430" opacity="0.70"/><rect x="67.3" y="105.3" width="1.6" height="1.6" fill="#503060" opacity="0.41"/><rect x="75.8" y="71.1" width="1.5" height="1.5" fill="#b0a830" opacity="0.82"/><rect x="102.3" y="107.6" width="1.7" height="1.7" fill="#a0a070" opacity="0.70"/><rect x="74.4" y="123.5" width="1.2" height="1.2" fill="#c04030" opacity="0.57"/><rect x="76.3" y="124.3" width="1.7" height="1.7" fill="#d8d030" opacity="0.54"/><rect x="91.3" y="74.3" width="1.9" height="1.9" fill="#d0c830" opacity="0.89"/><rect x="90.6" y="81.8" width="1.7" height="1.7" fill="#e0d830" opacity="0.87"/><rect x="104.6" y="94.2" width="1.7" height="1.7" fill="#c0c038" opacity="0.86"/><rect x="84.8" y="88.1" width="1.0" height="1.0" fill="#ece430" opacity="0.69"/><rect x="96.3" y="118.1" width="1.3" height="1.3" fill="#909080" opacity="0.41"/><rect x="58.4" y="83.8" width="1.4" height="1.4" fill="#ece420" opacity="0.54"/><rect x="52.1" y="114.3" width="1.5" height="1.5" fill="#c04030" opacity="0.52"/><rect x="91.7" y="85.3" width="1.2" height="1.2" fill="#ece430" opacity="0.84"/><rect x="91.0" y="81.3" width="1.9" height="1.9" fill="#e0d830" opacity="0.79"/><rect x="81.0" y="93.2" width="1.8" height="1.8" fill="#c0c038" opacity="0.72"/><rect x="67.4" y="85.9" width="1.8" height="1.8" fill="#2a2a6a" opacity="0.69"/><rect x="59.1" y="74.1" width="1.5" height="1.5" fill="#ece420" opacity="0.66"/><rect x="86.0" y="100.1" width="1.2" height="1.2" fill="#e0d830" opacity="0.62"/><rect x="48.0" y="95.6" width="1.6" height="1.6" fill="#d8d028" opacity="0.55"/><rect x="79.5" y="84.6" width="1.3" height="1.3" fill="#a8a848" opacity="0.72"/><rect x="67.1" y="69.1" width="1.9" height="1.9" fill="#b0a830" opacity="0.60"/><rect x="44.4" y="95.3" width="1.4" height="1.4" fill="#5a5a70" opacity="0.70"/><rect x="69.0" y="88.0" width="1.5" height="1.5" fill="#50505c" opacity="0.90"/><rect x="78.4" y="85.4" width="1.7" height="1.7" fill="#a8a848" opacity="0.77"/><rect x="87.7" y="84.8" width="0.9" height="0.9" fill="#e0d830" opacity="0.63"/><rect x="45.2" y="97.6" width="1.8" height="1.8" fill="#b0a830" opacity="0.68"/><rect x="63.9" y="94.0" width="1.3" height="1.3" fill="#5a5a70" opacity="0.81"/><rect x="62.3" y="89.0" width="1.1" height="1.1" fill="#40408a" opacity="0.56"/><rect x="69.6" y="92.9" width="1.8" height="1.8" fill="#ece420" opacity="0.81"/><rect x="88.7" y="121.9" width="1.4" height="1.4" fill="#b0b040" opacity="0.50"/><rect x="85.6" y="119.7" width="1.5" height="1.5" fill="#909080" opacity="0.48"/><rect x="69.7" y="71.7" width="1.7" height="1.7" fill="#b0a830" opacity="0.57"/><rect x="81.3" y="95.3" width="1.0" height="1.0" fill="#e0d830" opacity="0.73"/><rect x="100.0" y="110.1" width="1.2" height="1.2" fill="#7a7a6a" opacity="0.57"/><rect x="81.5" y="110.9" width="1.7" height="1.7" fill="#b0b040" opacity="0.53"/><rect x="75.3" y="112.2" width="1.3" height="1.3" fill="#6a4a7a" opacity="0.75"/><rect x="59.1" y="105.2" width="1.0" height="1.0" fill="#503060" opacity="0.58"/><rect x="65.6" y="92.5" width="1.4" height="1.4" fill="#40408a" opacity="0.53"/><rect x="46.5" y="109.7" width="1.2" height="1.2" fill="#5a4a60" opacity="0.59"/><rect x="53.8" y="96.0" width="1.1" height="1.1" fill="#30307a" opacity="0.68"/><rect x="63.4" y="113.8" width="1.3" height="1.3" fill="#7a3a88" opacity="0.56"/><rect x="58.4" y="106.6" width="1.4" height="1.4" fill="#c04030" opacity="0.66"/><rect x="86.3" y="78.4" width="1.6" height="1.6" fill="#e0d830" opacity="0.89"/><rect x="59.7" y="117.7" width="1.5" height="1.5" fill="#c04030" opacity="0.78"/><rect x="88.5" y="118.9" width="1.8" height="1.8" fill="#7a7a6a" opacity="0.69"/><rect x="86.3" y="113.2" width="1.2" height="1.2" fill="#909080" opacity="0.56"/><rect x="61.8" y="92.0" width="1.3" height="1.3" fill="#30307a" opacity="0.70"/><rect x="79.0" y="107.7" width="1.7" height="1.7" fill="#d8d030" opacity="0.65"/><rect x="59.6" y="104.2" width="1.4" height="1.4" fill="#d8d030" opacity="0.54"/><rect x="97.3" y="87.8" width="1.2" height="1.2" fill="#c0c038" opacity="0.60"/><rect x="56.7" y="83.3" width="1.7" height="1.7" fill="#40408a" opacity="0.46"/><rect x="100.4" y="109.8" width="1.2" height="1.2" fill="#7a7a6a" opacity="0.62"/><rect x="61.0" y="122.8" width="1.3" height="1.3" fill="#6a4a7a" opacity="0.78"/><rect x="87.6" y="105.0" width="1.0" height="1.0" fill="#a8a848" opacity="0.87"/><rect x="75.6" y="105.4" width="1.9" height="1.9" fill="#8a7a90" opacity="0.45"/><rect x="83.0" y="92.5" width="1.8" height="1.8" fill="#d0c830" opacity="0.77"/><rect x="100.2" y="114.4" width="0.9" height="0.9" fill="#9a9a60" opacity="0.74"/><rect x="48.1" y="98.6" width="1.8" height="1.8" fill="#50505c" opacity="0.49"/><rect x="75.6" y="74.6" width="1.0" height="1.0" fill="#40408a" opacity="0.47"/><rect x="78.2" y="101.7" width="1.1" height="1.1" fill="#6a4a7a" opacity="0.44"/><rect x="85.1" y="120.4" width="1.1" height="1.1" fill="#7a7a6a" opacity="0.78"/><rect x="95.7" y="118.2" width="1.2" height="1.2" fill="#8a8a70" opacity="0.56"/><rect x="77.9" y="128.5" width="1.8" height="1.8" fill="#6a4a7a" opacity="0.47"/><rect x="81.4" y="74.7" width="1.4" height="1.4" fill="#a8a848" opacity="0.57"/><rect x="72.2" y="93.0" width="1.8" height="1.8" fill="#5a5a70" opacity="0.70"/><rect x="95.3" y="100.2" width="1.2" height="1.2" fill="#e0d830" opacity="0.79"/><rect x="50.9" y="116.6" width="1.5" height="1.5" fill="#d8d030" opacity="0.77"/><rect x="82.8" y="108.3" width="1.5" height="1.5" fill="#9a9a60" opacity="0.46"/><rect x="45.1" y="98.3" width="1.3" height="1.3" fill="#ece420" opacity="0.83"/><rect x="71.1" y="85.4" width="1.3" height="1.3" fill="#50505c" opacity="0.78"/><rect x="104.0" y="90.6" width="1.8" height="1.8" fill="#b8b840" opacity="0.61"/><rect x="85.9" y="126.9" width="1.7" height="1.7" fill="#a0a070" opacity="0.72"/><rect x="88.1" y="70.4" width="1.5" height="1.5" fill="#a8a848" opacity="0.68"/><rect x="48.8" y="87.9" width="1.8" height="1.8" fill="#2a2a6a" opacity="0.52"/><rect x="58.4" y="99.3" width="1.7" height="1.7" fill="#7a3a88" opacity="0.60"/><rect x="94.0" y="103.9" width="1.8" height="1.8" fill="#e0d830" opacity="0.78"/><rect x="57.3" y="87.7" width="1.7" height="1.7" fill="#ece420" opacity="0.49"/><rect x="87.8" y="108.2" width="1.3" height="1.3" fill="#d0c838" opacity="0.64"/><rect x="95.4" y="79.5" width="1.5" height="1.5" fill="#e0d830" opacity="0.84"/><rect x="92.8" y="111.1" width="1.0" height="1.0" fill="#7a7a6a" opacity="0.52"/><rect x="73.2" y="125.5" width="1.8" height="1.8" fill="#503060" opacity="0.77"/><rect x="95.0" y="98.0" width="1.5" height="1.5" fill="#b8b840" opacity="0.83"/><rect x="70.3" y="122.6" width="1.9" height="1.9" fill="#6a5a70" opacity="0.56"/><rect x="64.4" y="100.2" width="1.2" height="1.2" fill="#6a4a7a" opacity="0.72"/><rect x="51.5" y="80.9" width="1.8" height="1.8" fill="#30307a" opacity="0.61"/><rect x="84.7" y="86.0" width="1.4" height="1.4" fill="#b8b840" opacity="0.56"/><rect x="99.2" y="113.1" width="1.5" height="1.5" fill="#d0c838" opacity="0.49"/><rect x="80.8" y="91.9" width="1.8" height="1.8" fill="#ece430" opacity="0.69"/><rect x="79.3" y="108.8" width="1.5" height="1.5" fill="#909080" opacity="0.70"/><rect x="82.9" y="84.6" width="1.8" height="1.8" fill="#d0c830" opacity="0.62"/><rect x="47.9" y="103.0" width="1.0" height="1.0" fill="#8a7a90" opacity="0.50"/><rect x="91.1" y="124.4" width="1.7" height="1.7" fill="#8a8a70" opacity="0.79"/><rect x="59.4" y="81.8" width="1.3" height="1.3" fill="#5a5a70" opacity="0.55"/><rect x="57.9" y="101.7" width="1.1" height="1.1" fill="#d8d030" opacity="0.70"/><rect x="47.6" y="104.9" width="1.1" height="1.1" fill="#503060" opacity="0.77"/><rect x="65.3" y="77.0" width="1.8" height="1.8" fill="#50505c" opacity="0.85"/><rect x="92.1" y="85.9" width="1.0" height="1.0" fill="#ece430" opacity="0.78"/><rect x="44.0" y="98.6" width="1.8" height="1.8" fill="#2a2a6a" opacity="0.52"/><rect x="54.4" y="120.8" width="1.2" height="1.2" fill="#6a4a7a" opacity="0.60"/><rect x="63.7" y="119.2" width="0.9" height="0.9" fill="#6a4a7a" opacity="0.53"/><rect x="77.9" y="108.8" width="1.3" height="1.3" fill="#8a7a90" opacity="0.58"/><rect x="79.8" y="68.5" width="1.8" height="1.8" fill="#a8a848" opacity="0.69"/><rect x="59.5" y="81.2" width="1.5" height="1.5" fill="#30307a" opacity="0.61"/><rect x="65.3" y="127.3" width="1.5" height="1.5" fill="#503060" opacity="0.68"/><rect x="62.3" y="105.1" width="1.4" height="1.4" fill="#7a3a88" opacity="0.48"/><rect x="95.8" y="117.6" width="1.2" height="1.2" fill="#7a7a6a" opacity="0.44"/><rect x="86.0" y="106.6" width="0.9" height="0.9" fill="#b0b040" opacity="0.69"/><rect x="94.1" y="104.4" width="1.5" height="1.5" fill="#ece430" opacity="0.68"/><rect x="94.6" y="99.2" width="1.7" height="1.7" fill="#a8a848" opacity="0.79"/><rect x="88.8" y="99.6" width="1.1" height="1.1" fill="#d0c830" opacity="0.91"/><rect x="77.5" y="108.8" width="1.3" height="1.3" fill="#6a5a70" opacity="0.67"/><rect x="79.6" y="97.8" width="1.9" height="1.9" fill="#b8b840" opacity="0.88"/><rect x="95.4" y="115.5" width="1.3" height="1.3" fill="#8a8a70" opacity="0.61"/><rect x="77.7" y="94.7" width="1.9" height="1.9" fill="#d8d030" opacity="0.80"/><rect x="57.0" y="80.8" width="1.3" height="1.3" fill="#30307a" opacity="0.62"/><rect x="94.9" y="120.6" width="1.0" height="1.0" fill="#8a8a70" opacity="0.50"/><rect x="81.5" y="108.5" width="1.0" height="1.0" fill="#b0b040" opacity="0.72"/><rect x="66.3" y="120.1" width="1.3" height="1.3" fill="#7a3a88" opacity="0.62"/><rect x="71.3" y="97.4" width="1.0" height="1.0" fill="#ece420" opacity="0.56"/><rect x="77.1" y="97.4" width="1.0" height="1.0" fill="#6a5a70" opacity="0.50"/><rect x="55.9" y="101.3" width="0.9" height="0.9" fill="#6a5a70" opacity="0.59"/><rect x="105.3" y="93.6" width="1.4" height="1.4" fill="#e0d830" opacity="0.73"/><rect x="96.3" y="87.3" width="1.2" height="1.2" fill="#d0c830" opacity="0.63"/><rect x="78.9" y="71.7" width="1.3" height="1.3" fill="#ece430" opacity="0.81"/><rect x="67.0" y="119.2" width="1.1" height="1.1" fill="#5a4a60" opacity="0.50"/><rect x="68.8" y="114.9" width="1.3" height="1.3" fill="#7a3a88" opacity="0.68"/><rect x="78.0" y="103.9" width="1.6" height="1.6" fill="#7a3a88" opacity="0.80"/><rect x="73.7" y="70.5" width="0.9" height="0.9" fill="#ece420" opacity="0.58"/><rect x="96.2" y="104.9" width="1.4" height="1.4" fill="#a8a848" opacity="0.84"/><rect x="87.3" y="120.4" width="1.4" height="1.4" fill="#9a9a60" opacity="0.50"/><rect x="76.3" y="119.6" width="1.0" height="1.0" fill="#503060" opacity="0.66"/><rect x="55.9" y="110.8" width="1.2" height="1.2" fill="#8a7a90" opacity="0.80"/><rect x="72.3" y="123.6" width="1.3" height="1.3" fill="#503060" opacity="0.42"/><rect x="79.3" y="91.5" width="1.4" height="1.4" fill="#e0d830" opacity="0.58"/><rect x="104.4" y="96.5" width="1.6" height="1.6" fill="#e0d830" opacity="0.70"/><rect x="74.6" y="108.1" width="1.3" height="1.3" fill="#5a4a60" opacity="0.63"/><rect x="96.9" y="107.8" width="1.0" height="1.0" fill="#9a9a60" opacity="0.45"/><rect x="51.5" y="107.9" width="1.5" height="1.5" fill="#d8d030" opacity="0.68"/><rect x="81.5" y="97.5" width="1.0" height="1.0" fill="#a8a848" opacity="0.87"/><rect x="79.5" y="83.8" width="1.6" height="1.6" fill="#d0c830" opacity="0.78"/><rect x="59.7" y="119.2" width="1.7" height="1.7" fill="#6a5a70" opacity="0.56"/><rect x="85.8" y="115.9" width="1.0" height="1.0" fill="#a0a070" opacity="0.40"/><rect x="70.6" y="69.9" width="1.2" height="1.2" fill="#30307a" opacity="0.75"/><rect x="95.7" y="117.2" width="0.9" height="0.9" fill="#d0c838" opacity="0.67"/><rect x="92.5" y="103.1" width="1.5" height="1.5" fill="#e8e030" opacity="0.67"/><rect x="90.1" y="76.2" width="1.5" height="1.5" fill="#b8b840" opacity="0.90"/><rect x="99.4" y="93.7" width="1.1" height="1.1" fill="#e8e030" opacity="0.78"/><rect x="53.5" y="95.8" width="1.3" height="1.3" fill="#2a2a6a" opacity="0.51"/><rect x="46.2" y="87.3" width="1.0" height="1.0" fill="#40408a" opacity="0.75"/><rect x="94.9" y="101.1" width="1.4" height="1.4" fill="#b8b840" opacity="0.62"/><rect x="70.4" y="125.1" width="1.4" height="1.4" fill="#5a4a60" opacity="0.71"/><rect x="75.1" y="128.2" width="1.2" height="1.2" fill="#c04030" opacity="0.62"/><rect x="77.3" y="93.3" width="1.6" height="1.6" fill="#8a7a90" opacity="0.59"/><rect x="79.6" y="118.6" width="1.4" height="1.4" fill="#8a8a70" opacity="0.68"/><rect x="90.9" y="108.0" width="1.1" height="1.1" fill="#7a7a6a" opacity="0.48"/><rect x="80.2" y="73.9" width="1.3" height="1.3" fill="#a8a848" opacity="0.65"/><rect x="97.9" y="100.9" width="0.9" height="0.9" fill="#ece430" opacity="0.69"/><rect x="96.7" y="93.1" width="1.2" height="1.2" fill="#a8a848" opacity="0.90"/><rect x="79.7" y="80.8" width="1.7" height="1.7" fill="#c0c038" opacity="0.59"/><rect x="72.9" y="76.5" width="1.8" height="1.8" fill="#2a2a6a" opacity="0.54"/><rect x="85.4" y="101.1" width="1.8" height="1.8" fill="#ece430" opacity="0.89"/><rect x="56.1" y="105.7" width="1.5" height="1.5" fill="#6a5a70" opacity="0.46"/><rect x="70.4" y="80.2" width="1.8" height="1.8" fill="#ece420" opacity="0.86"/><rect x="60.9" y="123.4" width="1.1" height="1.1" fill="#d8d030" opacity="0.57"/><rect x="77.6" y="79.6" width="1.2" height="1.2" fill="#7a3a88" opacity="0.44"/><rect x="44.0" y="96.3" width="1.3" height="1.3" fill="#40408a" opacity="0.89"/><rect x="85.4" y="123.4" width="1.7" height="1.7" fill="#7a7a6a" opacity="0.55"/><rect x="62.0" y="120.4" width="1.5" height="1.5" fill="#503060" opacity="0.48"/><rect x="61.2" y="91.5" width="1.8" height="1.8" fill="#d8d028" opacity="0.54"/><rect x="87.2" y="90.0" width="1.8" height="1.8" fill="#b8b840" opacity="0.86"/><rect x="91.7" y="114.4" width="1.5" height="1.5" fill="#b0b040" opacity="0.66"/><rect x="63.7" y="97.4" width="1.9" height="1.9" fill="#b0a830" opacity="0.65"/><rect x="77.9" y="96.1" width="1.9" height="1.9" fill="#503060" opacity="0.45"/><rect x="76.7" y="127.1" width="1.1" height="1.1" fill="#503060" opacity="0.53"/><rect x="59.7" y="81.5" width="1.7" height="1.7" fill="#40408a" opacity="0.57"/><rect x="44.3" y="102.3" width="1.4" height="1.4" fill="#d8d030" opacity="0.67"/><rect x="64.3" y="90.8" width="1.3" height="1.3" fill="#5a5a70" opacity="0.70"/><rect x="77.8" y="88.6" width="1.6" height="1.6" fill="#8a7a90" opacity="0.70"/><rect x="101.9" y="87.6" width="1.1" height="1.1" fill="#ece430" opacity="0.73"/><rect x="84.5" y="98.7" width="0.9" height="0.9" fill="#e0d830" opacity="0.62"/><rect x="56.9" y="109.2" width="1.9" height="1.9" fill="#6a5a70" opacity="0.61"/><rect x="85.7" y="117.8" width="1.2" height="1.2" fill="#9a9a60" opacity="0.45"/><rect x="60.8" y="94.7" width="1.2" height="1.2" fill="#50505c" opacity="0.61"/><rect x="57.3" y="82.9" width="1.5" height="1.5" fill="#40408a" opacity="0.79"/><rect x="68.9" y="70.4" width="1.4" height="1.4" fill="#2a2a6a" opacity="0.75"/><rect x="66.5" y="114.0" width="1.3" height="1.3" fill="#7a3a88" opacity="0.54"/><rect x="92.5" y="93.1" width="1.9" height="1.9" fill="#c0c038" opacity="0.55"/><rect x="82.2" y="119.8" width="1.1" height="1.1" fill="#8a8a70" opacity="0.56"/><rect x="79.9" y="77.8" width="1.7" height="1.7" fill="#e8e030" opacity="0.92"/><rect x="92.5" y="105.0" width="1.6" height="1.6" fill="#ece430" opacity="0.82"/><rect x="53.7" y="98.9" width="1.0" height="1.0" fill="#b0a830" opacity="0.69"/><rect x="81.1" y="110.4" width="1.0" height="1.0" fill="#909080" opacity="0.66"/><rect x="65.0" y="89.9" width="1.4" height="1.4" fill="#2a2a6a" opacity="0.58"/><rect x="69.4" y="72.4" width="1.2" height="1.2" fill="#d8d028" opacity="0.51"/><rect x="64.7" y="77.5" width="1.6" height="1.6" fill="#b0a830" opacity="0.75"/><rect x="70.1" y="108.2" width="1.4" height="1.4" fill="#6a5a70" opacity="0.60"/><rect x="78.6" y="104.7" width="1.5" height="1.5" fill="#e0d830" opacity="0.58"/><rect x="53.1" y="84.1" width="1.7" height="1.7" fill="#30307a" opacity="0.57"/><rect x="87.2" y="123.5" width="1.5" height="1.5" fill="#b0b040" opacity="0.41"/><rect x="75.8" y="107.2" width="1.8" height="1.8" fill="#5a4a60" opacity="0.61"/><rect x="83.5" y="126.6" width="1.0" height="1.0" fill="#8a8a70" opacity="0.64"/><rect x="54.4" y="119.7" width="1.0" height="1.0" fill="#d8d030" opacity="0.65"/><rect x="83.7" y="112.3" width="1.6" height="1.6" fill="#8a8a70" opacity="0.52"/><rect x="86.5" y="105.4" width="1.9" height="1.9" fill="#9a9a60" opacity="0.64"/><rect x="72.8" y="97.7" width="1.1" height="1.1" fill="#ece420" opacity="0.78"/><rect x="99.8" y="114.5" width="1.5" height="1.5" fill="#b0b040" opacity="0.59"/><rect x="88.9" y="85.3" width="1.7" height="1.7" fill="#b8b840" opacity="0.74"/><rect x="61.5" y="101.9" width="1.6" height="1.6" fill="#503060" opacity="0.51"/><rect x="82.6" y="85.1" width="0.9" height="0.9" fill="#a8a848" opacity="0.67"/><rect x="91.8" y="109.8" width="1.4" height="1.4" fill="#909080" opacity="0.55"/><rect x="69.9" y="98.4" width="1.1" height="1.1" fill="#2a2a6a" opacity="0.63"/><rect x="45.1" y="98.9" width="1.7" height="1.7" fill="#50505c" opacity="0.52"/><rect x="63.1" y="104.5" width="1.1" height="1.1" fill="#503060" opacity="0.71"/><rect x="71.7" y="80.2" width="1.2" height="1.2" fill="#d8d028" opacity="0.57"/><rect x="86.9" y="109.8" width="1.1" height="1.1" fill="#b0b040" opacity="0.63"/><rect x="73.4" y="98.7" width="1.7" height="1.7" fill="#40408a" opacity="0.56"/><rect x="52.2" y="90.7" width="1.1" height="1.1" fill="#30307a" opacity="0.77"/><rect x="70.3" y="89.9" width="1.3" height="1.3" fill="#50505c" opacity="0.82"/><rect x="61.0" y="71.7" width="1.1" height="1.1" fill="#b0a830" opacity="0.83"/><rect x="88.4" y="124.0" width="1.8" height="1.8" fill="#8a8a70" opacity="0.49"/><rect x="65.5" y="105.9" width="1.7" height="1.7" fill="#6a4a7a" opacity="0.69"/><rect x="87.4" y="118.4" width="1.4" height="1.4" fill="#a0a070" opacity="0.58"/><rect x="76.7" y="94.7" width="1.8" height="1.8" fill="#503060" opacity="0.58"/><rect x="68.6" y="90.3" width="1.7" height="1.7" fill="#50505c" opacity="0.55"/><rect x="65.8" y="123.3" width="1.1" height="1.1" fill="#503060" opacity="0.78"/><rect x="69.3" y="106.7" width="1.1" height="1.1" fill="#7a3a88" opacity="0.79"/><rect x="69.3" y="112.9" width="1.5" height="1.5" fill="#7a3a88" opacity="0.42"/><rect x="85.9" y="90.2" width="1.2" height="1.2" fill="#d0c830" opacity="0.58"/><rect x="93.2" y="109.3" width="1.8" height="1.8" fill="#8a8a70" opacity="0.40"/><rect x="77.5" y="113.5" width="1.1" height="1.1" fill="#c04030" opacity="0.45"/><rect x="92.6" y="99.2" width="1.4" height="1.4" fill="#e0d830" opacity="0.73"/><rect x="89.2" y="100.3" width="1.7" height="1.7" fill="#ece430" opacity="0.56"/><rect x="49.4" y="114.1" width="1.3" height="1.3" fill="#c04030" opacity="0.49"/><rect x="54.3" y="79.3" width="1.5" height="1.5" fill="#5a5a70" opacity="0.75"/><rect x="48.4" y="93.1" width="1.3" height="1.3" fill="#40408a" opacity="0.53"/><rect x="90.3" y="86.0" width="1.1" height="1.1" fill="#a8a848" opacity="0.57"/><rect x="103.2" y="89.9" width="1.0" height="1.0" fill="#b8b840" opacity="0.75"/><rect x="63.4" y="71.6" width="0.9" height="0.9" fill="#50505c" opacity="0.89"/><rect x="57.8" y="80.8" width="1.0" height="1.0" fill="#b0a830" opacity="0.66"/><rect x="66.7" y="123.2" width="1.3" height="1.3" fill="#503060" opacity="0.46"/><rect x="91.8" y="98.7" width="1.2" height="1.2" fill="#c0c038" opacity="0.73"/><rect x="60.3" y="88.2" width="1.0" height="1.0" fill="#30307a" opacity="0.47"/><rect x="90.9" y="102.6" width="1.7" height="1.7" fill="#e8e030" opacity="0.77"/><rect x="94.7" y="116.0" width="1.2" height="1.2" fill="#d0c838" opacity="0.80"/><rect x="80.3" y="69.2" width="1.3" height="1.3" fill="#a8a848" opacity="0.62"/><rect x="54.8" y="98.2" width="1.4" height="1.4" fill="#d8d028" opacity="0.50"/><rect x="54.3" y="100.1" width="1.1" height="1.1" fill="#7a3a88" opacity="0.57"/><rect x="92.1" y="94.9" width="1.3" height="1.3" fill="#a8a848" opacity="0.83"/><rect x="51.8" y="95.5" width="1.6" height="1.6" fill="#d8d028" opacity="0.71"/><rect x="72.3" y="127.9" width="1.7" height="1.7" fill="#6a4a7a" opacity="0.58"/><rect x="72.6" y="110.0" width="1.8" height="1.8" fill="#6a4a7a" opacity="0.57"/><rect x="87.1" y="89.4" width="1.0" height="1.0" fill="#b8b840" opacity="0.56"/><rect x="55.8" y="81.8" width="1.3" height="1.3" fill="#40408a" opacity="0.86"/><rect x="75.6" y="88.4" width="1.4" height="1.4" fill="#d8d028" opacity="0.63"/><rect x="86.4" y="72.9" width="1.4" height="1.4" fill="#ece430" opacity="0.60"/><rect x="86.6" y="99.3" width="1.7" height="1.7" fill="#d0c830" opacity="0.81"/><rect x="51.9" y="90.3" width="1.7" height="1.7" fill="#d8d028" opacity="0.51"/><rect x="61.1" y="105.8" width="1.9" height="1.9" fill="#503060" opacity="0.53"/><rect x="46.8" y="86.7" width="1.0" height="1.0" fill="#50505c" opacity="0.59"/><rect x="90.2" y="111.4" width="1.5" height="1.5" fill="#b0b040" opacity="0.68"/><rect x="71.8" y="82.2" width="1.5" height="1.5" fill="#5a5a70" opacity="0.58"/><rect x="95.7" y="101.2" width="1.2" height="1.2" fill="#ece430" opacity="0.67"/><rect x="69.2" y="91.3" width="1.3" height="1.3" fill="#5a5a70" opacity="0.60"/><rect x="63.4" y="124.2" width="1.3" height="1.3" fill="#8a7a90" opacity="0.69"/><rect x="49.8" y="113.6" width="1.5" height="1.5" fill="#8a7a90" opacity="0.64"/><rect x="75.8" y="118.5" width="1.7" height="1.7" fill="#5a4a60" opacity="0.50"/><rect x="64.1" y="89.2" width="1.5" height="1.5" fill="#30307a" opacity="0.81"/><rect x="100.0" y="112.0" width="1.6" height="1.6" fill="#a0a070" opacity="0.54"/><rect x="92.7" y="90.1" width="1.0" height="1.0" fill="#d0c830" opacity="0.84"/><rect x="69.5" y="89.8" width="1.4" height="1.4" fill="#5a5a70" opacity="0.74"/><rect x="49.2" y="112.5" width="1.3" height="1.3" fill="#c04030" opacity="0.56"/><rect x="56.5" y="116.6" width="1.5" height="1.5" fill="#8a7a90" opacity="0.56"/><rect x="61.3" y="96.9" width="1.7" height="1.7" fill="#30307a" opacity="0.88"/><rect x="95.8" y="97.2" width="1.6" height="1.6" fill="#e8e030" opacity="0.58"/><rect x="95.2" y="108.8" width="1.8" height="1.8" fill="#a0a070" opacity="0.73"/><rect x="71.7" y="125.6" width="1.5" height="1.5" fill="#5a4a60" opacity="0.53"/><rect x="103.8" y="95.3" width="1.6" height="1.6" fill="#d0c830" opacity="0.89"/><rect x="80.7" y="109.0" width="1.4" height="1.4" fill="#b0b040" opacity="0.61"/><rect x="89.8" y="81.6" width="1.1" height="1.1" fill="#d0c830" opacity="0.84"/><rect x="85.3" y="84.0" width="1.0" height="1.0" fill="#e8e030" opacity="0.67"/><rect x="82.9" y="126.9" width="1.4" height="1.4" fill="#9a9a60" opacity="0.49"/><rect x="51.6" y="107.1" width="1.8" height="1.8" fill="#d8d030" opacity="0.44"/><rect x="62.4" y="107.0" width="1.3" height="1.3" fill="#7a3a88" opacity="0.58"/><rect x="69.9" y="90.0" width="1.9" height="1.9" fill="#5a5a70" opacity="0.58"/><rect x="53.3" y="120.4" width="1.5" height="1.5" fill="#7a3a88" opacity="0.71"/><rect x="58.2" y="81.0" width="1.7" height="1.7" fill="#5a5a70" opacity="0.70"/><rect x="87.8" y="117.3" width="1.1" height="1.1" fill="#8a8a70" opacity="0.54"/><rect x="100.7" y="114.7" width="1.5" height="1.5" fill="#909080" opacity="0.71"/><rect x="50.7" y="81.0" width="1.2" height="1.2" fill="#40408a" opacity="0.71"/><rect x="91.9" y="90.2" width="1.2" height="1.2" fill="#e0d830" opacity="0.57"/><rect x="73.4" y="68.0" width="1.8" height="1.8" fill="#40408a" opacity="0.75"/><rect x="78.4" y="77.9" width="1.5" height="1.5" fill="#c0c038" opacity="0.74"/><rect x="97.5" y="86.0" width="1.1" height="1.1" fill="#d0c830" opacity="0.87"/><rect x="63.1" y="71.7" width="1.1" height="1.1" fill="#30307a" opacity="0.54"/><rect x="68.2" y="86.7" width="1.3" height="1.3" fill="#2a2a6a" opacity="0.90"/><rect x="81.6" y="74.8" width="1.0" height="1.0" fill="#d0c830" opacity="0.88"/><rect x="67.2" y="101.0" width="1.4" height="1.4" fill="#d8d030" opacity="0.41"/><rect x="49.2" y="114.4" width="1.0" height="1.0" fill="#c04030" opacity="0.49"/><rect x="93.7" y="104.5" width="1.4" height="1.4" fill="#ece430" opacity="0.67"/><rect x="55.1" y="113.5" width="1.5" height="1.5" fill="#d8d030" opacity="0.53"/><rect x="89.0" y="98.2" width="0.9" height="0.9" fill="#ece430" opacity="0.94"/><rect x="90.4" y="74.2" width="1.6" height="1.6" fill="#e8e030" opacity="0.88"/><rect x="102.6" y="92.4" width="1.2" height="1.2" fill="#b8b840" opacity="0.70"/><rect x="98.8" y="92.2" width="1.0" height="1.0" fill="#c0c038" opacity="0.80"/><rect x="56.4" y="93.2" width="1.6" height="1.6" fill="#5a5a70" opacity="0.49"/><rect x="54.4" y="98.5" width="1.5" height="1.5" fill="#ece420" opacity="0.50"/><rect x="96.0" y="75.9" width="1.5" height="1.5" fill="#e8e030" opacity="0.67"/><rect x="53.5" y="109.5" width="1.8" height="1.8" fill="#d8d030" opacity="0.73"/><rect x="75.1" y="121.8" width="1.5" height="1.5" fill="#c04030" opacity="0.44"/><rect x="68.9" y="93.8" width="1.8" height="1.8" fill="#40408a" opacity="0.69"/><rect x="47.5" y="86.0" width="1.8" height="1.8" fill="#ece420" opacity="0.64"/><rect x="59.1" y="80.6" width="1.4" height="1.4" fill="#30307a" opacity="0.73"/><rect x="60.0" y="81.6" width="0.9" height="0.9" fill="#40408a" opacity="0.88"/><rect x="62.5" y="124.7" width="1.1" height="1.1" fill="#d8d030" opacity="0.71"/><rect x="85.5" y="91.6" width="1.3" height="1.3" fill="#ece430" opacity="0.65"/><rect x="78.8" y="124.2" width="1.0" height="1.0" fill="#6a5a70" opacity="0.65"/><rect x="84.4" y="71.9" width="1.4" height="1.4" fill="#e0d830" opacity="0.65"/><rect x="61.0" y="110.3" width="1.5" height="1.5" fill="#5a4a60" opacity="0.47"/><rect x="79.2" y="68.5" width="1.7" height="1.7" fill="#e0d830" opacity="0.76"/><rect x="85.1" y="101.9" width="1.3" height="1.3" fill="#e8e030" opacity="0.89"/><rect x="46.5" y="89.7" width="1.0" height="1.0" fill="#d8d028" opacity="0.60"/><rect x="53.2" y="119.0" width="1.0" height="1.0" fill="#d8d030" opacity="0.63"/><rect x="81.6" y="77.2" width="1.7" height="1.7" fill="#d0c830" opacity="0.74"/><rect x="96.1" y="118.5" width="1.1" height="1.1" fill="#a0a070" opacity="0.72"/><rect x="103.5" y="98.3" width="1.8" height="1.8" fill="#e8e030" opacity="0.65"/><rect x="83.1" y="116.7" width="1.9" height="1.9" fill="#b0b040" opacity="0.73"/><rect x="61.4" y="123.2" width="1.6" height="1.6" fill="#6a4a7a" opacity="0.53"/><rect x="63.5" y="72.3" width="1.2" height="1.2" fill="#5a5a70" opacity="0.57"/><rect x="63.9" y="95.4" width="1.1" height="1.1" fill="#2a2a6a" opacity="0.85"/><rect x="66.6" y="74.3" width="1.2" height="1.2" fill="#d8d028" opacity="0.54"/><rect x="92.3" y="98.9" width="1.7" height="1.7" fill="#a8a848" opacity="0.66"/><rect x="47.6" y="104.3" width="1.0" height="1.0" fill="#6a4a7a" opacity="0.58"/><rect x="63.9" y="105.8" width="1.7" height="1.7" fill="#503060" opacity="0.43"/><rect x="96.1" y="112.1" width="1.4" height="1.4" fill="#d0c838" opacity="0.45"/><rect x="103.5" y="108.3" width="0.9" height="0.9" fill="#7a7a6a" opacity="0.58"/><rect x="66.4" y="111.0" width="1.7" height="1.7" fill="#c04030" opacity="0.69"/><rect x="49.6" y="93.4" width="1.0" height="1.0" fill="#30307a" opacity="0.84"/><rect x="60.3" y="106.6" width="1.2" height="1.2" fill="#7a3a88" opacity="0.49"/><rect x="68.9" y="126.5" width="1.5" height="1.5" fill="#5a4a60" opacity="0.52"/><rect x="83.7" y="103.8" width="1.8" height="1.8" fill="#e0d830" opacity="0.78"/><rect x="74.1" y="114.0" width="1.6" height="1.6" fill="#7a3a88" opacity="0.49"/><rect x="60.8" y="81.1" width="1.4" height="1.4" fill="#b0a830" opacity="0.90"/><rect x="54.0" y="117.6" width="1.0" height="1.0" fill="#6a5a70" opacity="0.55"/><rect x="57.5" y="78.2" width="1.2" height="1.2" fill="#50505c" opacity="0.75"/><rect x="58.3" y="96.8" width="1.2" height="1.2" fill="#5a5a70" opacity="0.82"/><rect x="93.4" y="78.3" width="1.9" height="1.9" fill="#b8b840" opacity="0.74"/><rect x="94.2" y="121.3" width="0.9" height="0.9" fill="#7a7a6a" opacity="0.60"/><rect x="67.6" y="71.3" width="1.7" height="1.7" fill="#40408a" opacity="0.83"/><rect x="55.2" y="118.6" width="0.9" height="0.9" fill="#503060" opacity="0.57"/><rect x="101.1" y="97.5" width="1.6" height="1.6" fill="#a8a848" opacity="0.87"/><rect x="100.9" y="114.7" width="1.1" height="1.1" fill="#a0a070" opacity="0.52"/><rect x="57.4" y="116.6" width="1.3" height="1.3" fill="#5a4a60" opacity="0.65"/><rect x="81.0" y="103.3" width="1.6" height="1.6" fill="#b8b840" opacity="0.60"/><rect x="76.6" y="68.3" width="1.5" height="1.5" fill="#6a5a70" opacity="0.63"/><rect x="76.4" y="122.9" width="1.3" height="1.3" fill="#c04030" opacity="0.53"/><rect x="101.3" y="98.2" width="1.5" height="1.5" fill="#e0d830" opacity="0.94"/><rect x="76.8" y="105.3" width="1.2" height="1.2" fill="#6a4a7a" opacity="0.42"/><rect x="87.5" y="105.2" width="1.3" height="1.3" fill="#c0c038" opacity="0.86"/><rect x="53.0" y="93.2" width="1.1" height="1.1" fill="#ece420" opacity="0.78"/><rect x="77.1" y="107.2" width="1.7" height="1.7" fill="#6a4a7a" opacity="0.77"/><rect x="72.4" y="106.0" width="1.1" height="1.1" fill="#6a5a70" opacity="0.66"/><rect x="95.7" y="104.2" width="1.3" height="1.3" fill="#e0d830" opacity="0.89"/><rect x="72.1" y="79.6" width="1.4" height="1.4" fill="#b0a830" opacity="0.57"/><rect x="89.3" y="121.0" width="1.7" height="1.7" fill="#7a7a6a" opacity="0.76"/><rect x="92.2" y="117.8" width="1.5" height="1.5" fill="#909080" opacity="0.56"/><rect x="86.1" y="126.9" width="1.1" height="1.1" fill="#7a7a6a" opacity="0.51"/><rect x="83.0" y="76.6" width="1.7" height="1.7" fill="#c0c038" opacity="0.64"/><rect x="95.3" y="99.9" width="1.5" height="1.5" fill="#e8e030" opacity="0.72"/><rect x="59.5" y="114.0" width="1.6" height="1.6" fill="#503060" opacity="0.52"/><rect x="58.7" y="119.9" width="1.9" height="1.9" fill="#6a5a70" opacity="0.73"/><rect x="52.4" y="119.4" width="1.7" height="1.7" fill="#d8d030" opacity="0.63"/><rect x="53.0" y="84.6" width="1.3" height="1.3" fill="#2a2a6a" opacity="0.67"/><rect x="60.8" y="79.3" width="0.9" height="0.9" fill="#b0a830" opacity="0.67"/><rect x="76.6" y="83.9" width="1.6" height="1.6" fill="#5a4a60" opacity="0.71"/><rect x="68.1" y="123.2" width="1.3" height="1.3" fill="#6a4a7a" opacity="0.65"/><rect x="72.1" y="73.1" width="1.4" height="1.4" fill="#b0a830" opacity="0.58"/><rect x="87.0" y="125.6" width="0.9" height="0.9" fill="#8a8a70" opacity="0.56"/><rect x="66.4" y="126.9" width="1.1" height="1.1" fill="#503060" opacity="0.63"/></g>
<g fill="#f4e81c" stroke="#6a6a10" stroke-width="0.2"><path d="M71.1 66.1l1.8 1.8l-1.8 1.8l-1.8 -1.8z"/><path d="M91.8 118.4l1.8 1.8l-1.8 1.8l-1.8 -1.8z"/><path d="M42.2 92.2l1.8 1.8l-1.8 1.8l-1.8 -1.8z"/><path d="M104.7 82.9l1.8 1.8l-1.8 1.8l-1.8 -1.8z"/><path d="M61.7 59.2l1.8 1.8l-1.8 1.8l-1.8 -1.8z"/><path d="M88.1 90.8l1.8 1.8l-1.8 1.8l-1.8 -1.8z"/><path d="M61.1 123.1l1.8 1.8l-1.8 1.8l-1.8 -1.8z"/><path d="M96.5 78.8l1.8 1.8l-1.8 1.8l-1.8 -1.8z"/><path d="M64.6 120.6l1.8 1.8l-1.8 1.8l-1.8 -1.8z"/><path d="M70.1 126.1l1.8 1.8l-1.8 1.8l-1.8 -1.8z"/><path d="M54.8 117.0l1.8 1.8l-1.8 1.8l-1.8 -1.8z"/><path d="M74.5 133.8l1.8 1.8l-1.8 1.8l-1.8 -1.8z"/><path d="M61.8 130.5l1.8 1.8l-1.8 1.8l-1.8 -1.8z"/><path d="M69.0 61.8l1.8 1.8l-1.8 1.8l-1.8 -1.8z"/><path d="M84.3 58.2l1.8 1.8l-1.8 1.8l-1.8 -1.8z"/><path d="M60.3 121.2l1.8 1.8l-1.8 1.8l-1.8 -1.8z"/><path d="M52.0 77.0l1.8 1.8l-1.8 1.8l-1.8 -1.8z"/><path d="M95.5 77.2l1.8 1.8l-1.8 1.8l-1.8 -1.8z"/><path d="M77.3 132.8l1.8 1.8l-1.8 1.8l-1.8 -1.8z"/><path d="M52.7 125.0l1.8 1.8l-1.8 1.8l-1.8 -1.8z"/><path d="M88.5 132.2l1.8 1.8l-1.8 1.8l-1.8 -1.8z"/><path d="M105.1 91.8l1.8 1.8l-1.8 1.8l-1.8 -1.8z"/><path d="M105.9 103.5l1.8 1.8l-1.8 1.8l-1.8 -1.8z"/><path d="M96.8 125.4l1.8 1.8l-1.8 1.8l-1.8 -1.8z"/><path d="M82.5 67.4l1.8 1.8l-1.8 1.8l-1.8 -1.8z"/><path d="M93.5 72.6l1.8 1.8l-1.8 1.8l-1.8 -1.8z"/><path d="M77.9 59.0l1.8 1.8l-1.8 1.8l-1.8 -1.8z"/><path d="M56.2 125.0l1.8 1.8l-1.8 1.8l-1.8 -1.8z"/><path d="M48.7 133.7l1.8 1.8l-1.8 1.8l-1.8 -1.8z"/><path d="M86.2 131.3l1.8 1.8l-1.8 1.8l-1.8 -1.8z"/><path d="M107.0 124.8l1.8 1.8l-1.8 1.8l-1.8 -1.8z"/><path d="M74.3 56.2l1.8 1.8l-1.8 1.8l-1.8 -1.8z"/><path d="M102.6 87.7l1.8 1.8l-1.8 1.8l-1.8 -1.8z"/><path d="M68.9 62.3l1.8 1.8l-1.8 1.8l-1.8 -1.8z"/><path d="M52.7 108.9l1.8 1.8l-1.8 1.8l-1.8 -1.8z"/><path d="M42.3 123.8l1.8 1.8l-1.8 1.8l-1.8 -1.8z"/><path d="M87.1 64.7l1.8 1.8l-1.8 1.8l-1.8 -1.8z"/><path d="M110.8 101.0l1.8 1.8l-1.8 1.8l-1.8 -1.8z"/><path d="M100.2 63.8l1.8 1.8l-1.8 1.8l-1.8 -1.8z"/><path d="M119.8 87.8l1.8 1.8l-1.8 1.8l-1.8 -1.8z"/><path d="M110.2 115.5l1.8 1.8l-1.8 1.8l-1.8 -1.8z"/><path d="M53.0 78.3l1.8 1.8l-1.8 1.8l-1.8 -1.8z"/><path d="M38.5 109.9l1.8 1.8l-1.8 1.8l-1.8 -1.8z"/><path d="M70.1 122.4l1.8 1.8l-1.8 1.8l-1.8 -1.8z"/><path d="M70.9 122.8l1.8 1.8l-1.8 1.8l-1.8 -1.8z"/><path d="M116.3 93.8l1.8 1.8l-1.8 1.8l-1.8 -1.8z"/><path d="M101.7 131.0l1.8 1.8l-1.8 1.8l-1.8 -1.8z"/><path d="M48.8 80.4l1.8 1.8l-1.8 1.8l-1.8 -1.8z"/><path d="M100.1 86.3l1.8 1.8l-1.8 1.8l-1.8 -1.8z"/><path d="M118.5 111.7l1.8 1.8l-1.8 1.8l-1.8 -1.8z"/><path d="M116.5 82.6l1.8 1.8l-1.8 1.8l-1.8 -1.8z"/><path d="M114.0 105.9l1.8 1.8l-1.8 1.8l-1.8 -1.8z"/><path d="M44.6 96.8l1.8 1.8l-1.8 1.8l-1.8 -1.8z"/><path d="M84.0 67.1l1.8 1.8l-1.8 1.8l-1.8 -1.8z"/><path d="M46.2 110.8l1.8 1.8l-1.8 1.8l-1.8 -1.8z"/><path d="M35.8 105.2l1.8 1.8l-1.8 1.8l-1.8 -1.8z"/><path d="M103.2 71.5l1.8 1.8l-1.8 1.8l-1.8 -1.8z"/><path d="M88.7 94.2l1.8 1.8l-1.8 1.8l-1.8 -1.8z"/><path d="M63.1 122.4l1.8 1.8l-1.8 1.8l-1.8 -1.8z"/><path d="M118.8 105.0l1.8 1.8l-1.8 1.8l-1.8 -1.8z"/><path d="M104.1 66.9l1.8 1.8l-1.8 1.8l-1.8 -1.8z"/><path d="M76.3 62.2l1.8 1.8l-1.8 1.8l-1.8 -1.8z"/><path d="M84.9 131.9l1.8 1.8l-1.8 1.8l-1.8 -1.8z"/><path d="M79.4 65.2l1.8 1.8l-1.8 1.8l-1.8 -1.8z"/><path d="M93.9 56.7l1.8 1.8l-1.8 1.8l-1.8 -1.8z"/><path d="M97.5 116.3l1.8 1.8l-1.8 1.8l-1.8 -1.8z"/><path d="M67.6 53.9l1.8 1.8l-1.8 1.8l-1.8 -1.8z"/><path d="M81.4 58.5l1.8 1.8l-1.8 1.8l-1.8 -1.8z"/><path d="M109.6 76.2l1.8 1.8l-1.8 1.8l-1.8 -1.8z"/><path d="M43.2 75.7l1.8 1.8l-1.8 1.8l-1.8 -1.8z"/><path d="M47.9 82.2l1.8 1.8l-1.8 1.8l-1.8 -1.8z"/><path d="M43.1 112.1l1.8 1.8l-1.8 1.8l-1.8 -1.8z"/><path d="M52.0 121.8l1.8 1.8l-1.8 1.8l-1.8 -1.8z"/><path d="M42.4 128.8l1.8 1.8l-1.8 1.8l-1.8 -1.8z"/><path d="M115.7 99.6l1.8 1.8l-1.8 1.8l-1.8 -1.8z"/><path d="M37.6 107.5l1.8 1.8l-1.8 1.8l-1.8 -1.8z"/><path d="M76.4 122.4l1.8 1.8l-1.8 1.8l-1.8 -1.8z"/><path d="M104.8 83.0l1.8 1.8l-1.8 1.8l-1.8 -1.8z"/></g>
<circle cx="56.50" cy="49.00" r="1.75" fill="#fff" stroke="#333" stroke-width="0.35"/>
<circle cx="59.60" cy="51.40" r="1.75" fill="#fff" stroke="#333" stroke-width="0.35"/>
<circle cx="54.50" cy="53.40" r="1.75" fill="#fff" stroke="#333" stroke-width="0.35"/>
<circle cx="97.50" cy="47.00" r="1.75" fill="#fff" stroke="#333" stroke-width="0.35"/>
<circle cx="100.30" cy="48.30" r="1.75" fill="#fff" stroke="#333" stroke-width="0.35"/>
<circle cx="97.40" cy="52.70" r="1.75" fill="#fff" stroke="#333" stroke-width="0.35"/>
<circle cx="62.50" cy="141.50" r="1.75" fill="#fff" stroke="#333" stroke-width="0.35"/>
<circle cx="66.00" cy="144.00" r="1.75" fill="#fff" stroke="#333" stroke-width="0.35"/>
<circle cx="70.50" cy="143.00" r="1.75" fill="#fff" stroke="#333" stroke-width="0.35"/>
<circle cx="9.20" cy="48.40" r="1.95" fill="#9a98cc" stroke="#8a8a8a" stroke-width="0.25"/>
<text x="13.5" y="47.5" font-size="5.7" textLength="26.5" lengthAdjust="spacingAndGlyphs" fill="#1a1a1a" stroke="#1a1a1a" stroke-width="0.14" >expression,</text>
<text x="13.5" y="53.8" font-size="5.7" textLength="25.7" lengthAdjust="spacingAndGlyphs" fill="#1a1a1a" stroke="#1a1a1a" stroke-width="0.14" >translation</text>
<line x1="32.7" y1="55.6" x2="44.7" y2="67.5" stroke="#333" stroke-width="0.4" />
<circle cx="107.50" cy="46.90" r="1.95" fill="#a9cf96" stroke="#8a8a8a" stroke-width="0.25"/>
<text x="111" y="46.2" font-size="5.7" textLength="14.3" lengthAdjust="spacingAndGlyphs" fill="#1a1a1a" stroke="#1a1a1a" stroke-width="0.14" >signal</text>
<text x="111" y="52.3" font-size="5.7" textLength="30.3" lengthAdjust="spacingAndGlyphs" fill="#1a1a1a" stroke="#1a1a1a" stroke-width="0.14" >transduction</text>
<line x1="107.9" y1="55.3" x2="102.7" y2="66.6" stroke="#333" stroke-width="0.4" />
<circle cx="120.20" cy="66.60" r="1.95" fill="#8fc4c0" stroke="#8a8a8a" stroke-width="0.25"/>
<text x="123.2" y="62.8" font-size="5.7" textLength="17.6" lengthAdjust="spacingAndGlyphs" fill="#1a1a1a" stroke="#1a1a1a" stroke-width="0.14" >protein</text>
<text x="123.2" y="68.9" font-size="5.7" textLength="24.4" lengthAdjust="spacingAndGlyphs" fill="#1a1a1a" stroke="#1a1a1a" stroke-width="0.14" >regulation</text>
<line x1="118.7" y1="66.9" x2="110.5" y2="72.7" stroke="#333" stroke-width="0.4" />
<circle cx="124.00" cy="103.20" r="1.95" fill="#c9c98e" stroke="#8a8a8a" stroke-width="0.25"/>
<text x="127.9" y="101.8" font-size="5.7" textLength="17.6" lengthAdjust="spacingAndGlyphs" fill="#1a1a1a" stroke="#1a1a1a" stroke-width="0.14" >protein</text>
<text x="127.9" y="108" font-size="5.7" textLength="12.6" lengthAdjust="spacingAndGlyphs" fill="#1a1a1a" stroke="#1a1a1a" stroke-width="0.14" >mods</text>
<line x1="121.8" y1="105.6" x2="117.5" y2="103.5" stroke="#333" stroke-width="0.4" />
<circle cx="121.50" cy="117.80" r="1.95" fill="#dcdc96" stroke="#8a8a8a" stroke-width="0.25"/>
<text x="125.3" y="116" font-size="5.7" textLength="22.5" lengthAdjust="spacingAndGlyphs" fill="#1a1a1a" stroke="#1a1a1a" stroke-width="0.14" >secretory</text>
<text x="125.3" y="122.1" font-size="5.7" textLength="20.2" lengthAdjust="spacingAndGlyphs" fill="#1a1a1a" stroke="#1a1a1a" stroke-width="0.14" >pathway</text>
<line x1="118.7" y1="118.6" x2="112.2" y2="114.8" stroke="#333" stroke-width="0.4" />
<circle cx="115.50" cy="136.00" r="1.95" fill="#9fcbaa" stroke="#8a8a8a" stroke-width="0.25"/>
<text x="119.2" y="131.7" font-size="5.7" textLength="20.5" lengthAdjust="spacingAndGlyphs" fill="#1a1a1a" stroke="#1a1a1a" stroke-width="0.14" >GTPase-</text>
<text x="119.2" y="137.9" font-size="5.7" textLength="23.2" lengthAdjust="spacingAndGlyphs" fill="#1a1a1a" stroke="#1a1a1a" stroke-width="0.14" >mediated</text>
<text x="119.2" y="143.9" font-size="5.7" textLength="24" lengthAdjust="spacingAndGlyphs" fill="#1a1a1a" stroke="#1a1a1a" stroke-width="0.14" >trafficking</text>
<line x1="117.5" y1="129.3" x2="112.2" y2="123.5" stroke="#333" stroke-width="0.4" />
<circle cx="88.40" cy="150.00" r="1.95" fill="#e08ec6" stroke="#8a8a8a" stroke-width="0.25"/>
<text x="92.5" y="151.4" font-size="5.7" textLength="22" lengthAdjust="spacingAndGlyphs" fill="#1a1a1a" stroke="#1a1a1a" stroke-width="0.14" >secretion</text>
<line x1="101.8" y1="145.7" x2="96" y2="134" stroke="#333" stroke-width="0.4" />
<circle cx="34.10" cy="150.60" r="1.95" fill="#dcdcf2" stroke="#8a8a8a" stroke-width="0.25"/>
<text x="37.5" y="152.3" font-size="5.7" textLength="20.9" lengthAdjust="spacingAndGlyphs" fill="#1a1a1a" stroke="#1a1a1a" stroke-width="0.14" >mito org</text>
<line x1="49.7" y1="147.5" x2="58.4" y2="137.9" stroke="#333" stroke-width="0.4" />
<circle cx="14.60" cy="133.20" r="1.95" fill="#c79bd2" stroke="#8a8a8a" stroke-width="0.25"/>
<text x="17.4" y="132" font-size="5.7" textLength="8.7" lengthAdjust="spacingAndGlyphs" fill="#1a1a1a" stroke="#1a1a1a" stroke-width="0.14" >cell</text>
<text x="17.4" y="138.2" font-size="5.7" textLength="15.4" lengthAdjust="spacingAndGlyphs" fill="#1a1a1a" stroke="#1a1a1a" stroke-width="0.14" >metab</text>
<line x1="30.5" y1="129.5" x2="40.4" y2="126" stroke="#333" stroke-width="0.4" />
<path d="M30 159.1l3 3l-3 3l-3 -3z" fill="#f4e81c" stroke="#8a8a10" stroke-width="0.3"/>
<text x="34.9" y="163.7" font-size="5.5" textLength="67.1" lengthAdjust="spacingAndGlyphs" fill="#1a1a1a" stroke="#1a1a1a" stroke-width="0.14" >Proteins modified +CRP-XL</text>
<text x="41" y="170.1" font-size="5.5" textLength="55" lengthAdjust="spacingAndGlyphs" fill="#1a1a1a" stroke="#1a1a1a" stroke-width="0.14" >without causal context</text>
<text x="155.9" y="17" font-size="11.6" font-weight="bold" fill="#000" stroke="#000" stroke-width="0.14" >B</text>
<text x="177.7" y="30.1" font-size="7.2" textLength="95.2" lengthAdjust="spacingAndGlyphs" fill="#111" stroke="#111" stroke-width="0.06" >Reactome Pathway Analysis</text>
<line x1="177.7" y1="31.6" x2="272.9" y2="31.6" stroke="#111" stroke-width="0.5" />
<text x="188.1" y="36.7" font-size="5.2" textLength="74.5" lengthAdjust="spacingAndGlyphs" fill="#1a1a1a" stroke="#1a1a1a" stroke-width="0.14" >Input: 1,234 proteins modified</text>
<text x="197.5" y="43.1" font-size="5.2" textLength="54.7" lengthAdjust="spacingAndGlyphs" fill="#1a1a1a" stroke="#1a1a1a" stroke-width="0.14" >without causal context</text>
<text x="160.5" y="59.0" font-size="5.3" textLength="46.5" lengthAdjust="spacingAndGlyphs" fill="#1a1a1a" stroke="#1a1a1a" stroke-width="0.14" >Reactome Pathway</text>
<line x1="160.5" y1="60.1" x2="207" y2="60.1" stroke="#222" stroke-width="0.4" />
<rect x="210.50" y="62.80" width="87.31" height="4.35" fill="#92c6ae" />
<rect x="210.50" y="67.15" width="82.62" height="4.35" fill="#4271b5" />
<text x="207" y="68.89999999999999" font-size="5.3" text-anchor="end" textLength="40.7" lengthAdjust="spacingAndGlyphs" fill="#1a1a1a" stroke="#1a1a1a" stroke-width="0.14" >Vesicle transport</text>
<rect x="210.50" y="74.50" width="87.31" height="4.35" fill="#92c6ae" />
<rect x="210.50" y="78.85" width="82.62" height="4.35" fill="#4271b5" />
<text x="207" y="80.6" font-size="5.3" text-anchor="end" textLength="42.2" lengthAdjust="spacingAndGlyphs" fill="#1a1a1a" stroke="#1a1a1a" stroke-width="0.14" >Membrane traffic</text>
<rect x="210.50" y="86.20" width="75.50" height="4.35" fill="#92c6ae" />
<rect x="210.50" y="90.55" width="70.38" height="4.35" fill="#4271b5" />
<text x="207" y="92.29999999999998" font-size="5.3" text-anchor="end" textLength="45.7" lengthAdjust="spacingAndGlyphs" fill="#1a1a1a" stroke="#1a1a1a" stroke-width="0.14" >Rho GTPase signal</text>
<rect x="210.50" y="97.90" width="41.31" height="4.35" fill="#92c6ae" />
<rect x="210.50" y="102.25" width="79.62" height="4.35" fill="#4271b5" />
<text x="207" y="103.99999999999999" font-size="5.3" text-anchor="end" textLength="37.4" lengthAdjust="spacingAndGlyphs" fill="#1a1a1a" stroke="#1a1a1a" stroke-width="0.14" >ER-Phagosome</text>
<rect x="210.50" y="109.60" width="36.69" height="4.35" fill="#92c6ae" />
<rect x="210.50" y="113.95" width="82.81" height="4.35" fill="#4271b5" />
<text x="207" y="115.69999999999999" font-size="5.3" text-anchor="end" textLength="51.6" lengthAdjust="spacingAndGlyphs" fill="#1a1a1a" stroke="#1a1a1a" stroke-width="0.14" >Antigen Presentation</text>
<rect x="210.50" y="121.30" width="34.69" height="4.35" fill="#92c6ae" />
<rect x="210.50" y="125.65" width="82.81" height="4.35" fill="#4271b5" />
<text x="207" y="127.39999999999999" font-size="5.3" text-anchor="end" textLength="47.2" lengthAdjust="spacingAndGlyphs" fill="#1a1a1a" stroke="#1a1a1a" stroke-width="0.14" >Endosome/Vacuole</text>
<rect x="210.50" y="133.00" width="33.00" height="4.35" fill="#92c6ae" />
<rect x="210.50" y="137.35" width="44.88" height="4.35" fill="#4271b5" />
<text x="207" y="139.1" font-size="5.3" text-anchor="end" textLength="49.8" lengthAdjust="spacingAndGlyphs" fill="#1a1a1a" stroke="#1a1a1a" stroke-width="0.14" >Clathrin endocytosis</text>
<rect x="210.50" y="144.70" width="26.19" height="4.35" fill="#92c6ae" />
<rect x="210.50" y="149.05" width="33.31" height="4.35" fill="#4271b5" />
<text x="207" y="150.79999999999998" font-size="5.3" text-anchor="end" textLength="35.9" lengthAdjust="spacingAndGlyphs" fill="#1a1a1a" stroke="#1a1a1a" stroke-width="0.14" >Rab regulation</text>
<rect x="210.50" y="156.40" width="18.31" height="4.35" fill="#92c6ae" />
<rect x="210.50" y="160.75" width="21.81" height="4.35" fill="#4271b5" />
<text x="207" y="162.49999999999997" font-size="5.3" text-anchor="end" textLength="23.7" lengthAdjust="spacingAndGlyphs" fill="#1a1a1a" stroke="#1a1a1a" stroke-width="0.14" >Rab GEFs</text>
<line x1="210.7" y1="59.3" x2="210.7" y2="166.8" stroke="#000" stroke-width="1.0" />
<line x1="210.2" y1="166.3" x2="301.2" y2="166.3" stroke="#000" stroke-width="1.0" />
<line x1="210.5" y1="166.3" x2="210.5" y2="169.6" stroke="#000" stroke-width="0.9" />
<line x1="223.0" y1="166.3" x2="223.0" y2="169.6" stroke="#000" stroke-width="0.9" />
<line x1="235.5" y1="166.3" x2="235.5" y2="169.6" stroke="#000" stroke-width="0.9" />
<line x1="248.0" y1="166.3" x2="248.0" y2="169.6" stroke="#000" stroke-width="0.9" />
<line x1="260.5" y1="166.3" x2="260.5" y2="169.6" stroke="#000" stroke-width="0.9" />
<line x1="273.0" y1="166.3" x2="273.0" y2="169.6" stroke="#000" stroke-width="0.9" />
<line x1="285.5" y1="166.3" x2="285.5" y2="169.6" stroke="#000" stroke-width="0.9" />
<line x1="298.0" y1="166.3" x2="298.0" y2="169.6" stroke="#000" stroke-width="0.9" />
<text x="210.4" y="177.2" font-size="5.0" text-anchor="middle" fill="#1a1a1a" stroke="#1a1a1a" stroke-width="0.14" >0</text>
<text x="235.6" y="177.2" font-size="5.0" text-anchor="middle" fill="#1a1a1a" stroke="#1a1a1a" stroke-width="0.14" >40</text>
<text x="260.5" y="177.2" font-size="5.0" text-anchor="middle" fill="#1a1a1a" stroke="#1a1a1a" stroke-width="0.14" >80</text>
<text x="285.4" y="177.2" font-size="5.0" text-anchor="middle" fill="#1a1a1a" stroke="#1a1a1a" stroke-width="0.14" >120</text>
<rect x="260.00" y="148.80" width="6.20" height="5.80" fill="#92c6ae" />
<rect x="260.00" y="157.20" width="6.20" height="5.90" fill="#4271b5" />
<text x="269.7" y="153.8" font-size="4.2" textLength="19.5" lengthAdjust="spacingAndGlyphs" fill="#1a1a1a" stroke="#1a1a1a" stroke-width="0.14" ># proteins</text>
<text x="269.7" y="161.8" font-size="4.2" fill="#222" stroke="#222" stroke-width="0.1">-log<tspan font-size="2.8" dy="0.8">10</tspan><tspan dy="-0.8"> (FDR)</tspan><tspan font-size="2.8" dy="-1.6">10</tspan></text>
<text x="7.0" y="205.5" font-size="11.6" font-weight="bold" fill="#000" stroke="#000" stroke-width="0.14" >C</text>
<rect x="7.5" y="221.6" width="255.7" height="104.5" rx="5.5" fill="#e5f1ee"/>
<rect x="7.5" y="330.6" width="255.3" height="121.0" rx="5.5" fill="#deecf2"/>
<text x="33.1" y="217.7" font-size="6.4" textLength="28.6" lengthAdjust="spacingAndGlyphs" fill="#222" stroke="#222" stroke-width="0.14" >Rab GEFs</text>
<line x1="33.1" y1="219.0" x2="61.7" y2="219.0" stroke="#222" stroke-width="0.45" />
<text x="91.8" y="217.7" font-size="6.4" textLength="29.8" lengthAdjust="spacingAndGlyphs" fill="#222" stroke="#222" stroke-width="0.14" >Rab GAPs</text>
<line x1="91.8" y1="219.0" x2="121.6" y2="219.0" stroke="#222" stroke-width="0.45" />
<text x="162.3" y="217.7" font-size="6.4" textLength="14.0" lengthAdjust="spacingAndGlyphs" fill="#222" stroke="#222" stroke-width="0.14" >Rabs</text>
<line x1="162.3" y1="219.0" x2="176.3" y2="219.0" stroke="#222" stroke-width="0.45" />
<text x="209.7" y="217.7" font-size="6.4" textLength="39.2" lengthAdjust="spacingAndGlyphs" fill="#222" stroke="#222" stroke-width="0.14" >Rab Effectors</text>
<line x1="209.7" y1="219.0" x2="248.9" y2="219.0" stroke="#222" stroke-width="0.45" />
<text transform="translate(15.2 271) rotate(-90)" font-size="5.8" text-anchor="middle" textLength="33" lengthAdjust="spacingAndGlyphs" fill="#1a1a1a" stroke="#1a1a1a" stroke-width="0.14">Condition #1</text>
<line x1="17.7" y1="253.8" x2="17.7" y2="288" stroke="#333" stroke-width="0.5" />
<text transform="translate(16.6 393) rotate(-90)" font-size="5.8" text-anchor="middle" textLength="33" lengthAdjust="spacingAndGlyphs" fill="#1a1a1a" stroke="#1a1a1a" stroke-width="0.14">Condition #2</text>
<line x1="19.3" y1="376" x2="19.3" y2="410" stroke="#333" stroke-width="0.5" />
<rect x="20.60" y="228.20" width="25.6" height="11.3" rx="2.6" fill="#fff" stroke="#4a4a4a" stroke-width="0.75"/><circle cx="25.80" cy="227.30" r="3.05" fill="url(#cl)" stroke="#555" stroke-width="0.3"/><text x="25.80" y="228.35" font-size="3" text-anchor="middle" fill="#444" fill-opacity="0.75">P</text><circle cx="34.00" cy="227.30" r="3.05" fill="url(#cw)" stroke="#555" stroke-width="0.3"/><text x="34.00" y="228.35" font-size="3" text-anchor="middle" fill="#444" fill-opacity="0.75">P</text><circle cx="41.80" cy="227.30" r="3.05" fill="url(#cR)" stroke="#555" stroke-width="0.3"/><text x="41.80" y="228.35" font-size="3" text-anchor="middle" fill="#444" fill-opacity="0.75">P</text><circle cx="25.80" cy="239.70" r="3.05" fill="url(#cs)" stroke="#555" stroke-width="0.3"/><text x="25.80" y="240.75" font-size="3" text-anchor="middle" fill="#444" fill-opacity="0.75">P</text><circle cx="34.00" cy="239.70" r="3.05" fill="url(#cR)" stroke="#555" stroke-width="0.3"/><text x="34.00" y="240.75" font-size="3" text-anchor="middle" fill="#444" fill-opacity="0.75">P</text><circle cx="41.80" cy="239.70" r="3.05" fill="url(#cv)" stroke="#555" stroke-width="0.3"/><text x="41.80" y="240.75" font-size="3" text-anchor="middle" fill="#444" fill-opacity="0.75">P</text><text x="33.40" y="235.45" font-size="4.2" text-anchor="middle" fill="#222" stroke="#222" stroke-width="0.1">DENND2C</text>
<rect x="49.00" y="228.20" width="24.6" height="11.3" rx="2.6" fill="#fff" stroke="#4a4a4a" stroke-width="0.75"/><circle cx="54.20" cy="227.30" r="3.05" fill="url(#cv)" stroke="#555" stroke-width="0.3"/><text x="54.20" y="228.35" font-size="3" text-anchor="middle" fill="#444" fill-opacity="0.75">P</text><text x="61.30" y="235.45" font-size="4.2" text-anchor="middle" fill="#222" stroke="#222" stroke-width="0.1">MADD</text>
<rect x="20.60" y="249.90" width="25.6" height="11.4" rx="2.6" fill="#fff" stroke="#4a4a4a" stroke-width="0.75"/><circle cx="25.80" cy="249.00" r="3.05" fill="url(#cl)" stroke="#555" stroke-width="0.3"/><text x="25.80" y="250.05" font-size="3" text-anchor="middle" fill="#444" fill-opacity="0.75">P</text><circle cx="41.80" cy="249.00" r="3.05" fill="url(#cr)" stroke="#555" stroke-width="0.3"/><text x="41.80" y="250.05" font-size="3" text-anchor="middle" fill="#444" fill-opacity="0.75">P</text><text x="33.40" y="257.20" font-size="4.2" text-anchor="middle" fill="#222" stroke="#222" stroke-width="0.1">DENND4A</text>
<rect x="49.00" y="249.90" width="24.6" height="11.4" rx="2.6" fill="#fff" stroke="#4a4a4a" stroke-width="0.75"/><circle cx="54.20" cy="249.00" r="3.05" fill="url(#cl)" stroke="#555" stroke-width="0.3"/><text x="54.20" y="250.05" font-size="3" text-anchor="middle" fill="#444" fill-opacity="0.75">P</text><text x="61.30" y="257.20" font-size="4.2" text-anchor="middle" fill="#222" stroke="#222" stroke-width="0.1">RIC1</text>
<rect x="20.60" y="269.80" width="25.6" height="11.6" rx="2.6" fill="#fff" stroke="#4a4a4a" stroke-width="0.75"/><circle cx="25.80" cy="268.90" r="3.05" fill="url(#cr)" stroke="#555" stroke-width="0.3"/><text x="25.80" y="269.95" font-size="3" text-anchor="middle" fill="#444" fill-opacity="0.75">P</text><circle cx="34.00" cy="268.90" r="3.05" fill="url(#cp)" stroke="#555" stroke-width="0.3"/><text x="34.00" y="269.95" font-size="3" text-anchor="middle" fill="#444" fill-opacity="0.75">P</text><circle cx="41.80" cy="268.90" r="3.05" fill="url(#cv)" stroke="#555" stroke-width="0.3"/><text x="41.80" y="269.95" font-size="3" text-anchor="middle" fill="#444" fill-opacity="0.75">P</text><circle cx="25.80" cy="281.60" r="3.05" fill="url(#cr)" stroke="#555" stroke-width="0.3"/><text x="25.80" y="282.65" font-size="3" text-anchor="middle" fill="#444" fill-opacity="0.75">P</text><circle cx="41.80" cy="281.60" r="3.05" fill="url(#cr)" stroke="#555" stroke-width="0.3"/><text x="41.80" y="282.65" font-size="3" text-anchor="middle" fill="#444" fill-opacity="0.75">P</text><text x="33.40" y="277.20" font-size="4.2" text-anchor="middle" fill="#222" stroke="#222" stroke-width="0.1">DENND4C</text>
<rect x="81.00" y="228.00" width="24" height="10.9" rx="2.6" fill="#fff" stroke="#4a4a4a" stroke-width="0.75"/><circle cx="86.20" cy="227.10" r="3.05" fill="url(#cr)" stroke="#555" stroke-width="0.3"/><text x="86.20" y="228.15" font-size="3" text-anchor="middle" fill="#444" fill-opacity="0.75">P</text><text x="93.00" y="235.05" font-size="4.2" text-anchor="middle" fill="#222" stroke="#222" stroke-width="0.1">TBC1D1</text>
<rect x="109.00" y="228.00" width="25.3" height="10.9" rx="2.6" fill="#fff" stroke="#4a4a4a" stroke-width="0.75"/><circle cx="114.20" cy="227.10" r="3.05" fill="url(#cr)" stroke="#555" stroke-width="0.3"/><text x="114.20" y="228.15" font-size="3" text-anchor="middle" fill="#444" fill-opacity="0.75">P</text><text x="121.65" y="235.05" font-size="4.2" text-anchor="middle" fill="#222" stroke="#222" stroke-width="0.1" textLength="23.1" lengthAdjust="spacingAndGlyphs">TBC1D22B</text>
<rect x="81.00" y="245.00" width="24" height="11.2" rx="2.6" fill="#fff" stroke="#4a4a4a" stroke-width="0.75"/><circle cx="86.20" cy="244.10" r="3.05" fill="url(#cs)" stroke="#555" stroke-width="0.3"/><text x="86.20" y="245.15" font-size="3" text-anchor="middle" fill="#444" fill-opacity="0.75">P</text><circle cx="100.60" cy="244.10" r="3.05" fill="url(#cq)" stroke="#555" stroke-width="0.3"/><text x="100.60" y="245.15" font-size="3" text-anchor="middle" fill="#444" fill-opacity="0.75">P</text><circle cx="86.20" cy="256.40" r="3.05" fill="url(#cs)" stroke="#555" stroke-width="0.3"/><text x="86.20" y="257.45" font-size="3" text-anchor="middle" fill="#444" fill-opacity="0.75">P</text><text x="93.00" y="252.20" font-size="4.2" text-anchor="middle" fill="#222" stroke="#222" stroke-width="0.1">TBC1D5</text>
<rect x="109.00" y="245.00" width="25.3" height="11.2" rx="2.6" fill="#fff" stroke="#4a4a4a" stroke-width="0.75"/><circle cx="114.20" cy="244.10" r="3.05" fill="url(#cv)" stroke="#555" stroke-width="0.3"/><text x="114.20" y="245.15" font-size="3" text-anchor="middle" fill="#444" fill-opacity="0.75">P</text><text x="121.65" y="252.20" font-size="4.2" text-anchor="middle" fill="#222" stroke="#222" stroke-width="0.1">TBC1D23</text>
<rect x="81.00" y="266.40" width="24" height="10.9" rx="2.6" fill="#fff" stroke="#4a4a4a" stroke-width="0.75"/><circle cx="86.20" cy="265.50" r="3.05" fill="url(#cv)" stroke="#555" stroke-width="0.3"/><text x="86.20" y="266.55" font-size="3" text-anchor="middle" fill="#444" fill-opacity="0.75">P</text><circle cx="100.60" cy="265.50" r="3.05" fill="url(#cb)" stroke="#555" stroke-width="0.3"/><text x="100.60" y="266.55" font-size="3" text-anchor="middle" fill="#444" fill-opacity="0.75">P</text><text x="93.00" y="273.45" font-size="4.2" text-anchor="middle" fill="#222" stroke="#222" stroke-width="0.1" textLength="21.8" lengthAdjust="spacingAndGlyphs">TBC1D10B</text>
<rect x="109.00" y="266.40" width="25.3" height="10.9" rx="2.6" fill="#fff" stroke="#4a4a4a" stroke-width="0.75"/><circle cx="114.20" cy="265.50" r="3.05" fill="url(#cv)" stroke="#555" stroke-width="0.3"/><text x="114.20" y="266.55" font-size="3" text-anchor="middle" fill="#444" fill-opacity="0.75">P</text><text x="121.65" y="273.45" font-size="4.2" text-anchor="middle" fill="#222" stroke="#222" stroke-width="0.1">TSC1</text>
<rect x="81.00" y="283.90" width="24" height="10.9" rx="2.6" fill="#fff" stroke="#4a4a4a" stroke-width="0.75"/><circle cx="86.20" cy="283.00" r="3.05" fill="url(#cr)" stroke="#555" stroke-width="0.3"/><text x="86.20" y="284.05" font-size="3" text-anchor="middle" fill="#444" fill-opacity="0.75">P</text><text x="93.00" y="290.95" font-size="4.2" text-anchor="middle" fill="#222" stroke="#222" stroke-width="0.1">TBC1D15</text>
<rect x="109.00" y="283.90" width="25.3" height="10.9" rx="2.6" fill="#fff" stroke="#4a4a4a" stroke-width="0.75"/><circle cx="114.20" cy="283.00" r="3.05" fill="url(#cr)" stroke="#555" stroke-width="0.3"/><text x="114.20" y="284.05" font-size="3" text-anchor="middle" fill="#444" fill-opacity="0.75">P</text><circle cx="129.90" cy="283.00" r="3.05" fill="url(#cg)" stroke="#555" stroke-width="0.3"/><text x="129.90" y="284.05" font-size="3" text-anchor="middle" fill="#444" fill-opacity="0.75">P</text><text x="121.65" y="290.95" font-size="4.2" text-anchor="middle" fill="#222" stroke="#222" stroke-width="0.1">TSC2</text>
<rect x="81.00" y="301.50" width="24" height="11.2" rx="2.6" fill="#fff" stroke="#4a4a4a" stroke-width="0.75"/><circle cx="86.20" cy="300.60" r="3.05" fill="url(#cp)" stroke="#555" stroke-width="0.3"/><text x="86.20" y="301.65" font-size="3" text-anchor="middle" fill="#444" fill-opacity="0.75">P</text><text x="93.00" y="308.70" font-size="4.2" text-anchor="middle" fill="#222" stroke="#222" stroke-width="0.1" textLength="21.8" lengthAdjust="spacingAndGlyphs">TBC1D22A</text>
<rect x="143.40" y="227.90" width="24" height="10.7" rx="2.6" fill="#fff" stroke="#4a4a4a" stroke-width="0.75"/><circle cx="148.60" cy="227.00" r="3.05" fill="url(#cp)" stroke="#555" stroke-width="0.3"/><text x="148.60" y="228.05" font-size="3" text-anchor="middle" fill="#444" fill-opacity="0.75">P</text><text x="155.40" y="234.85" font-size="4.2" text-anchor="middle" fill="#222" stroke="#222" stroke-width="0.1">RAB1A</text>
<rect x="143.40" y="243.90" width="24" height="10.8" rx="2.6" fill="#fff" stroke="#4a4a4a" stroke-width="0.75"/><circle cx="148.60" cy="243.00" r="3.05" fill="url(#cl)" stroke="#555" stroke-width="0.3"/><text x="148.60" y="244.05" font-size="3" text-anchor="middle" fill="#444" fill-opacity="0.75">P</text><text x="155.40" y="250.90" font-size="4.2" text-anchor="middle" fill="#222" stroke="#222" stroke-width="0.1">RAB6A</text>
<rect x="143.40" y="259.60" width="24" height="11.2" rx="2.6" fill="#fff" stroke="#4a4a4a" stroke-width="0.75"/><circle cx="148.60" cy="258.70" r="3.05" fill="url(#cv)" stroke="#555" stroke-width="0.3"/><text x="148.60" y="259.75" font-size="3" text-anchor="middle" fill="#444" fill-opacity="0.75">P</text><circle cx="148.60" cy="271.00" r="3.05" fill="url(#cv)" stroke="#555" stroke-width="0.3"/><text x="148.60" y="272.05" font-size="3" text-anchor="middle" fill="#444" fill-opacity="0.75">P</text><text x="155.40" y="266.80" font-size="4.2" text-anchor="middle" fill="#222" stroke="#222" stroke-width="0.1">RABL6</text>
<rect x="143.40" y="280.30" width="24" height="10.8" rx="2.6" fill="#fff" stroke="#4a4a4a" stroke-width="0.75"/><circle cx="148.60" cy="279.40" r="3.05" fill="url(#cv)" stroke="#555" stroke-width="0.3"/><text x="148.60" y="280.45" font-size="3" text-anchor="middle" fill="#444" fill-opacity="0.75">P</text><circle cx="163.00" cy="279.40" r="3.05" fill="url(#cv)" stroke="#555" stroke-width="0.3"/><text x="163.00" y="280.45" font-size="3" text-anchor="middle" fill="#444" fill-opacity="0.75">P</text><text x="155.40" y="287.30" font-size="4.2" text-anchor="middle" fill="#222" stroke="#222" stroke-width="0.1">RAB8A</text>
<rect x="143.40" y="297.60" width="24" height="10.6" rx="2.6" fill="#fff" stroke="#4a4a4a" stroke-width="0.75"/><circle cx="148.60" cy="296.70" r="3.05" fill="url(#cv)" stroke="#555" stroke-width="0.3"/><text x="148.60" y="297.75" font-size="3" text-anchor="middle" fill="#444" fill-opacity="0.75">P</text><text x="155.40" y="304.50" font-size="4.2" text-anchor="middle" fill="#222" stroke="#222" stroke-width="0.1">RAB9A</text>
<rect x="143.40" y="313.00" width="24" height="10.3" rx="2.6" fill="#fff" stroke="#4a4a4a" stroke-width="0.75"/><text x="155.40" y="319.75" font-size="4.2" text-anchor="middle" fill="#222" stroke="#222" stroke-width="0.1">RAB10</text>
<rect x="171.80" y="227.90" width="24" height="10.5" rx="2.6" fill="#fff" stroke="#4a4a4a" stroke-width="0.75"/><circle cx="177.00" cy="227.00" r="3.05" fill="url(#cw)" stroke="#555" stroke-width="0.3"/><text x="177.00" y="228.05" font-size="3" text-anchor="middle" fill="#444" fill-opacity="0.75">P</text><circle cx="191.40" cy="227.00" r="3.05" fill="url(#cs)" stroke="#555" stroke-width="0.3"/><text x="191.40" y="228.05" font-size="3" text-anchor="middle" fill="#444" fill-opacity="0.75">P</text><text x="183.80" y="234.75" font-size="4.2" text-anchor="middle" fill="#222" stroke="#222" stroke-width="0.1">RAB11A</text>
<rect x="171.80" y="244.20" width="24" height="10.5" rx="2.6" fill="#fff" stroke="#4a4a4a" stroke-width="0.75"/><circle cx="177.00" cy="243.30" r="3.05" fill="url(#cl)" stroke="#555" stroke-width="0.3"/><text x="177.00" y="244.35" font-size="3" text-anchor="middle" fill="#444" fill-opacity="0.75">P</text><text x="183.80" y="251.05" font-size="4.2" text-anchor="middle" fill="#222" stroke="#222" stroke-width="0.1">RAB12</text>
<rect x="171.80" y="260.70" width="24" height="10.5" rx="2.6" fill="#fff" stroke="#4a4a4a" stroke-width="0.75"/><circle cx="177.00" cy="259.80" r="3.05" fill="url(#cp)" stroke="#555" stroke-width="0.3"/><text x="177.00" y="260.85" font-size="3" text-anchor="middle" fill="#444" fill-opacity="0.75">P</text><text x="183.80" y="267.55" font-size="4.2" text-anchor="middle" fill="#222" stroke="#222" stroke-width="0.1">RAB13</text>
<rect x="171.80" y="280.80" width="24" height="10.5" rx="2.6" fill="#fff" stroke="#4a4a4a" stroke-width="0.75"/><circle cx="177.00" cy="279.90" r="3.05" fill="url(#cs)" stroke="#555" stroke-width="0.3"/><text x="177.00" y="280.95" font-size="3" text-anchor="middle" fill="#444" fill-opacity="0.75">P</text><text x="183.80" y="287.65" font-size="4.2" text-anchor="middle" fill="#222" stroke="#222" stroke-width="0.1">RAB34</text>
<rect x="171.80" y="297.80" width="24" height="10.5" rx="2.6" fill="#fff" stroke="#4a4a4a" stroke-width="0.75"/><circle cx="177.00" cy="296.90" r="3.05" fill="url(#cB)" stroke="#555" stroke-width="0.3"/><text x="177.00" y="297.95" font-size="3" text-anchor="middle" fill="#444" fill-opacity="0.75">P</text><text x="183.80" y="304.65" font-size="4.2" text-anchor="middle" fill="#222" stroke="#222" stroke-width="0.1">RAB37</text>
<rect x="206.60" y="227.90" width="24.8" height="10.5" rx="2.6" fill="#fff" stroke="#4a4a4a" stroke-width="0.75"/><circle cx="211.80" cy="227.00" r="3.05" fill="url(#cB)" stroke="#555" stroke-width="0.3"/><text x="211.80" y="228.05" font-size="3" text-anchor="middle" fill="#444" fill-opacity="0.75">P</text><text x="219.00" y="234.75" font-size="4.2" text-anchor="middle" fill="#222" stroke="#222" stroke-width="0.1">ERC1</text>
<rect x="235.90" y="227.90" width="24.8" height="10.5" rx="2.6" fill="#fff" stroke="#4a4a4a" stroke-width="0.75"/><circle cx="241.10" cy="227.00" r="3.05" fill="url(#cr)" stroke="#555" stroke-width="0.3"/><text x="241.10" y="228.05" font-size="3" text-anchor="middle" fill="#444" fill-opacity="0.75">P</text><text x="248.30" y="234.75" font-size="4.2" text-anchor="middle" fill="#222" stroke="#222" stroke-width="0.1">OPTN</text>
<rect x="206.60" y="245.50" width="24.8" height="10.5" rx="2.6" fill="#fff" stroke="#4a4a4a" stroke-width="0.75"/><circle cx="211.80" cy="244.60" r="3.05" fill="url(#cr)" stroke="#555" stroke-width="0.3"/><text x="211.80" y="245.65" font-size="3" text-anchor="middle" fill="#444" fill-opacity="0.75">P</text><text x="219.00" y="252.35" font-size="4.2" text-anchor="middle" fill="#222" stroke="#222" stroke-width="0.1">MICAL1</text>
<rect x="235.90" y="245.50" width="24.8" height="10.5" rx="2.6" fill="#fff" stroke="#4a4a4a" stroke-width="0.75"/><circle cx="241.10" cy="244.60" r="3.05" fill="url(#cv)" stroke="#555" stroke-width="0.3"/><text x="241.10" y="245.65" font-size="3" text-anchor="middle" fill="#444" fill-opacity="0.75">P</text><text x="248.30" y="252.35" font-size="4.2" text-anchor="middle" fill="#222" stroke="#222" stroke-width="0.1">RABEP1</text>
<rect x="206.60" y="263.20" width="24.8" height="11.0" rx="2.6" fill="#fff" stroke="#4a4a4a" stroke-width="0.75"/><circle cx="211.80" cy="262.30" r="3.05" fill="url(#cs)" stroke="#555" stroke-width="0.3"/><text x="211.80" y="263.35" font-size="3" text-anchor="middle" fill="#444" fill-opacity="0.75">P</text><circle cx="227.00" cy="262.30" r="3.05" fill="url(#cs)" stroke="#555" stroke-width="0.3"/><text x="227.00" y="263.35" font-size="3" text-anchor="middle" fill="#444" fill-opacity="0.75">P</text><text x="219.00" y="270.30" font-size="4.2" text-anchor="middle" fill="#222" stroke="#222" stroke-width="0.1">MICAL3</text>
<rect x="235.90" y="263.20" width="24.8" height="11.0" rx="2.6" fill="#fff" stroke="#4a4a4a" stroke-width="0.75"/><circle cx="241.10" cy="262.30" r="3.05" fill="url(#cw)" stroke="#555" stroke-width="0.3"/><text x="241.10" y="263.35" font-size="3" text-anchor="middle" fill="#444" fill-opacity="0.75">P</text><text x="248.30" y="270.30" font-size="4.2" text-anchor="middle" fill="#222" stroke="#222" stroke-width="0.1">RILP</text>
<rect x="206.60" y="280.80" width="24.8" height="10.5" rx="2.6" fill="#fff" stroke="#4a4a4a" stroke-width="0.75"/><circle cx="211.80" cy="279.90" r="3.05" fill="url(#cr)" stroke="#555" stroke-width="0.3"/><text x="211.80" y="280.95" font-size="3" text-anchor="middle" fill="#444" fill-opacity="0.75">P</text><text x="219.00" y="287.65" font-size="4.2" text-anchor="middle" fill="#222" stroke="#222" stroke-width="0.1">MYO5A</text>
<rect x="235.90" y="280.80" width="24.8" height="10.5" rx="2.6" fill="#fff" stroke="#4a4a4a" stroke-width="0.75"/><circle cx="241.10" cy="279.90" r="3.05" fill="url(#cw)" stroke="#555" stroke-width="0.3"/><text x="241.10" y="280.95" font-size="3" text-anchor="middle" fill="#444" fill-opacity="0.75">P</text><text x="248.30" y="287.65" font-size="4.2" text-anchor="middle" fill="#222" stroke="#222" stroke-width="0.1">RILPL2</text>
<rect x="23.30" y="337.60" width="23.6" height="11.2" rx="2.6" fill="#fff" stroke="#4a4a4a" stroke-width="0.75"/><circle cx="28.50" cy="336.70" r="3.05" fill="url(#cv)" stroke="#555" stroke-width="0.3"/><text x="28.50" y="337.75" font-size="3" text-anchor="middle" fill="#444" fill-opacity="0.75">P</text><text x="35.10" y="344.80" font-size="4.2" text-anchor="middle" fill="#222" stroke="#222" stroke-width="0.1">ALS2</text>
<rect x="51.30" y="337.60" width="23.9" height="11.2" rx="2.6" fill="#fff" stroke="#4a4a4a" stroke-width="0.75"/><circle cx="56.50" cy="336.70" r="3.05" fill="url(#cv)" stroke="#555" stroke-width="0.3"/><text x="56.50" y="337.75" font-size="3" text-anchor="middle" fill="#444" fill-opacity="0.75">P</text><text x="63.25" y="344.80" font-size="4.2" text-anchor="middle" fill="#222" stroke="#222" stroke-width="0.1">MON1B</text>
<rect x="23.30" y="355.00" width="24.2" height="11.3" rx="2.6" fill="#fff" stroke="#4a4a4a" stroke-width="0.75"/><circle cx="28.50" cy="354.10" r="3.05" fill="url(#cb)" stroke="#555" stroke-width="0.3"/><text x="28.50" y="355.15" font-size="3" text-anchor="middle" fill="#444" fill-opacity="0.75">P</text><text x="35.40" y="362.25" font-size="4.2" text-anchor="middle" fill="#222" stroke="#222" stroke-width="0.1">DENND1B</text>
<rect x="51.30" y="355.00" width="23.9" height="11.3" rx="2.6" fill="#fff" stroke="#4a4a4a" stroke-width="0.75"/><circle cx="56.50" cy="354.10" r="3.05" fill="url(#cq)" stroke="#555" stroke-width="0.3"/><text x="56.50" y="355.15" font-size="3" text-anchor="middle" fill="#444" fill-opacity="0.75">P</text><text x="63.25" y="362.25" font-size="4.2" text-anchor="middle" fill="#222" stroke="#222" stroke-width="0.1">RIC1</text>
<rect x="23.30" y="373.40" width="24.5" height="10.7" rx="2.6" fill="#fff" stroke="#4a4a4a" stroke-width="0.75"/><circle cx="28.50" cy="372.50" r="3.05" fill="url(#cr)" stroke="#555" stroke-width="0.3"/><text x="28.50" y="373.55" font-size="3" text-anchor="middle" fill="#444" fill-opacity="0.75">P</text><circle cx="36.15" cy="372.50" r="3.05" fill="url(#cw)" stroke="#555" stroke-width="0.3"/><text x="36.15" y="373.55" font-size="3" text-anchor="middle" fill="#444" fill-opacity="0.75">P</text><circle cx="43.40" cy="372.50" r="3.05" fill="url(#cR)" stroke="#555" stroke-width="0.3"/><text x="43.40" y="373.55" font-size="3" text-anchor="middle" fill="#444" fill-opacity="0.75">P</text><circle cx="28.50" cy="384.30" r="3.05" fill="url(#cB)" stroke="#555" stroke-width="0.3"/><text x="28.50" y="385.35" font-size="3" text-anchor="middle" fill="#444" fill-opacity="0.75">P</text><circle cx="36.15" cy="384.30" r="3.05" fill="url(#cR)" stroke="#555" stroke-width="0.3"/><text x="36.15" y="385.35" font-size="3" text-anchor="middle" fill="#444" fill-opacity="0.75">P</text><circle cx="43.40" cy="384.30" r="3.05" fill="url(#cR)" stroke="#555" stroke-width="0.3"/><text x="43.40" y="385.35" font-size="3" text-anchor="middle" fill="#444" fill-opacity="0.75">P</text><text x="35.55" y="380.35" font-size="4.2" text-anchor="middle" fill="#222" stroke="#222" stroke-width="0.1">DENND2C</text>
<circle cx="48.3" cy="372.9" r="2.6" fill="#dd5a3c" stroke="#555" stroke-width="0.3"/>
<rect x="51.30" y="373.40" width="23.9" height="10.7" rx="2.6" fill="#fff" stroke="#4a4a4a" stroke-width="0.75"/><circle cx="56.50" cy="372.50" r="3.05" fill="url(#cp)" stroke="#555" stroke-width="0.3"/><text x="56.50" y="373.55" font-size="3" text-anchor="middle" fill="#444" fill-opacity="0.75">P</text><text x="63.25" y="380.35" font-size="4.2" text-anchor="middle" fill="#222" stroke="#222" stroke-width="0.1">RIN3</text>
<rect x="23.30" y="392.30" width="24.5" height="10.8" rx="2.6" fill="#fff" stroke="#4a4a4a" stroke-width="0.75"/><circle cx="28.50" cy="391.40" r="3.05" fill="url(#cR)" stroke="#555" stroke-width="0.3"/><text x="28.50" y="392.45" font-size="3" text-anchor="middle" fill="#444" fill-opacity="0.75">P</text><circle cx="43.40" cy="391.40" r="3.05" fill="url(#cp)" stroke="#555" stroke-width="0.3"/><text x="43.40" y="392.45" font-size="3" text-anchor="middle" fill="#444" fill-opacity="0.75">P</text><circle cx="28.50" cy="403.30" r="3.05" fill="url(#cv)" stroke="#555" stroke-width="0.3"/><text x="28.50" y="404.35" font-size="3" text-anchor="middle" fill="#444" fill-opacity="0.75">P</text><text x="35.55" y="399.30" font-size="4.2" text-anchor="middle" fill="#222" stroke="#222" stroke-width="0.1">DENND4A</text>
<rect x="51.30" y="392.30" width="23.9" height="10.8" rx="2.6" fill="#fff" stroke="#4a4a4a" stroke-width="0.75"/><circle cx="56.50" cy="391.40" r="3.05" fill="url(#cR)" stroke="#555" stroke-width="0.3"/><text x="56.50" y="392.45" font-size="3" text-anchor="middle" fill="#444" fill-opacity="0.75">P</text><text x="63.25" y="399.30" font-size="4.2" text-anchor="middle" fill="#222" stroke="#222" stroke-width="0.1">SBF1</text>
<rect x="23.30" y="411.30" width="24.5" height="10.8" rx="2.6" fill="#fff" stroke="#4a4a4a" stroke-width="0.75"/><circle cx="28.50" cy="410.40" r="3.05" fill="url(#cv)" stroke="#555" stroke-width="0.3"/><text x="28.50" y="411.45" font-size="3" text-anchor="middle" fill="#444" fill-opacity="0.75">P</text><circle cx="36.15" cy="410.40" r="3.05" fill="url(#cs)" stroke="#555" stroke-width="0.3"/><text x="36.15" y="411.45" font-size="3" text-anchor="middle" fill="#444" fill-opacity="0.75">P</text><circle cx="43.40" cy="410.40" r="3.05" fill="url(#cr)" stroke="#555" stroke-width="0.3"/><text x="43.40" y="411.45" font-size="3" text-anchor="middle" fill="#444" fill-opacity="0.75">P</text><circle cx="28.50" cy="422.30" r="3.05" fill="url(#cs)" stroke="#555" stroke-width="0.3"/><text x="28.50" y="423.35" font-size="3" text-anchor="middle" fill="#444" fill-opacity="0.75">P</text><circle cx="36.15" cy="422.30" r="3.05" fill="url(#cv)" stroke="#555" stroke-width="0.3"/><text x="36.15" y="423.35" font-size="3" text-anchor="middle" fill="#444" fill-opacity="0.75">P</text><circle cx="43.40" cy="422.30" r="3.05" fill="url(#cw)" stroke="#555" stroke-width="0.3"/><text x="43.40" y="423.35" font-size="3" text-anchor="middle" fill="#444" fill-opacity="0.75">P</text><text x="35.55" y="418.30" font-size="4.2" text-anchor="middle" fill="#222" stroke="#222" stroke-width="0.1">DENND4C</text>
<rect x="51.30" y="411.30" width="23.9" height="10.8" rx="2.6" fill="#fff" stroke="#4a4a4a" stroke-width="0.75"/><circle cx="56.50" cy="410.40" r="3.05" fill="url(#cR)" stroke="#555" stroke-width="0.3"/><text x="56.50" y="411.45" font-size="3" text-anchor="middle" fill="#444" fill-opacity="0.75">P</text><text x="63.25" y="418.30" font-size="4.2" text-anchor="middle" fill="#222" stroke="#222" stroke-width="0.1">RINL</text>
<rect x="23.30" y="430.50" width="24.5" height="10.8" rx="2.6" fill="#fff" stroke="#4a4a4a" stroke-width="0.75"/><circle cx="28.50" cy="429.60" r="3.05" fill="url(#cp)" stroke="#555" stroke-width="0.3"/><text x="28.50" y="430.65" font-size="3" text-anchor="middle" fill="#444" fill-opacity="0.75">P</text><circle cx="43.40" cy="429.60" r="3.05" fill="url(#cl)" stroke="#555" stroke-width="0.3"/><text x="43.40" y="430.65" font-size="3" text-anchor="middle" fill="#444" fill-opacity="0.75">P</text><text x="35.55" y="437.50" font-size="4.2" text-anchor="middle" fill="#222" stroke="#222" stroke-width="0.1">MADD</text>
<rect x="51.30" y="430.50" width="23.9" height="10.8" rx="2.6" fill="#fff" stroke="#4a4a4a" stroke-width="0.75"/><circle cx="56.50" cy="429.60" r="3.05" fill="url(#cp)" stroke="#555" stroke-width="0.3"/><text x="56.50" y="430.65" font-size="3" text-anchor="middle" fill="#444" fill-opacity="0.75">P</text><text x="63.25" y="437.50" font-size="4.2" text-anchor="middle" fill="#222" stroke="#222" stroke-width="0.1" textLength="21.7" lengthAdjust="spacingAndGlyphs">TRAPPC12</text>
<rect x="83.10" y="338.10" width="24.2" height="10.7" rx="2.6" fill="#fff" stroke="#4a4a4a" stroke-width="0.75"/><circle cx="88.30" cy="337.20" r="3.05" fill="url(#cs)" stroke="#555" stroke-width="0.3"/><text x="88.30" y="338.25" font-size="3" text-anchor="middle" fill="#444" fill-opacity="0.75">P</text><text x="95.20" y="345.05" font-size="4.2" text-anchor="middle" fill="#222" stroke="#222" stroke-width="0.1">GAPVD1</text>
<rect x="83.10" y="353.60" width="24.2" height="10.7" rx="2.6" fill="#fff" stroke="#4a4a4a" stroke-width="0.75"/><circle cx="88.30" cy="352.70" r="3.05" fill="url(#cv)" stroke="#555" stroke-width="0.3"/><text x="88.30" y="353.75" font-size="3" text-anchor="middle" fill="#444" fill-opacity="0.75">P</text><circle cx="102.90" cy="352.70" r="3.05" fill="url(#cR)" stroke="#555" stroke-width="0.3"/><text x="102.90" y="353.75" font-size="3" text-anchor="middle" fill="#444" fill-opacity="0.75">P</text><text x="95.20" y="360.55" font-size="4.2" text-anchor="middle" fill="#222" stroke="#222" stroke-width="0.1">RABGAP1</text>
<rect x="83.10" y="369.60" width="24.2" height="10.7" rx="2.6" fill="#fff" stroke="#4a4a4a" stroke-width="0.75"/><circle cx="88.30" cy="368.70" r="3.05" fill="url(#cR)" stroke="#555" stroke-width="0.3"/><text x="88.30" y="369.75" font-size="3" text-anchor="middle" fill="#444" fill-opacity="0.75">P</text><text x="95.20" y="376.55" font-size="4.2" text-anchor="middle" fill="#222" stroke="#222" stroke-width="0.1" textLength="22.0" lengthAdjust="spacingAndGlyphs">RAB3GAP1</text>
<rect x="83.10" y="385.60" width="24.2" height="10.7" rx="2.6" fill="#fff" stroke="#4a4a4a" stroke-width="0.75"/><circle cx="88.30" cy="384.70" r="3.05" fill="url(#cs)" stroke="#555" stroke-width="0.3"/><text x="88.30" y="385.75" font-size="3" text-anchor="middle" fill="#444" fill-opacity="0.75">P</text><text x="95.20" y="392.55" font-size="4.2" text-anchor="middle" fill="#222" stroke="#222" stroke-width="0.1" textLength="22.0" lengthAdjust="spacingAndGlyphs">RAB3GAP2</text>
<rect x="83.10" y="401.70" width="24.2" height="10.7" rx="2.6" fill="#fff" stroke="#4a4a4a" stroke-width="0.75"/><circle cx="88.30" cy="400.80" r="3.05" fill="url(#cs)" stroke="#555" stroke-width="0.3"/><text x="88.30" y="401.85" font-size="3" text-anchor="middle" fill="#444" fill-opacity="0.75">P</text><text x="95.20" y="408.65" font-size="4.2" text-anchor="middle" fill="#222" stroke="#222" stroke-width="0.1">TBC1D5</text>
<rect x="83.10" y="418.00" width="24.2" height="10.7" rx="2.6" fill="#fff" stroke="#4a4a4a" stroke-width="0.75"/><circle cx="88.30" cy="417.10" r="3.05" fill="url(#cw)" stroke="#555" stroke-width="0.3"/><text x="88.30" y="418.15" font-size="3" text-anchor="middle" fill="#444" fill-opacity="0.75">P</text><circle cx="102.90" cy="417.10" r="3.05" fill="url(#cq)" stroke="#555" stroke-width="0.3"/><text x="102.90" y="418.15" font-size="3" text-anchor="middle" fill="#444" fill-opacity="0.75">P</text><text x="95.20" y="424.95" font-size="4.2" text-anchor="middle" fill="#222" stroke="#222" stroke-width="0.1">TBC1D9B</text>
<rect x="83.10" y="434.30" width="24.2" height="10.7" rx="2.6" fill="#fff" stroke="#4a4a4a" stroke-width="0.75"/><circle cx="88.30" cy="433.40" r="3.05" fill="url(#cl)" stroke="#555" stroke-width="0.3"/><text x="88.30" y="434.45" font-size="3" text-anchor="middle" fill="#444" fill-opacity="0.75">P</text><circle cx="102.90" cy="433.40" r="3.05" fill="url(#cv)" stroke="#555" stroke-width="0.3"/><text x="102.90" y="434.45" font-size="3" text-anchor="middle" fill="#444" fill-opacity="0.75">P</text><circle cx="88.30" cy="445.20" r="3.05" fill="url(#cp)" stroke="#555" stroke-width="0.3"/><text x="88.30" y="446.25" font-size="3" text-anchor="middle" fill="#444" fill-opacity="0.75">P</text><circle cx="102.90" cy="445.20" r="3.05" fill="url(#cv)" stroke="#555" stroke-width="0.3"/><text x="102.90" y="446.25" font-size="3" text-anchor="middle" fill="#444" fill-opacity="0.75">P</text><text x="95.20" y="441.25" font-size="4.2" text-anchor="middle" fill="#222" stroke="#222" stroke-width="0.1" textLength="22.0" lengthAdjust="spacingAndGlyphs">TBC1D10B</text>
<rect x="111.70" y="338.10" width="23.9" height="10.7" rx="2.6" fill="#fff" stroke="#4a4a4a" stroke-width="0.75"/><circle cx="116.90" cy="337.20" r="3.05" fill="url(#cq)" stroke="#555" stroke-width="0.3"/><text x="116.90" y="338.25" font-size="3" text-anchor="middle" fill="#444" fill-opacity="0.75">P</text><text x="123.65" y="345.05" font-size="4.2" text-anchor="middle" fill="#222" stroke="#222" stroke-width="0.1">TBC1D14</text>
<rect x="111.70" y="353.60" width="23.9" height="10.7" rx="2.6" fill="#fff" stroke="#4a4a4a" stroke-width="0.75"/><circle cx="116.90" cy="352.70" r="3.05" fill="url(#cv)" stroke="#555" stroke-width="0.3"/><text x="116.90" y="353.75" font-size="3" text-anchor="middle" fill="#444" fill-opacity="0.75">P</text><circle cx="131.20" cy="352.70" r="3.05" fill="url(#cs)" stroke="#555" stroke-width="0.3"/><text x="131.20" y="353.75" font-size="3" text-anchor="middle" fill="#444" fill-opacity="0.75">P</text><text x="123.65" y="360.55" font-size="4.2" text-anchor="middle" fill="#222" stroke="#222" stroke-width="0.1">TBC1D15</text>
<rect x="111.70" y="369.60" width="23.9" height="10.7" rx="2.6" fill="#fff" stroke="#4a4a4a" stroke-width="0.75"/><circle cx="116.90" cy="368.70" r="3.05" fill="url(#cB)" stroke="#555" stroke-width="0.3"/><text x="116.90" y="369.75" font-size="3" text-anchor="middle" fill="#444" fill-opacity="0.75">P</text><text x="123.65" y="376.55" font-size="4.2" text-anchor="middle" fill="#222" stroke="#222" stroke-width="0.1">TBC1D17</text>
<rect x="111.70" y="385.60" width="23.9" height="10.7" rx="2.6" fill="#fff" stroke="#4a4a4a" stroke-width="0.75"/><circle cx="116.90" cy="384.70" r="3.05" fill="url(#cs)" stroke="#555" stroke-width="0.3"/><text x="116.90" y="385.75" font-size="3" text-anchor="middle" fill="#444" fill-opacity="0.75">P</text><text x="123.65" y="392.55" font-size="4.2" text-anchor="middle" fill="#222" stroke="#222" stroke-width="0.1">TBC1D23</text>
<rect x="111.70" y="401.70" width="23.9" height="10.7" rx="2.6" fill="#fff" stroke="#4a4a4a" stroke-width="0.75"/><circle cx="116.90" cy="400.80" r="3.05" fill="url(#cw)" stroke="#555" stroke-width="0.3"/><text x="116.90" y="401.85" font-size="3" text-anchor="middle" fill="#444" fill-opacity="0.75">P</text><circle cx="131.20" cy="400.80" r="3.05" fill="url(#cs)" stroke="#555" stroke-width="0.3"/><text x="131.20" y="401.85" font-size="3" text-anchor="middle" fill="#444" fill-opacity="0.75">P</text><text x="123.65" y="408.65" font-size="4.2" text-anchor="middle" fill="#222" stroke="#222" stroke-width="0.1">TBC1D25</text>
<rect x="111.70" y="418.00" width="23.9" height="10.7" rx="2.6" fill="#fff" stroke="#4a4a4a" stroke-width="0.75"/><circle cx="116.90" cy="417.10" r="3.05" fill="url(#cR)" stroke="#555" stroke-width="0.3"/><text x="116.90" y="418.15" font-size="3" text-anchor="middle" fill="#444" fill-opacity="0.75">P</text><text x="123.65" y="424.95" font-size="4.2" text-anchor="middle" fill="#222" stroke="#222" stroke-width="0.1">TSC1</text>
<rect x="111.70" y="434.30" width="23.9" height="10.7" rx="2.6" fill="#fff" stroke="#4a4a4a" stroke-width="0.75"/><circle cx="116.90" cy="433.40" r="3.05" fill="url(#cl)" stroke="#555" stroke-width="0.3"/><text x="116.90" y="434.45" font-size="3" text-anchor="middle" fill="#444" fill-opacity="0.75">P</text><circle cx="124.25" cy="433.40" r="3.05" fill="url(#cb)" stroke="#555" stroke-width="0.3"/><text x="124.25" y="434.45" font-size="3" text-anchor="middle" fill="#444" fill-opacity="0.75">P</text><circle cx="131.20" cy="433.40" r="3.05" fill="url(#cg)" stroke="#555" stroke-width="0.3"/><text x="131.20" y="434.45" font-size="3" text-anchor="middle" fill="#444" fill-opacity="0.75">P</text><circle cx="131.20" cy="445.20" r="3.05" fill="url(#cv)" stroke="#555" stroke-width="0.3"/><text x="131.20" y="446.25" font-size="3" text-anchor="middle" fill="#444" fill-opacity="0.75">P</text><text x="123.65" y="441.25" font-size="4.2" text-anchor="middle" fill="#222" stroke="#222" stroke-width="0.1">TSC2</text>
<rect x="146.40" y="338.10" width="23.6" height="10.6" rx="2.6" fill="#fff" stroke="#4a4a4a" stroke-width="0.75"/><circle cx="151.60" cy="337.20" r="3.05" fill="url(#cs)" stroke="#555" stroke-width="0.3"/><text x="151.60" y="338.25" font-size="3" text-anchor="middle" fill="#444" fill-opacity="0.75">P</text><text x="158.20" y="345.00" font-size="4.2" text-anchor="middle" fill="#222" stroke="#222" stroke-width="0.1">RAB6A</text>
<rect x="146.40" y="355.20" width="23.6" height="10.6" rx="2.6" fill="#fff" stroke="#4a4a4a" stroke-width="0.75"/><circle cx="151.60" cy="354.30" r="3.05" fill="url(#cv)" stroke="#555" stroke-width="0.3"/><text x="151.60" y="355.35" font-size="3" text-anchor="middle" fill="#444" fill-opacity="0.75">P</text><text x="158.20" y="362.10" font-size="4.2" text-anchor="middle" fill="#222" stroke="#222" stroke-width="0.1">RABL6</text>
<rect x="146.40" y="373.60" width="23.6" height="10.2" rx="2.6" fill="#fff" stroke="#4a4a4a" stroke-width="0.75"/><circle cx="151.60" cy="372.70" r="3.05" fill="url(#cr)" stroke="#555" stroke-width="0.3"/><text x="151.60" y="373.75" font-size="3" text-anchor="middle" fill="#444" fill-opacity="0.75">P</text><text x="158.20" y="380.30" font-size="4.2" text-anchor="middle" fill="#222" stroke="#222" stroke-width="0.1">RAB7A</text>
<rect x="146.40" y="391.80" width="23.6" height="10.0" rx="2.6" fill="#fff" stroke="#4a4a4a" stroke-width="0.75"/><circle cx="151.60" cy="390.90" r="3.05" fill="url(#cv)" stroke="#555" stroke-width="0.3"/><text x="151.60" y="391.95" font-size="3" text-anchor="middle" fill="#444" fill-opacity="0.75">P</text><circle cx="165.60" cy="390.90" r="3.05" fill="url(#cv)" stroke="#555" stroke-width="0.3"/><text x="165.60" y="391.95" font-size="3" text-anchor="middle" fill="#444" fill-opacity="0.75">P</text><circle cx="151.60" cy="402.00" r="3.05" fill="url(#cv)" stroke="#555" stroke-width="0.3"/><text x="151.60" y="403.05" font-size="3" text-anchor="middle" fill="#444" fill-opacity="0.75">P</text><text x="158.20" y="398.40" font-size="4.2" text-anchor="middle" fill="#222" stroke="#222" stroke-width="0.1">RAB8A</text>
<rect x="146.40" y="411.60" width="23.6" height="10.4" rx="2.6" fill="#fff" stroke="#4a4a4a" stroke-width="0.75"/><circle cx="151.60" cy="410.70" r="3.05" fill="url(#cs)" stroke="#555" stroke-width="0.3"/><text x="151.60" y="411.75" font-size="3" text-anchor="middle" fill="#444" fill-opacity="0.75">P</text><circle cx="165.60" cy="410.70" r="3.05" fill="url(#cp)" stroke="#555" stroke-width="0.3"/><text x="165.60" y="411.75" font-size="3" text-anchor="middle" fill="#444" fill-opacity="0.75">P</text><text x="158.20" y="418.40" font-size="4.2" text-anchor="middle" fill="#222" stroke="#222" stroke-width="0.1">RAB11A</text>
<rect x="173.70" y="338.10" width="23.7" height="10.4" rx="2.6" fill="#fff" stroke="#4a4a4a" stroke-width="0.75"/><circle cx="178.90" cy="337.20" r="3.05" fill="url(#cb)" stroke="#555" stroke-width="0.3"/><text x="178.90" y="338.25" font-size="3" text-anchor="middle" fill="#444" fill-opacity="0.75">P</text><text x="185.55" y="344.90" font-size="4.2" text-anchor="middle" fill="#222" stroke="#222" stroke-width="0.1">RAB12</text>
<rect x="173.70" y="355.70" width="23.7" height="10.3" rx="2.6" fill="#fff" stroke="#4a4a4a" stroke-width="0.75"/><circle cx="178.90" cy="354.80" r="3.05" fill="url(#cs)" stroke="#555" stroke-width="0.3"/><text x="178.90" y="355.85" font-size="3" text-anchor="middle" fill="#444" fill-opacity="0.75">P</text><text x="185.55" y="362.45" font-size="4.2" text-anchor="middle" fill="#222" stroke="#222" stroke-width="0.1">RAB30</text>
<rect x="173.70" y="373.80" width="23.7" height="10.5" rx="2.6" fill="#fff" stroke="#4a4a4a" stroke-width="0.75"/><circle cx="178.90" cy="372.90" r="3.05" fill="url(#cR)" stroke="#555" stroke-width="0.3"/><text x="178.90" y="373.95" font-size="3" text-anchor="middle" fill="#444" fill-opacity="0.75">P</text><text x="185.55" y="380.65" font-size="4.2" text-anchor="middle" fill="#222" stroke="#222" stroke-width="0.1">RAB33A</text>
<rect x="173.70" y="392.70" width="23.7" height="10.3" rx="2.6" fill="#fff" stroke="#4a4a4a" stroke-width="0.75"/><circle cx="178.90" cy="391.80" r="3.05" fill="url(#cp)" stroke="#555" stroke-width="0.3"/><text x="178.90" y="392.85" font-size="3" text-anchor="middle" fill="#444" fill-opacity="0.75">P</text><text x="185.55" y="399.45" font-size="4.2" text-anchor="middle" fill="#222" stroke="#222" stroke-width="0.1">RAB34</text>
<rect x="208.20" y="338.10" width="23.3" height="10.4" rx="2.6" fill="#fff" stroke="#4a4a4a" stroke-width="0.75"/><circle cx="213.40" cy="337.20" r="3.05" fill="url(#cp)" stroke="#555" stroke-width="0.3"/><text x="213.40" y="338.25" font-size="3" text-anchor="middle" fill="#444" fill-opacity="0.75">P</text><circle cx="227.10" cy="337.20" r="3.05" fill="url(#cw)" stroke="#555" stroke-width="0.3"/><text x="227.10" y="338.25" font-size="3" text-anchor="middle" fill="#444" fill-opacity="0.75">P</text><circle cx="213.40" cy="348.70" r="3.05" fill="url(#cB)" stroke="#555" stroke-width="0.3"/><text x="213.40" y="349.75" font-size="3" text-anchor="middle" fill="#444" fill-opacity="0.75">P</text><text x="219.85" y="344.90" font-size="4.2" text-anchor="middle" fill="#222" stroke="#222" stroke-width="0.1">ERC1</text>
<rect x="235.90" y="338.10" width="24" height="10.4" rx="2.6" fill="#fff" stroke="#4a4a4a" stroke-width="0.75"/><circle cx="241.10" cy="337.20" r="3.05" fill="url(#cs)" stroke="#555" stroke-width="0.3"/><text x="241.10" y="338.25" font-size="3" text-anchor="middle" fill="#444" fill-opacity="0.75">P</text><circle cx="255.50" cy="337.20" r="3.05" fill="url(#cs)" stroke="#555" stroke-width="0.3"/><text x="255.50" y="338.25" font-size="3" text-anchor="middle" fill="#444" fill-opacity="0.75">P</text><text x="247.90" y="344.90" font-size="4.2" text-anchor="middle" fill="#222" stroke="#222" stroke-width="0.1" textLength="21.8" lengthAdjust="spacingAndGlyphs">RAB11FIP3</text>
<rect x="208.20" y="355.70" width="23.3" height="10.3" rx="2.6" fill="#fff" stroke="#4a4a4a" stroke-width="0.75"/><circle cx="213.40" cy="354.80" r="3.05" fill="url(#cr)" stroke="#555" stroke-width="0.3"/><text x="213.40" y="355.85" font-size="3" text-anchor="middle" fill="#444" fill-opacity="0.75">P</text><circle cx="227.10" cy="354.80" r="3.05" fill="url(#cR)" stroke="#555" stroke-width="0.3"/><text x="227.10" y="355.85" font-size="3" text-anchor="middle" fill="#444" fill-opacity="0.75">P</text><circle cx="213.40" cy="366.20" r="3.05" fill="url(#cv)" stroke="#555" stroke-width="0.3"/><text x="213.40" y="367.25" font-size="3" text-anchor="middle" fill="#444" fill-opacity="0.75">P</text><text x="219.85" y="362.45" font-size="4.2" text-anchor="middle" fill="#222" stroke="#222" stroke-width="0.1">MICAL1</text>
<rect x="235.90" y="355.70" width="24" height="10.3" rx="2.6" fill="#fff" stroke="#4a4a4a" stroke-width="0.75"/><circle cx="241.10" cy="354.80" r="3.05" fill="url(#cg)" stroke="#555" stroke-width="0.3"/><text x="241.10" y="355.85" font-size="3" text-anchor="middle" fill="#444" fill-opacity="0.75">P</text><circle cx="255.50" cy="354.80" r="3.05" fill="url(#cg)" stroke="#555" stroke-width="0.3"/><text x="255.50" y="355.85" font-size="3" text-anchor="middle" fill="#444" fill-opacity="0.75">P</text><circle cx="241.10" cy="366.20" r="3.05" fill="url(#cb)" stroke="#555" stroke-width="0.3"/><text x="241.10" y="367.25" font-size="3" text-anchor="middle" fill="#444" fill-opacity="0.75">P</text><text x="247.90" y="362.45" font-size="4.2" text-anchor="middle" fill="#222" stroke="#222" stroke-width="0.1">RABEP1</text>
<rect x="208.20" y="373.80" width="23.3" height="9.8" rx="2.6" fill="#fff" stroke="#4a4a4a" stroke-width="0.75"/><circle cx="213.40" cy="372.90" r="3.05" fill="url(#cp)" stroke="#555" stroke-width="0.3"/><text x="213.40" y="373.95" font-size="3" text-anchor="middle" fill="#444" fill-opacity="0.75">P</text><circle cx="220.45" cy="372.90" r="3.05" fill="url(#cq)" stroke="#555" stroke-width="0.3"/><text x="220.45" y="373.95" font-size="3" text-anchor="middle" fill="#444" fill-opacity="0.75">P</text><circle cx="227.10" cy="372.90" r="3.05" fill="url(#cs)" stroke="#555" stroke-width="0.3"/><text x="227.10" y="373.95" font-size="3" text-anchor="middle" fill="#444" fill-opacity="0.75">P</text><circle cx="213.40" cy="383.80" r="3.05" fill="url(#cr)" stroke="#555" stroke-width="0.3"/><text x="213.40" y="384.85" font-size="3" text-anchor="middle" fill="#444" fill-opacity="0.75">P</text><circle cx="227.10" cy="383.80" r="3.05" fill="url(#cs)" stroke="#555" stroke-width="0.3"/><text x="227.10" y="384.85" font-size="3" text-anchor="middle" fill="#444" fill-opacity="0.75">P</text><text x="219.85" y="380.30" font-size="4.2" text-anchor="middle" fill="#222" stroke="#222" stroke-width="0.1">MICAL3</text>
<rect x="235.90" y="373.80" width="24" height="9.8" rx="2.6" fill="#fff" stroke="#4a4a4a" stroke-width="0.75"/><circle cx="241.10" cy="372.90" r="3.05" fill="url(#cr)" stroke="#555" stroke-width="0.3"/><text x="241.10" y="373.95" font-size="3" text-anchor="middle" fill="#444" fill-opacity="0.75">P</text><circle cx="255.50" cy="372.90" r="3.05" fill="url(#cw)" stroke="#555" stroke-width="0.3"/><text x="255.50" y="373.95" font-size="3" text-anchor="middle" fill="#444" fill-opacity="0.75">P</text><text x="247.90" y="380.30" font-size="4.2" text-anchor="middle" fill="#222" stroke="#222" stroke-width="0.1">RILP</text>
<rect x="208.20" y="392.70" width="23.3" height="10.3" rx="2.6" fill="#fff" stroke="#4a4a4a" stroke-width="0.75"/><circle cx="213.40" cy="391.80" r="3.05" fill="url(#cp)" stroke="#555" stroke-width="0.3"/><text x="213.40" y="392.85" font-size="3" text-anchor="middle" fill="#444" fill-opacity="0.75">P</text><text x="219.85" y="399.45" font-size="4.2" text-anchor="middle" fill="#222" stroke="#222" stroke-width="0.1">MYO5A</text>
<rect x="235.90" y="392.70" width="24" height="10.3" rx="2.6" fill="#fff" stroke="#4a4a4a" stroke-width="0.75"/><circle cx="241.10" cy="391.80" r="3.05" fill="url(#cv)" stroke="#555" stroke-width="0.3"/><text x="241.10" y="392.85" font-size="3" text-anchor="middle" fill="#444" fill-opacity="0.75">P</text><text x="247.90" y="399.45" font-size="4.2" text-anchor="middle" fill="#222" stroke="#222" stroke-width="0.1">RILPL2</text>
<rect x="208.20" y="411.10" width="23.3" height="9.8" rx="2.6" fill="#fff" stroke="#4a4a4a" stroke-width="0.75"/><circle cx="213.40" cy="410.20" r="3.05" fill="url(#cr)" stroke="#555" stroke-width="0.3"/><text x="213.40" y="411.25" font-size="3" text-anchor="middle" fill="#444" fill-opacity="0.75">P</text><circle cx="227.10" cy="410.20" r="3.05" fill="url(#cr)" stroke="#555" stroke-width="0.3"/><text x="227.10" y="411.25" font-size="3" text-anchor="middle" fill="#444" fill-opacity="0.75">P</text><circle cx="213.40" cy="421.10" r="3.05" fill="url(#cl)" stroke="#555" stroke-width="0.3"/><text x="213.40" y="422.15" font-size="3" text-anchor="middle" fill="#444" fill-opacity="0.75">P</text><text x="219.85" y="417.60" font-size="4.2" text-anchor="middle" fill="#222" stroke="#222" stroke-width="0.1">OPTN</text>
<text x="308.2" y="17" font-size="11.6" font-weight="bold" fill="#000" stroke="#000" stroke-width="0.14" >D</text>
<text x="341.4" y="54.8" font-size="7" fill="#111" stroke="#111" stroke-width="0.06" textLength="35.1" lengthAdjust="spacingAndGlyphs">Rab7A S<tspan font-size="4.6" dy="1.3">72</tspan></text>
<line x1="337.7" y1="61.8" x2="337.7" y2="116.9" stroke="#111" stroke-width="0.8" />
<line x1="337.3" y1="116.5" x2="380.2" y2="116.5" stroke="#111" stroke-width="0.8" />
<line x1="358.4" y1="116.5" x2="358.4" y2="118.4" stroke="#111" stroke-width="0.7" />
<line x1="335.4" y1="68.3" x2="337.7" y2="68.3" stroke="#111" stroke-width="0.7" />
<text x="334.4" y="70.2" font-size="5.4" text-anchor="end" textLength="8.1" lengthAdjust="spacingAndGlyphs" fill="#1a1a1a" stroke="#1a1a1a" stroke-width="0.14" >150</text>
<line x1="335.4" y1="84.4" x2="337.7" y2="84.4" stroke="#111" stroke-width="0.7" />
<text x="334.4" y="86.30000000000001" font-size="5.4" text-anchor="end" textLength="8.1" lengthAdjust="spacingAndGlyphs" fill="#1a1a1a" stroke="#1a1a1a" stroke-width="0.14" >100</text>
<line x1="335.4" y1="100.4" x2="337.7" y2="100.4" stroke="#111" stroke-width="0.7" />
<text x="334.4" y="102.30000000000001" font-size="5.4" text-anchor="end" textLength="5.4" lengthAdjust="spacingAndGlyphs" fill="#1a1a1a" stroke="#1a1a1a" stroke-width="0.14" >50</text>
<line x1="335.4" y1="116.5" x2="337.7" y2="116.5" stroke="#111" stroke-width="0.7" />
<text x="334.4" y="118.4" font-size="5.4" text-anchor="end" textLength="2.7" lengthAdjust="spacingAndGlyphs" fill="#1a1a1a" stroke="#1a1a1a" stroke-width="0.14" >0</text>
<text transform="translate(318.2 90.2) rotate(-90)" font-size="6.1" text-anchor="middle" fill="#1a1a1a" stroke="#1a1a1a" stroke-width="0.12" textLength="73.5" lengthAdjust="spacingAndGlyphs">Reporter ion intensity (x10<tspan font-size="3.8" dy="-2">4</tspan><tspan dy="2">)</tspan></text>
<text x="322.4" y="126.9" font-size="5.2" textLength="19.4" lengthAdjust="spacingAndGlyphs" fill="#1a1a1a" stroke="#1a1a1a" stroke-width="0.14" >CRP-XL:</text>
<text x="349.8" y="126.6" font-size="5.2" text-anchor="middle" fill="#1a1a1a" stroke="#1a1a1a" stroke-width="0.14" >-</text>
<text x="368.2" y="126.8" font-size="5.2" text-anchor="middle" fill="#1a1a1a" stroke="#1a1a1a" stroke-width="0.14" >+</text>
<rect x="343.80" y="104.30" width="12.40" height="5.00" fill="#f6efb4" />
<line x1="349.9" y1="102.6" x2="349.9" y2="110.8" stroke="#111" stroke-width="0.7" />
<line x1="347.5" y1="102.6" x2="352.5" y2="102.6" stroke="#111" stroke-width="0.8" />
<line x1="347.5" y1="110.8" x2="352.5" y2="110.8" stroke="#111" stroke-width="0.8" />
<line x1="343.8" y1="106.5" x2="356.2" y2="106.5" stroke="#111" stroke-width="1.0" />
<circle cx="349.90" cy="102.90" r="0.85" fill="#111" />
<circle cx="349.90" cy="106.20" r="0.85" fill="#111" />
<circle cx="349.90" cy="110.50" r="0.85" fill="#111" />
<rect x="362.10" y="77.50" width="12.30" height="14.80" fill="#6fb5c6" />
<line x1="368.2" y1="70.1" x2="368.2" y2="77.5" stroke="#111" stroke-width="0.7" />
<line x1="368.2" y1="92.3" x2="368.2" y2="94.6" stroke="#111" stroke-width="0.7" />
<line x1="365.2" y1="70.1" x2="371.4" y2="70.1" stroke="#111" stroke-width="0.8" />
<line x1="365.6" y1="94.6" x2="370.8" y2="94.6" stroke="#111" stroke-width="0.8" />
<line x1="362.1" y1="89.8" x2="374.4" y2="89.8" stroke="#111" stroke-width="1.0" />
<circle cx="368.20" cy="70.30" r="0.85" fill="#111" />
<circle cx="368.40" cy="83.80" r="0.9" fill="#111" />
<circle cx="370.30" cy="91.00" r="0.9" fill="#111" />
<circle cx="368.20" cy="94.30" r="0.85" fill="#111" />
<text x="387.4" y="17" font-size="11.6" font-weight="bold" fill="#000" stroke="#000" stroke-width="0.14" >E</text>
<rect x="411.4" y="63.0" width="77.4" height="47.4" fill="url(#g1)"/>
<g clip-path="url(#c1)">
<rect x="409" y="95" width="82" height="11" fill="#8a8a8a" opacity="0.5" filter="url(#bh)"/>
<rect x="462" y="62" width="30" height="22" fill="#cfcfcf" opacity="0.6" filter="url(#bh)"/>
<ellipse cx="419.3" cy="102.1" rx="7.5" ry="3.6" fill="#050505" transform="rotate(0 419.3 102.1)" filter="url(#bb)"/>
<ellipse cx="431.4" cy="101.8" rx="5.9" ry="2.9" fill="#050505" transform="rotate(-3 431.4 101.8)" filter="url(#bb)"/>
<ellipse cx="443.3" cy="100.7" rx="5.9" ry="2.2" fill="#050505" transform="rotate(-5 443.3 100.7)" filter="url(#bb)"/>
<ellipse cx="456.1" cy="100.4" rx="6.3" ry="2.8" fill="#050505" transform="rotate(0 456.1 100.4)" filter="url(#bb)"/>
<ellipse cx="469.0" cy="100.0" rx="7.0" ry="4.0" fill="#050505" transform="rotate(0 469.0 100.0)" filter="url(#bb)"/>
<ellipse cx="481.2" cy="102.6" rx="7.3" ry="4.3" fill="#050505" transform="rotate(0 481.2 102.6)" filter="url(#bb)"/>
<rect x="411" y="99.6" width="76" height="3.4" fill="#0a0a0a" opacity="0.8" filter="url(#bb)"/>
<ellipse cx="431.9" cy="73.8" rx="5.1" ry="1.05" fill="#3c3c3c" opacity="0.9" filter="url(#bu)"/>
<ellipse cx="444.3" cy="74.4" rx="3.2" ry="0.9" fill="#8a8a8a" opacity="0.6" filter="url(#bu)"/>
<ellipse cx="456.4" cy="73.6" rx="4.7" ry="0.95" fill="#5a5a5a" opacity="0.8" filter="url(#bu)"/>
<ellipse cx="468.6" cy="73.0" rx="5.1" ry="1.2" fill="#383838" opacity="0.92" filter="url(#bu)"/>
<ellipse cx="483.3" cy="75" rx="2.25" ry="0.8" fill="#999" opacity="0.45" filter="url(#bu)"/>
</g>
<rect x="411.4" y="63.0" width="77.4" height="47.4" fill="none" stroke="#666" stroke-width="0.6"/>
<rect x="411.4" y="112.2" width="77.4" height="13.9" fill="#c1c1c1"/>
<g clip-path="url(#c2)">
<ellipse cx="417.2" cy="119.6" rx="4.5" ry="1.3" fill="#0c0c0c" opacity="1" transform="rotate(4 417.2 119.6)" filter="url(#bs)"/>
<ellipse cx="429.3" cy="119.1" rx="4.4" ry="1.25" fill="#0c0c0c" opacity="1" transform="rotate(-6 429.3 119.1)" filter="url(#bs)"/>
<ellipse cx="443.2" cy="118.7" rx="5.1" ry="1.4" fill="#0c0c0c" opacity="1" transform="rotate(3 443.2 118.7)" filter="url(#bs)"/>
<ellipse cx="456.3" cy="119.0" rx="5.1" ry="1.8" fill="#0c0c0c" opacity="1" transform="rotate(0 456.3 119.0)" filter="url(#bs)"/>
<ellipse cx="468.9" cy="118.8" rx="3.8" ry="1.05" fill="#0c0c0c" opacity="0.85" transform="rotate(3 468.9 118.8)" filter="url(#bs)"/>
<ellipse cx="482.7" cy="119.3" rx="5.1" ry="1.35" fill="#0c0c0c" opacity="1" transform="rotate(3 482.7 119.3)" filter="url(#bs)"/>
</g>
<rect x="411.4" y="112.2" width="77.4" height="13.9" fill="none" stroke="#666" stroke-width="0.6"/>
<text x="387.8" y="58.6" font-size="5.3" textLength="19.6" lengthAdjust="spacingAndGlyphs" fill="#1a1a1a" stroke="#1a1a1a" stroke-width="0.14" >CRP-XL:</text>
<text x="415.7" y="58.4" font-size="5.0" text-anchor="middle" fill="#1a1a1a" stroke="#1a1a1a" stroke-width="0.14" >-</text>
<text x="429.2" y="58.4" font-size="5.0" text-anchor="middle" fill="#1a1a1a" stroke="#1a1a1a" stroke-width="0.14" >+</text>
<text x="443.4" y="58.4" font-size="5.0" text-anchor="middle" fill="#1a1a1a" stroke="#1a1a1a" stroke-width="0.14" >+</text>
<text x="456.2" y="58.4" font-size="5.0" text-anchor="middle" fill="#1a1a1a" stroke="#1a1a1a" stroke-width="0.14" >+</text>
<text x="469.4" y="58.4" font-size="5.0" text-anchor="middle" fill="#1a1a1a" stroke="#1a1a1a" stroke-width="0.14" >+</text>
<text x="482.5" y="58.4" font-size="5.0" text-anchor="middle" fill="#1a1a1a" stroke="#1a1a1a" stroke-width="0.14" >+</text>
<text transform="translate(414.6 52.0) rotate(-45)" font-size="5.2" fill="#1a1a1a" stroke="#1a1a1a" stroke-width="0.12">veh.</text>
<text transform="translate(428.2 52.0) rotate(-45)" font-size="5.2" fill="#1a1a1a" stroke="#1a1a1a" stroke-width="0.12">veh.</text>
<text transform="translate(442.2 52.0) rotate(-45)" font-size="5.2" fill="#1a1a1a" stroke="#1a1a1a" stroke-width="0.12">Ro</text>
<text transform="translate(454.8 52.4) rotate(-45)" font-size="5.2" fill="#1a1a1a" stroke="#1a1a1a" stroke-width="0.12">H89</text>
<text transform="translate(467.6 52.4) rotate(-45)" font-size="5.2" fill="#1a1a1a" stroke="#1a1a1a" stroke-width="0.12">MLi-2</text>
<text transform="translate(480.8 52.4) rotate(-45)" font-size="5.2" fill="#1a1a1a" stroke="#1a1a1a" stroke-width="0.12">(5Z)-7</text>
<text x="397" y="88.0" font-size="5.3" text-anchor="middle" textLength="20.4" lengthAdjust="spacingAndGlyphs" fill="#1a1a1a" stroke="#1a1a1a" stroke-width="0.14" >Phos-tag</text>
<text x="397" y="95.4" font-size="5.3" text-anchor="middle" textLength="13.8" lengthAdjust="spacingAndGlyphs" fill="#1a1a1a" stroke="#1a1a1a" stroke-width="0.14" >PAGE</text>
<text x="401" y="117.6" font-size="5.3" text-anchor="middle" textLength="10" lengthAdjust="spacingAndGlyphs" fill="#1a1a1a" stroke="#1a1a1a" stroke-width="0.14" >SDS</text>
<text x="401" y="124.3" font-size="5.3" text-anchor="middle" textLength="13.8" lengthAdjust="spacingAndGlyphs" fill="#1a1a1a" stroke="#1a1a1a" stroke-width="0.14" >PAGE</text>
<circle cx="494.40" cy="72.50" r="2.6" fill="#fff" stroke="#333" stroke-width="0.45"/>
<circle cx="494.40" cy="103.00" r="2.8" fill="#000" />
<text x="504.5" y="85.2" font-size="5.0" text-anchor="middle" font-weight="bold" textLength="9.4" lengthAdjust="spacingAndGlyphs" fill="#1a1a1a" stroke="#1a1a1a" stroke-width="0.14" >WB:</text>
<line x1="499.8" y1="86.1" x2="507.6" y2="86.1" stroke="#222" stroke-width="0.4" />
<text x="504.8" y="92.5" font-size="5.3" text-anchor="middle" textLength="15.4" lengthAdjust="spacingAndGlyphs" fill="#1a1a1a" stroke="#1a1a1a" stroke-width="0.14" >Rab7A</text>
<text x="281.2" y="205.4" font-size="11.6" font-weight="bold" fill="#000" stroke="#000" stroke-width="0.14" >F</text>
<text x="303.1" y="212.3" font-size="5.4" textLength="24.2" lengthAdjust="spacingAndGlyphs" fill="#1a1a1a" stroke="#1a1a1a" stroke-width="0.14" >wide field</text>
<text x="348.5" y="212.3" font-size="5.4" textLength="12.7" lengthAdjust="spacingAndGlyphs" fill="#1a1a1a" stroke="#1a1a1a" stroke-width="0.14" >Rab7</text>
<text x="388.0" y="212.3" font-size="5.4" textLength="12.6" lengthAdjust="spacingAndGlyphs" fill="#1a1a1a" stroke="#1a1a1a" stroke-width="0.14" >actin</text>
<text x="427.0" y="212.3" font-size="5.4" textLength="13.6" lengthAdjust="spacingAndGlyphs" fill="#1a1a1a" stroke="#1a1a1a" stroke-width="0.14" >CD63</text>
<text transform="translate(291.6 235.8) rotate(-90)" font-size="5.4" text-anchor="middle" textLength="17.5" lengthAdjust="spacingAndGlyphs" fill="#1a1a1a" stroke="#1a1a1a" stroke-width="0.14">resting</text>
<text transform="translate(292.2 275.2) rotate(-90)" font-size="5.4" text-anchor="middle" textLength="22" lengthAdjust="spacingAndGlyphs" fill="#1a1a1a" stroke="#1a1a1a" stroke-width="0.14">+CRP-XL</text>
<text transform="translate(284.9 313.2) rotate(-90)" font-size="5.4" text-anchor="middle" textLength="25" lengthAdjust="spacingAndGlyphs" fill="#1a1a1a" stroke="#1a1a1a" stroke-width="0.14">Ro 31-8220</text>
<text transform="translate(291.6 313.2) rotate(-90)" font-size="5.4" text-anchor="middle" textLength="24.5" lengthAdjust="spacingAndGlyphs" fill="#1a1a1a" stroke="#1a1a1a" stroke-width="0.14">(+CRP-XL)</text>
<text transform="translate(284.9 353.6) rotate(-90)" font-size="5.4" text-anchor="middle" textLength="10" lengthAdjust="spacingAndGlyphs" fill="#1a1a1a" stroke="#1a1a1a" stroke-width="0.14">H89</text>
<text transform="translate(291.6 353.6) rotate(-90)" font-size="5.4" text-anchor="middle" textLength="24.5" lengthAdjust="spacingAndGlyphs" fill="#1a1a1a" stroke="#1a1a1a" stroke-width="0.14">(+CRP-XL)</text>
<text transform="translate(284.9 392.8) rotate(-90)" font-size="5.4" text-anchor="middle" textLength="13.5" lengthAdjust="spacingAndGlyphs" fill="#1a1a1a" stroke="#1a1a1a" stroke-width="0.14">MLi-2</text>
<text transform="translate(291.6 392.8) rotate(-90)" font-size="5.4" text-anchor="middle" textLength="24.5" lengthAdjust="spacingAndGlyphs" fill="#1a1a1a" stroke="#1a1a1a" stroke-width="0.14">(+CRP-XL)</text>
<text transform="translate(284.9 432.2) rotate(-90)" font-size="5.4" text-anchor="middle" textLength="26" lengthAdjust="spacingAndGlyphs" fill="#1a1a1a" stroke="#1a1a1a" stroke-width="0.14">(5Z)-7-Oxo</text>
<text transform="translate(291.6 432.2) rotate(-90)" font-size="5.4" text-anchor="middle" textLength="24.5" lengthAdjust="spacingAndGlyphs" fill="#1a1a1a" stroke="#1a1a1a" stroke-width="0.14">(+CRP-XL)</text>
<g>
<rect x="296.50" y="217.00" width="37.40" height="37.40" fill="#020202" />
<rect x="335.40" y="217.00" width="38.00" height="37.40" fill="#020202" />
<rect x="375.10" y="217.00" width="37.60" height="37.40" fill="#020202" />
<rect x="414.80" y="217.00" width="37.50" height="37.40" fill="#020202" />
<rect x="454.30" y="217.00" width="37.70" height="37.40" fill="#020202" />
<rect x="296.50" y="256.00" width="37.40" height="38.00" fill="#020202" />
<rect x="335.40" y="256.00" width="38.00" height="38.00" fill="#020202" />
<rect x="375.10" y="256.00" width="37.60" height="38.00" fill="#020202" />
<rect x="414.80" y="256.00" width="37.50" height="38.00" fill="#020202" />
<rect x="454.30" y="256.00" width="37.70" height="38.00" fill="#020202" />
<rect x="296.50" y="295.60" width="37.40" height="38.10" fill="#020202" />
<rect x="335.40" y="295.60" width="38.00" height="38.10" fill="#020202" />
<rect x="375.10" y="295.60" width="37.60" height="38.10" fill="#020202" />
<rect x="414.80" y="295.60" width="37.50" height="38.10" fill="#020202" />
<rect x="454.30" y="295.60" width="37.70" height="38.10" fill="#020202" />
<rect x="296.50" y="335.10" width="37.40" height="37.10" fill="#020202" />
<rect x="335.40" y="335.10" width="38.00" height="37.10" fill="#020202" />
<rect x="375.10" y="335.10" width="37.60" height="37.10" fill="#020202" />
<rect x="414.80" y="335.10" width="37.50" height="37.10" fill="#020202" />
<rect x="454.30" y="335.10" width="37.70" height="37.10" fill="#020202" />
<rect x="296.50" y="374.10" width="37.40" height="37.30" fill="#020202" />
<rect x="335.40" y="374.10" width="38.00" height="37.30" fill="#020202" />
<rect x="375.10" y="374.10" width="37.60" height="37.30" fill="#020202" />
<rect x="414.80" y="374.10" width="37.50" height="37.30" fill="#020202" />
<rect x="454.30" y="374.10" width="37.70" height="37.30" fill="#020202" />
<rect x="296.50" y="413.40" width="37.40" height="37.70" fill="#020202" />
<rect x="335.40" y="413.40" width="38.00" height="37.70" fill="#020202" />
<rect x="375.10" y="413.40" width="37.60" height="37.70" fill="#020202" />
<rect x="414.80" y="413.40" width="37.50" height="37.70" fill="#020202" />
<rect x="454.30" y="413.40" width="37.70" height="37.70" fill="#020202" />
<g fill="#fff"><rect x="305.3" y="237.1" width="0.5" height="0.5" opacity="0.19"/><rect x="318.8" y="240.1" width="0.5" height="0.5" opacity="0.12"/><rect x="297.0" y="247.9" width="0.5" height="0.5" opacity="0.16"/><rect x="305.1" y="253.7" width="0.5" height="0.5" opacity="0.22"/><rect x="327.4" y="234.6" width="0.5" height="0.5" opacity="0.26"/><rect x="302.1" y="240.4" width="0.5" height="0.5" opacity="0.32"/><rect x="315.8" y="244.4" width="0.5" height="0.5" opacity="0.27"/><rect x="298.9" y="245.0" width="0.5" height="0.5" opacity="0.25"/><rect x="307.6" y="218.1" width="0.5" height="0.5" opacity="0.32"/><rect x="313.9" y="243.5" width="0.5" height="0.5" opacity="0.32"/><rect x="322.9" y="251.0" width="0.5" height="0.5" opacity="0.20"/><rect x="326.1" y="233.4" width="0.5" height="0.5" opacity="0.33"/><rect x="328.9" y="220.6" width="0.5" height="0.5" opacity="0.13"/><rect x="304.5" y="252.6" width="0.5" height="0.5" opacity="0.21"/><rect x="358.9" y="228.1" width="0.5" height="0.5" opacity="0.23"/><rect x="349.9" y="229.9" width="0.5" height="0.5" opacity="0.25"/><rect x="357.3" y="250.4" width="0.5" height="0.5" opacity="0.27"/><rect x="370.2" y="248.6" width="0.5" height="0.5" opacity="0.35"/><rect x="360.6" y="223.0" width="0.5" height="0.5" opacity="0.32"/><rect x="371.6" y="250.4" width="0.5" height="0.5" opacity="0.24"/><rect x="362.2" y="224.8" width="0.5" height="0.5" opacity="0.31"/><rect x="356.9" y="227.5" width="0.5" height="0.5" opacity="0.12"/><rect x="367.4" y="253.5" width="0.5" height="0.5" opacity="0.12"/><rect x="365.4" y="232.1" width="0.5" height="0.5" opacity="0.14"/><rect x="346.4" y="245.4" width="0.5" height="0.5" opacity="0.32"/><rect x="337.1" y="239.7" width="0.5" height="0.5" opacity="0.11"/><rect x="362.3" y="229.2" width="0.5" height="0.5" opacity="0.32"/><rect x="372.2" y="235.7" width="0.5" height="0.5" opacity="0.35"/><rect x="386.6" y="219.8" width="0.5" height="0.5" opacity="0.25"/><rect x="376.3" y="224.3" width="0.5" height="0.5" opacity="0.20"/><rect x="397.7" y="222.8" width="0.5" height="0.5" opacity="0.11"/><rect x="407.3" y="228.6" width="0.5" height="0.5" opacity="0.34"/><rect x="408.4" y="230.9" width="0.5" height="0.5" opacity="0.22"/><rect x="394.4" y="240.8" width="0.5" height="0.5" opacity="0.25"/><rect x="395.8" y="239.9" width="0.5" height="0.5" opacity="0.34"/><rect x="393.9" y="232.9" width="0.5" height="0.5" opacity="0.28"/><rect x="383.9" y="228.1" width="0.5" height="0.5" opacity="0.34"/><rect x="394.4" y="237.2" width="0.5" height="0.5" opacity="0.10"/><rect x="390.5" y="238.4" width="0.5" height="0.5" opacity="0.11"/><rect x="397.9" y="240.3" width="0.5" height="0.5" opacity="0.12"/><rect x="398.4" y="234.2" width="0.5" height="0.5" opacity="0.27"/><rect x="388.2" y="243.1" width="0.5" height="0.5" opacity="0.28"/><rect x="415.6" y="219.2" width="0.5" height="0.5" opacity="0.27"/><rect x="450.4" y="226.3" width="0.5" height="0.5" opacity="0.21"/><rect x="436.7" y="228.8" width="0.5" height="0.5" opacity="0.19"/><rect x="426.4" y="230.6" width="0.5" height="0.5" opacity="0.25"/><rect x="425.9" y="230.9" width="0.5" height="0.5" opacity="0.29"/><rect x="415.8" y="238.0" width="0.5" height="0.5" opacity="0.28"/><rect x="426.3" y="225.2" width="0.5" height="0.5" opacity="0.30"/><rect x="423.6" y="223.9" width="0.5" height="0.5" opacity="0.21"/><rect x="440.6" y="220.8" width="0.5" height="0.5" opacity="0.18"/><rect x="427.1" y="247.8" width="0.5" height="0.5" opacity="0.21"/><rect x="446.5" y="223.2" width="0.5" height="0.5" opacity="0.18"/><rect x="438.9" y="249.7" width="0.5" height="0.5" opacity="0.21"/><rect x="423.1" y="221.5" width="0.5" height="0.5" opacity="0.23"/><rect x="421.9" y="246.8" width="0.5" height="0.5" opacity="0.31"/><rect x="461.1" y="227.3" width="0.5" height="0.5" opacity="0.30"/><rect x="478.2" y="246.8" width="0.5" height="0.5" opacity="0.19"/><rect x="459.1" y="227.8" width="0.5" height="0.5" opacity="0.30"/><rect x="464.4" y="229.8" width="0.5" height="0.5" opacity="0.20"/><rect x="469.9" y="232.1" width="0.5" height="0.5" opacity="0.33"/><rect x="460.1" y="217.2" width="0.5" height="0.5" opacity="0.34"/><rect x="487.0" y="253.4" width="0.5" height="0.5" opacity="0.21"/><rect x="489.6" y="251.2" width="0.5" height="0.5" opacity="0.16"/><rect x="482.0" y="247.9" width="0.5" height="0.5" opacity="0.27"/><rect x="473.6" y="227.7" width="0.5" height="0.5" opacity="0.19"/><rect x="462.8" y="219.5" width="0.5" height="0.5" opacity="0.25"/><rect x="465.0" y="246.9" width="0.5" height="0.5" opacity="0.11"/><rect x="487.9" y="242.6" width="0.5" height="0.5" opacity="0.33"/><rect x="487.7" y="250.2" width="0.5" height="0.5" opacity="0.24"/><rect x="297.0" y="283.9" width="0.5" height="0.5" opacity="0.14"/><rect x="307.6" y="280.9" width="0.5" height="0.5" opacity="0.23"/><rect x="311.8" y="291.2" width="0.5" height="0.5" opacity="0.25"/><rect x="309.1" y="265.5" width="0.5" height="0.5" opacity="0.32"/><rect x="314.1" y="285.3" width="0.5" height="0.5" opacity="0.19"/><rect x="303.8" y="276.0" width="0.5" height="0.5" opacity="0.30"/><rect x="302.8" y="285.7" width="0.5" height="0.5" opacity="0.33"/><rect x="326.2" y="286.9" width="0.5" height="0.5" opacity="0.10"/><rect x="319.7" y="288.3" width="0.5" height="0.5" opacity="0.11"/><rect x="306.5" y="266.1" width="0.5" height="0.5" opacity="0.23"/><rect x="312.1" y="273.7" width="0.5" height="0.5" opacity="0.29"/><rect x="296.6" y="258.1" width="0.5" height="0.5" opacity="0.13"/><rect x="301.1" y="258.6" width="0.5" height="0.5" opacity="0.34"/><rect x="328.0" y="259.2" width="0.5" height="0.5" opacity="0.23"/><rect x="347.2" y="267.8" width="0.5" height="0.5" opacity="0.19"/><rect x="359.7" y="278.0" width="0.5" height="0.5" opacity="0.19"/><rect x="342.6" y="268.3" width="0.5" height="0.5" opacity="0.13"/><rect x="356.2" y="282.9" width="0.5" height="0.5" opacity="0.20"/><rect x="338.4" y="262.7" width="0.5" height="0.5" opacity="0.19"/><rect x="358.1" y="285.3" width="0.5" height="0.5" opacity="0.20"/><rect x="365.4" y="279.4" width="0.5" height="0.5" opacity="0.21"/><rect x="349.4" y="274.6" width="0.5" height="0.5" opacity="0.28"/><rect x="351.2" y="282.0" width="0.5" height="0.5" opacity="0.22"/><rect x="344.6" y="276.1" width="0.5" height="0.5" opacity="0.27"/><rect x="338.1" y="271.9" width="0.5" height="0.5" opacity="0.21"/><rect x="368.4" y="291.1" width="0.5" height="0.5" opacity="0.19"/><rect x="369.1" y="285.7" width="0.5" height="0.5" opacity="0.17"/><rect x="352.8" y="260.6" width="0.5" height="0.5" opacity="0.30"/><rect x="399.7" y="289.3" width="0.5" height="0.5" opacity="0.30"/><rect x="399.9" y="283.5" width="0.5" height="0.5" opacity="0.24"/><rect x="378.9" y="278.0" width="0.5" height="0.5" opacity="0.10"/><rect x="380.4" y="285.0" width="0.5" height="0.5" opacity="0.11"/><rect x="378.5" y="259.7" width="0.5" height="0.5" opacity="0.32"/><rect x="381.7" y="256.9" width="0.5" height="0.5" opacity="0.31"/><rect x="379.6" y="287.6" width="0.5" height="0.5" opacity="0.27"/><rect x="406.1" y="291.7" width="0.5" height="0.5" opacity="0.24"/><rect x="404.7" y="257.4" width="0.5" height="0.5" opacity="0.29"/><rect x="394.1" y="282.8" width="0.5" height="0.5" opacity="0.13"/><rect x="402.9" y="291.0" width="0.5" height="0.5" opacity="0.12"/><rect x="387.1" y="277.1" width="0.5" height="0.5" opacity="0.31"/><rect x="384.1" y="262.7" width="0.5" height="0.5" opacity="0.16"/><rect x="398.0" y="284.3" width="0.5" height="0.5" opacity="0.20"/><rect x="428.4" y="270.9" width="0.5" height="0.5" opacity="0.19"/><rect x="430.3" y="259.1" width="0.5" height="0.5" opacity="0.23"/><rect x="450.8" y="271.5" width="0.5" height="0.5" opacity="0.29"/><rect x="420.7" y="281.9" width="0.5" height="0.5" opacity="0.29"/><rect x="439.7" y="275.4" width="0.5" height="0.5" opacity="0.22"/><rect x="438.6" y="289.7" width="0.5" height="0.5" opacity="0.14"/><rect x="418.3" y="284.1" width="0.5" height="0.5" opacity="0.33"/><rect x="433.9" y="272.6" width="0.5" height="0.5" opacity="0.28"/><rect x="421.7" y="266.0" width="0.5" height="0.5" opacity="0.15"/><rect x="436.5" y="267.8" width="0.5" height="0.5" opacity="0.16"/><rect x="440.4" y="291.8" width="0.5" height="0.5" opacity="0.17"/><rect x="440.9" y="271.5" width="0.5" height="0.5" opacity="0.31"/><rect x="436.4" y="266.0" width="0.5" height="0.5" opacity="0.15"/><rect x="415.7" y="274.0" width="0.5" height="0.5" opacity="0.20"/><rect x="460.7" y="269.5" width="0.5" height="0.5" opacity="0.18"/><rect x="483.1" y="261.4" width="0.5" height="0.5" opacity="0.35"/><rect x="472.1" y="278.5" width="0.5" height="0.5" opacity="0.22"/><rect x="485.3" y="286.8" width="0.5" height="0.5" opacity="0.24"/><rect x="472.2" y="283.0" width="0.5" height="0.5" opacity="0.31"/><rect x="469.2" y="283.5" width="0.5" height="0.5" opacity="0.34"/><rect x="471.7" y="264.6" width="0.5" height="0.5" opacity="0.16"/><rect x="481.0" y="281.3" width="0.5" height="0.5" opacity="0.34"/><rect x="486.1" y="265.1" width="0.5" height="0.5" opacity="0.15"/><rect x="463.9" y="263.0" width="0.5" height="0.5" opacity="0.28"/><rect x="486.2" y="289.7" width="0.5" height="0.5" opacity="0.16"/><rect x="486.5" y="267.8" width="0.5" height="0.5" opacity="0.21"/><rect x="481.4" y="259.2" width="0.5" height="0.5" opacity="0.12"/><rect x="485.3" y="266.9" width="0.5" height="0.5" opacity="0.19"/><rect x="317.9" y="321.0" width="0.5" height="0.5" opacity="0.10"/><rect x="308.9" y="312.0" width="0.5" height="0.5" opacity="0.22"/><rect x="304.3" y="317.6" width="0.5" height="0.5" opacity="0.34"/><rect x="310.9" y="316.1" width="0.5" height="0.5" opacity="0.13"/><rect x="306.6" y="320.6" width="0.5" height="0.5" opacity="0.13"/><rect x="329.2" y="329.8" width="0.5" height="0.5" opacity="0.12"/><rect x="331.2" y="309.7" width="0.5" height="0.5" opacity="0.29"/><rect x="324.4" y="306.7" width="0.5" height="0.5" opacity="0.27"/><rect x="320.6" y="325.9" width="0.5" height="0.5" opacity="0.17"/><rect x="324.3" y="331.7" width="0.5" height="0.5" opacity="0.27"/><rect x="316.3" y="299.9" width="0.5" height="0.5" opacity="0.22"/><rect x="309.5" y="322.6" width="0.5" height="0.5" opacity="0.27"/><rect x="317.4" y="302.4" width="0.5" height="0.5" opacity="0.26"/><rect x="319.8" y="302.3" width="0.5" height="0.5" opacity="0.32"/><rect x="360.0" y="300.2" width="0.5" height="0.5" opacity="0.33"/><rect x="340.7" y="308.1" width="0.5" height="0.5" opacity="0.28"/><rect x="357.8" y="316.5" width="0.5" height="0.5" opacity="0.26"/><rect x="352.6" y="307.3" width="0.5" height="0.5" opacity="0.14"/><rect x="338.0" y="322.5" width="0.5" height="0.5" opacity="0.29"/><rect x="355.8" y="323.4" width="0.5" height="0.5" opacity="0.19"/><rect x="345.4" y="310.0" width="0.5" height="0.5" opacity="0.32"/><rect x="337.0" y="314.6" width="0.5" height="0.5" opacity="0.16"/><rect x="364.2" y="308.9" width="0.5" height="0.5" opacity="0.18"/><rect x="350.5" y="316.0" width="0.5" height="0.5" opacity="0.29"/><rect x="348.6" y="327.4" width="0.5" height="0.5" opacity="0.13"/><rect x="345.5" y="299.3" width="0.5" height="0.5" opacity="0.13"/><rect x="364.6" y="322.9" width="0.5" height="0.5" opacity="0.15"/><rect x="342.5" y="311.3" width="0.5" height="0.5" opacity="0.29"/><rect x="405.4" y="323.8" width="0.5" height="0.5" opacity="0.25"/><rect x="380.5" y="310.6" width="0.5" height="0.5" opacity="0.15"/><rect x="394.7" y="317.0" width="0.5" height="0.5" opacity="0.15"/><rect x="384.4" y="325.0" width="0.5" height="0.5" opacity="0.11"/><rect x="404.9" y="329.1" width="0.5" height="0.5" opacity="0.34"/><rect x="389.3" y="316.4" width="0.5" height="0.5" opacity="0.25"/><rect x="398.6" y="332.3" width="0.5" height="0.5" opacity="0.27"/><rect x="386.2" y="327.9" width="0.5" height="0.5" opacity="0.22"/><rect x="397.4" y="322.9" width="0.5" height="0.5" opacity="0.10"/><rect x="403.7" y="320.5" width="0.5" height="0.5" opacity="0.22"/><rect x="394.5" y="312.9" width="0.5" height="0.5" opacity="0.15"/><rect x="394.7" y="297.0" width="0.5" height="0.5" opacity="0.23"/><rect x="399.1" y="312.3" width="0.5" height="0.5" opacity="0.24"/><rect x="410.7" y="329.1" width="0.5" height="0.5" opacity="0.13"/><rect x="444.1" y="319.0" width="0.5" height="0.5" opacity="0.11"/><rect x="428.1" y="304.4" width="0.5" height="0.5" opacity="0.12"/><rect x="434.7" y="330.6" width="0.5" height="0.5" opacity="0.18"/><rect x="447.0" y="321.7" width="0.5" height="0.5" opacity="0.13"/><rect x="446.6" y="318.2" width="0.5" height="0.5" opacity="0.33"/><rect x="441.3" y="323.4" width="0.5" height="0.5" opacity="0.19"/><rect x="444.6" y="330.6" width="0.5" height="0.5" opacity="0.32"/><rect x="431.0" y="324.1" width="0.5" height="0.5" opacity="0.22"/><rect x="418.8" y="297.2" width="0.5" height="0.5" opacity="0.12"/><rect x="422.2" y="301.6" width="0.5" height="0.5" opacity="0.22"/><rect x="440.7" y="315.8" width="0.5" height="0.5" opacity="0.21"/><rect x="438.8" y="307.1" width="0.5" height="0.5" opacity="0.22"/><rect x="442.8" y="310.7" width="0.5" height="0.5" opacity="0.15"/><rect x="448.1" y="322.7" width="0.5" height="0.5" opacity="0.19"/><rect x="468.1" y="315.5" width="0.5" height="0.5" opacity="0.25"/><rect x="462.6" y="295.7" width="0.5" height="0.5" opacity="0.15"/><rect x="483.4" y="301.0" width="0.5" height="0.5" opacity="0.21"/><rect x="461.6" y="303.5" width="0.5" height="0.5" opacity="0.14"/><rect x="469.3" y="301.9" width="0.5" height="0.5" opacity="0.11"/><rect x="458.4" y="301.9" width="0.5" height="0.5" opacity="0.22"/><rect x="456.5" y="296.4" width="0.5" height="0.5" opacity="0.21"/><rect x="469.5" y="322.0" width="0.5" height="0.5" opacity="0.11"/><rect x="469.3" y="310.5" width="0.5" height="0.5" opacity="0.11"/><rect x="490.2" y="303.8" width="0.5" height="0.5" opacity="0.12"/><rect x="472.0" y="301.8" width="0.5" height="0.5" opacity="0.26"/><rect x="467.2" y="300.3" width="0.5" height="0.5" opacity="0.11"/><rect x="481.4" y="305.9" width="0.5" height="0.5" opacity="0.30"/><rect x="471.6" y="330.7" width="0.5" height="0.5" opacity="0.18"/><rect x="305.7" y="344.8" width="0.5" height="0.5" opacity="0.30"/><rect x="319.7" y="347.7" width="0.5" height="0.5" opacity="0.12"/><rect x="321.7" y="370.6" width="0.5" height="0.5" opacity="0.25"/><rect x="296.6" y="336.2" width="0.5" height="0.5" opacity="0.12"/><rect x="302.8" y="336.4" width="0.5" height="0.5" opacity="0.11"/><rect x="320.6" y="368.1" width="0.5" height="0.5" opacity="0.15"/><rect x="332.4" y="352.6" width="0.5" height="0.5" opacity="0.30"/><rect x="330.4" y="369.5" width="0.5" height="0.5" opacity="0.11"/><rect x="307.7" y="357.3" width="0.5" height="0.5" opacity="0.34"/><rect x="299.7" y="345.8" width="0.5" height="0.5" opacity="0.31"/><rect x="300.7" y="349.4" width="0.5" height="0.5" opacity="0.18"/><rect x="321.6" y="369.1" width="0.5" height="0.5" opacity="0.14"/><rect x="323.8" y="362.0" width="0.5" height="0.5" opacity="0.31"/><rect x="316.9" y="368.9" width="0.5" height="0.5" opacity="0.19"/><rect x="351.0" y="343.5" width="0.5" height="0.5" opacity="0.29"/><rect x="353.4" y="345.0" width="0.5" height="0.5" opacity="0.14"/><rect x="362.4" y="357.3" width="0.5" height="0.5" opacity="0.28"/><rect x="349.9" y="352.9" width="0.5" height="0.5" opacity="0.14"/><rect x="362.1" y="335.9" width="0.5" height="0.5" opacity="0.22"/><rect x="363.8" y="359.9" width="0.5" height="0.5" opacity="0.12"/><rect x="344.3" y="366.0" width="0.5" height="0.5" opacity="0.26"/><rect x="368.3" y="367.0" width="0.5" height="0.5" opacity="0.21"/><rect x="369.0" y="361.9" width="0.5" height="0.5" opacity="0.18"/><rect x="349.3" y="337.7" width="0.5" height="0.5" opacity="0.20"/><rect x="371.2" y="338.9" width="0.5" height="0.5" opacity="0.24"/><rect x="339.5" y="338.1" width="0.5" height="0.5" opacity="0.26"/><rect x="344.4" y="336.9" width="0.5" height="0.5" opacity="0.14"/><rect x="359.6" y="356.5" width="0.5" height="0.5" opacity="0.10"/><rect x="383.6" y="370.5" width="0.5" height="0.5" opacity="0.16"/><rect x="396.0" y="350.5" width="0.5" height="0.5" opacity="0.30"/><rect x="397.5" y="364.0" width="0.5" height="0.5" opacity="0.23"/><rect x="382.1" y="341.6" width="0.5" height="0.5" opacity="0.12"/><rect x="405.7" y="339.2" width="0.5" height="0.5" opacity="0.11"/><rect x="411.0" y="342.4" width="0.5" height="0.5" opacity="0.32"/><rect x="378.3" y="352.1" width="0.5" height="0.5" opacity="0.16"/><rect x="405.9" y="357.6" width="0.5" height="0.5" opacity="0.26"/><rect x="403.3" y="367.0" width="0.5" height="0.5" opacity="0.19"/><rect x="397.5" y="351.4" width="0.5" height="0.5" opacity="0.13"/><rect x="406.1" y="356.9" width="0.5" height="0.5" opacity="0.30"/><rect x="382.7" y="354.8" width="0.5" height="0.5" opacity="0.22"/><rect x="402.1" y="337.9" width="0.5" height="0.5" opacity="0.19"/><rect x="393.1" y="337.7" width="0.5" height="0.5" opacity="0.24"/><rect x="442.0" y="350.6" width="0.5" height="0.5" opacity="0.26"/><rect x="437.2" y="342.9" width="0.5" height="0.5" opacity="0.19"/><rect x="451.6" y="347.4" width="0.5" height="0.5" opacity="0.21"/><rect x="417.9" y="343.1" width="0.5" height="0.5" opacity="0.14"/><rect x="449.2" y="361.7" width="0.5" height="0.5" opacity="0.32"/><rect x="451.3" y="357.5" width="0.5" height="0.5" opacity="0.33"/><rect x="434.6" y="350.4" width="0.5" height="0.5" opacity="0.34"/><rect x="448.2" y="369.9" width="0.5" height="0.5" opacity="0.22"/><rect x="443.4" y="350.0" width="0.5" height="0.5" opacity="0.35"/><rect x="448.9" y="345.8" width="0.5" height="0.5" opacity="0.33"/><rect x="421.6" y="338.6" width="0.5" height="0.5" opacity="0.28"/><rect x="425.7" y="354.1" width="0.5" height="0.5" opacity="0.26"/><rect x="416.3" y="362.4" width="0.5" height="0.5" opacity="0.17"/><rect x="430.8" y="347.7" width="0.5" height="0.5" opacity="0.29"/><rect x="482.1" y="345.6" width="0.5" height="0.5" opacity="0.13"/><rect x="465.4" y="350.1" width="0.5" height="0.5" opacity="0.12"/><rect x="460.0" y="363.0" width="0.5" height="0.5" opacity="0.28"/><rect x="490.6" y="371.0" width="0.5" height="0.5" opacity="0.32"/><rect x="468.2" y="341.0" width="0.5" height="0.5" opacity="0.18"/><rect x="471.5" y="354.3" width="0.5" height="0.5" opacity="0.24"/><rect x="467.7" y="366.3" width="0.5" height="0.5" opacity="0.17"/><rect x="471.5" y="367.6" width="0.5" height="0.5" opacity="0.30"/><rect x="465.4" y="344.0" width="0.5" height="0.5" opacity="0.30"/><rect x="454.7" y="339.9" width="0.5" height="0.5" opacity="0.23"/><rect x="474.2" y="341.2" width="0.5" height="0.5" opacity="0.11"/><rect x="461.9" y="363.3" width="0.5" height="0.5" opacity="0.22"/><rect x="490.7" y="363.9" width="0.5" height="0.5" opacity="0.34"/><rect x="455.6" y="341.9" width="0.5" height="0.5" opacity="0.10"/><rect x="312.5" y="386.5" width="0.5" height="0.5" opacity="0.11"/><rect x="316.6" y="377.6" width="0.5" height="0.5" opacity="0.18"/><rect x="305.6" y="403.6" width="0.5" height="0.5" opacity="0.20"/><rect x="306.1" y="375.7" width="0.5" height="0.5" opacity="0.21"/><rect x="319.7" y="398.9" width="0.5" height="0.5" opacity="0.33"/><rect x="326.3" y="383.2" width="0.5" height="0.5" opacity="0.13"/><rect x="324.5" y="403.2" width="0.5" height="0.5" opacity="0.23"/><rect x="327.2" y="394.4" width="0.5" height="0.5" opacity="0.17"/><rect x="302.7" y="374.7" width="0.5" height="0.5" opacity="0.26"/><rect x="329.6" y="407.4" width="0.5" height="0.5" opacity="0.22"/><rect x="321.1" y="408.3" width="0.5" height="0.5" opacity="0.30"/><rect x="318.7" y="389.4" width="0.5" height="0.5" opacity="0.23"/><rect x="302.8" y="380.8" width="0.5" height="0.5" opacity="0.27"/><rect x="333.1" y="394.2" width="0.5" height="0.5" opacity="0.20"/><rect x="348.6" y="390.8" width="0.5" height="0.5" opacity="0.30"/><rect x="352.4" y="409.4" width="0.5" height="0.5" opacity="0.14"/><rect x="347.2" y="393.3" width="0.5" height="0.5" opacity="0.20"/><rect x="367.3" y="404.6" width="0.5" height="0.5" opacity="0.33"/><rect x="358.4" y="375.2" width="0.5" height="0.5" opacity="0.24"/><rect x="356.0" y="392.0" width="0.5" height="0.5" opacity="0.17"/><rect x="362.0" y="407.6" width="0.5" height="0.5" opacity="0.13"/><rect x="360.5" y="387.8" width="0.5" height="0.5" opacity="0.23"/><rect x="369.0" y="409.4" width="0.5" height="0.5" opacity="0.26"/><rect x="342.7" y="408.0" width="0.5" height="0.5" opacity="0.15"/><rect x="349.8" y="404.6" width="0.5" height="0.5" opacity="0.18"/><rect x="345.6" y="409.1" width="0.5" height="0.5" opacity="0.34"/><rect x="347.3" y="388.5" width="0.5" height="0.5" opacity="0.17"/><rect x="340.3" y="383.3" width="0.5" height="0.5" opacity="0.35"/><rect x="378.0" y="382.6" width="0.5" height="0.5" opacity="0.15"/><rect x="378.1" y="393.5" width="0.5" height="0.5" opacity="0.29"/><rect x="406.2" y="397.3" width="0.5" height="0.5" opacity="0.30"/><rect x="375.3" y="384.5" width="0.5" height="0.5" opacity="0.34"/><rect x="377.7" y="383.9" width="0.5" height="0.5" opacity="0.22"/><rect x="385.0" y="394.2" width="0.5" height="0.5" opacity="0.11"/><rect x="383.9" y="409.3" width="0.5" height="0.5" opacity="0.14"/><rect x="408.7" y="380.6" width="0.5" height="0.5" opacity="0.35"/><rect x="400.1" y="397.9" width="0.5" height="0.5" opacity="0.14"/><rect x="377.1" y="402.0" width="0.5" height="0.5" opacity="0.14"/><rect x="382.1" y="404.4" width="0.5" height="0.5" opacity="0.32"/><rect x="376.9" y="409.5" width="0.5" height="0.5" opacity="0.23"/><rect x="389.3" y="378.0" width="0.5" height="0.5" opacity="0.20"/><rect x="411.7" y="384.4" width="0.5" height="0.5" opacity="0.13"/><rect x="420.2" y="378.8" width="0.5" height="0.5" opacity="0.19"/><rect x="448.7" y="376.9" width="0.5" height="0.5" opacity="0.15"/><rect x="449.6" y="410.8" width="0.5" height="0.5" opacity="0.34"/><rect x="423.9" y="387.1" width="0.5" height="0.5" opacity="0.34"/><rect x="432.7" y="400.0" width="0.5" height="0.5" opacity="0.18"/><rect x="415.6" y="386.8" width="0.5" height="0.5" opacity="0.29"/><rect x="443.7" y="395.0" width="0.5" height="0.5" opacity="0.22"/><rect x="434.7" y="390.4" width="0.5" height="0.5" opacity="0.23"/><rect x="445.6" y="381.5" width="0.5" height="0.5" opacity="0.25"/><rect x="449.3" y="405.3" width="0.5" height="0.5" opacity="0.14"/><rect x="450.4" y="405.0" width="0.5" height="0.5" opacity="0.14"/><rect x="424.6" y="381.5" width="0.5" height="0.5" opacity="0.11"/><rect x="451.0" y="389.2" width="0.5" height="0.5" opacity="0.32"/><rect x="419.0" y="374.6" width="0.5" height="0.5" opacity="0.32"/><rect x="483.8" y="410.6" width="0.5" height="0.5" opacity="0.27"/><rect x="473.8" y="402.3" width="0.5" height="0.5" opacity="0.12"/><rect x="474.4" y="390.3" width="0.5" height="0.5" opacity="0.14"/><rect x="476.6" y="386.0" width="0.5" height="0.5" opacity="0.23"/><rect x="468.2" y="385.8" width="0.5" height="0.5" opacity="0.19"/><rect x="476.7" y="410.2" width="0.5" height="0.5" opacity="0.33"/><rect x="486.4" y="404.8" width="0.5" height="0.5" opacity="0.17"/><rect x="490.6" y="384.0" width="0.5" height="0.5" opacity="0.13"/><rect x="472.9" y="401.0" width="0.5" height="0.5" opacity="0.19"/><rect x="478.3" y="384.5" width="0.5" height="0.5" opacity="0.34"/><rect x="471.1" y="391.7" width="0.5" height="0.5" opacity="0.23"/><rect x="486.8" y="410.4" width="0.5" height="0.5" opacity="0.23"/><rect x="470.7" y="396.8" width="0.5" height="0.5" opacity="0.12"/><rect x="470.1" y="405.3" width="0.5" height="0.5" opacity="0.29"/><rect x="298.7" y="445.2" width="0.5" height="0.5" opacity="0.20"/><rect x="332.7" y="427.0" width="0.5" height="0.5" opacity="0.15"/><rect x="316.7" y="446.3" width="0.5" height="0.5" opacity="0.21"/><rect x="328.5" y="439.9" width="0.5" height="0.5" opacity="0.19"/><rect x="307.6" y="432.2" width="0.5" height="0.5" opacity="0.20"/><rect x="310.2" y="437.6" width="0.5" height="0.5" opacity="0.32"/><rect x="318.1" y="418.8" width="0.5" height="0.5" opacity="0.15"/><rect x="310.2" y="436.3" width="0.5" height="0.5" opacity="0.13"/><rect x="299.5" y="425.3" width="0.5" height="0.5" opacity="0.17"/><rect x="297.6" y="433.4" width="0.5" height="0.5" opacity="0.33"/><rect x="316.2" y="440.8" width="0.5" height="0.5" opacity="0.31"/><rect x="327.4" y="447.4" width="0.5" height="0.5" opacity="0.21"/><rect x="321.7" y="417.9" width="0.5" height="0.5" opacity="0.32"/><rect x="310.5" y="431.1" width="0.5" height="0.5" opacity="0.32"/><rect x="346.2" y="420.5" width="0.5" height="0.5" opacity="0.31"/><rect x="357.9" y="416.6" width="0.5" height="0.5" opacity="0.11"/><rect x="348.6" y="413.7" width="0.5" height="0.5" opacity="0.31"/><rect x="342.3" y="423.6" width="0.5" height="0.5" opacity="0.20"/><rect x="354.6" y="429.5" width="0.5" height="0.5" opacity="0.26"/><rect x="360.1" y="429.6" width="0.5" height="0.5" opacity="0.12"/><rect x="372.1" y="439.1" width="0.5" height="0.5" opacity="0.12"/><rect x="352.0" y="441.4" width="0.5" height="0.5" opacity="0.35"/><rect x="337.9" y="413.8" width="0.5" height="0.5" opacity="0.22"/><rect x="351.2" y="446.7" width="0.5" height="0.5" opacity="0.31"/><rect x="347.8" y="429.0" width="0.5" height="0.5" opacity="0.25"/><rect x="368.6" y="420.9" width="0.5" height="0.5" opacity="0.20"/><rect x="338.7" y="437.3" width="0.5" height="0.5" opacity="0.11"/><rect x="370.5" y="432.9" width="0.5" height="0.5" opacity="0.24"/><rect x="378.3" y="422.0" width="0.5" height="0.5" opacity="0.22"/><rect x="406.9" y="433.5" width="0.5" height="0.5" opacity="0.17"/><rect x="411.5" y="438.0" width="0.5" height="0.5" opacity="0.23"/><rect x="382.6" y="424.5" width="0.5" height="0.5" opacity="0.32"/><rect x="380.0" y="433.2" width="0.5" height="0.5" opacity="0.25"/><rect x="388.3" y="442.0" width="0.5" height="0.5" opacity="0.33"/><rect x="406.9" y="440.9" width="0.5" height="0.5" opacity="0.15"/><rect x="377.3" y="429.5" width="0.5" height="0.5" opacity="0.18"/><rect x="382.3" y="445.8" width="0.5" height="0.5" opacity="0.15"/><rect x="405.6" y="448.3" width="0.5" height="0.5" opacity="0.13"/><rect x="409.0" y="428.2" width="0.5" height="0.5" opacity="0.15"/><rect x="382.0" y="414.8" width="0.5" height="0.5" opacity="0.22"/><rect x="389.4" y="445.1" width="0.5" height="0.5" opacity="0.31"/><rect x="377.2" y="428.3" width="0.5" height="0.5" opacity="0.20"/><rect x="421.4" y="422.7" width="0.5" height="0.5" opacity="0.17"/><rect x="440.5" y="426.1" width="0.5" height="0.5" opacity="0.13"/><rect x="423.0" y="429.8" width="0.5" height="0.5" opacity="0.24"/><rect x="423.9" y="439.4" width="0.5" height="0.5" opacity="0.15"/><rect x="439.6" y="436.1" width="0.5" height="0.5" opacity="0.14"/><rect x="442.6" y="428.1" width="0.5" height="0.5" opacity="0.23"/><rect x="436.9" y="436.8" width="0.5" height="0.5" opacity="0.21"/><rect x="416.9" y="442.7" width="0.5" height="0.5" opacity="0.31"/><rect x="432.9" y="434.9" width="0.5" height="0.5" opacity="0.17"/><rect x="448.1" y="438.9" width="0.5" height="0.5" opacity="0.16"/><rect x="445.0" y="450.1" width="0.5" height="0.5" opacity="0.19"/><rect x="451.6" y="431.4" width="0.5" height="0.5" opacity="0.14"/><rect x="441.3" y="426.0" width="0.5" height="0.5" opacity="0.28"/><rect x="436.4" y="417.4" width="0.5" height="0.5" opacity="0.23"/><rect x="486.0" y="431.2" width="0.5" height="0.5" opacity="0.23"/><rect x="486.4" y="430.0" width="0.5" height="0.5" opacity="0.22"/><rect x="476.0" y="444.0" width="0.5" height="0.5" opacity="0.15"/><rect x="457.8" y="441.7" width="0.5" height="0.5" opacity="0.24"/><rect x="465.6" y="446.6" width="0.5" height="0.5" opacity="0.32"/><rect x="474.4" y="450.2" width="0.5" height="0.5" opacity="0.31"/><rect x="482.1" y="424.2" width="0.5" height="0.5" opacity="0.10"/><rect x="479.5" y="440.7" width="0.5" height="0.5" opacity="0.19"/><rect x="472.1" y="434.5" width="0.5" height="0.5" opacity="0.16"/><rect x="480.3" y="434.3" width="0.5" height="0.5" opacity="0.20"/><rect x="458.4" y="434.0" width="0.5" height="0.5" opacity="0.18"/><rect x="481.3" y="419.8" width="0.5" height="0.5" opacity="0.20"/><rect x="461.6" y="428.6" width="0.5" height="0.5" opacity="0.24"/><rect x="458.3" y="415.4" width="0.5" height="0.5" opacity="0.22"/></g>
<text x="298.0" y="221.8" font-size="4.3" fill="#86d23c" stroke="#86d23c" stroke-width="0.14" >Rab7</text>
<text x="298.0" y="226.5" font-size="4.3" fill="#e8281c" stroke="#e8281c" stroke-width="0.14" >actin</text>
<text x="298.0" y="231.2" font-size="4.3" fill="#3e58e0" stroke="#3e58e0" stroke-width="0.14" >CD63</text>
<circle cx="315.8" cy="228.5" r="1.60" fill="#d03018" opacity="0.80" filter="url(#f03)"/>
<circle cx="315.8" cy="228.5" r="0.75" fill="#e8c040" opacity="1.0" filter="url(#f03)"/>
<circle cx="312.3" cy="235.4" r="1.60" fill="#d03018" opacity="0.80" filter="url(#f03)"/>
<circle cx="312.3" cy="235.4" r="0.75" fill="#e8c040" opacity="1.0" filter="url(#f03)"/>
<circle cx="322.7" cy="238.2" r="1.60" fill="#d03018" opacity="0.80" filter="url(#f03)"/>
<circle cx="322.7" cy="238.2" r="0.75" fill="#e8c040" opacity="1.0" filter="url(#f03)"/>
<circle cx="329.6" cy="241.2" r="1.60" fill="#d03018" opacity="0.80" filter="url(#f03)"/>
<circle cx="329.6" cy="241.2" r="0.75" fill="#e8c040" opacity="1.0" filter="url(#f03)"/>
<circle cx="306.5" cy="243.9" r="1.60" fill="#d03018" opacity="0.80" filter="url(#f03)"/>
<circle cx="306.5" cy="243.9" r="0.75" fill="#e8c040" opacity="1.0" filter="url(#f03)"/>
<circle cx="300.8" cy="248.5" r="1.60" fill="#d03018" opacity="0.80" filter="url(#f03)"/>
<circle cx="300.8" cy="248.5" r="0.75" fill="#e8c040" opacity="1.0" filter="url(#f03)"/>
<circle cx="307.2" cy="250.4" r="1.60" fill="#d03018" opacity="0.80" filter="url(#f03)"/>
<circle cx="307.2" cy="250.4" r="0.75" fill="#e8c040" opacity="1.0" filter="url(#f03)"/>
<circle cx="315.8" cy="249.7" r="1.60" fill="#d03018" opacity="0.80" filter="url(#f03)"/>
<circle cx="315.8" cy="249.7" r="0.75" fill="#e8c040" opacity="1.0" filter="url(#f03)"/>
<circle cx="332.2" cy="246.2" r="1.60" fill="#d03018" opacity="0.80" filter="url(#f03)"/>
<circle cx="332.2" cy="246.2" r="0.75" fill="#e8c040" opacity="1.0" filter="url(#f03)"/>
<rect x="298.00" y="252.70" width="7.00" height="1.30" fill="#f2f2f2" />
<rect x="336.40" y="252.70" width="8.80" height="1.30" fill="#f2f2f2" />
<circle cx="323.5" cy="269.7" r="0.90" fill="#d03018" opacity="0.64" filter="url(#f03)"/>
<circle cx="323.5" cy="269.7" r="0.33" fill="#f0a030" opacity="0.8" filter="url(#f03)"/>
<circle cx="308.4" cy="271.6" r="0.90" fill="#d03018" opacity="0.64" filter="url(#f03)"/>
<circle cx="308.4" cy="271.6" r="0.33" fill="#f0a030" opacity="0.8" filter="url(#f03)"/>
<circle cx="305.2" cy="276.8" r="0.90" fill="#d03018" opacity="0.64" filter="url(#f03)"/>
<circle cx="305.2" cy="276.8" r="0.33" fill="#f0a030" opacity="0.8" filter="url(#f03)"/>
<circle cx="314.4" cy="276.4" r="0.90" fill="#d03018" opacity="0.64" filter="url(#f03)"/>
<circle cx="314.4" cy="276.4" r="0.33" fill="#f0a030" opacity="0.8" filter="url(#f03)"/>
<circle cx="317.2" cy="280.0" r="0.90" fill="#d03018" opacity="0.64" filter="url(#f03)"/>
<circle cx="317.2" cy="280.0" r="0.33" fill="#f0a030" opacity="0.8" filter="url(#f03)"/>
<circle cx="321.5" cy="278.8" r="0.90" fill="#d03018" opacity="0.64" filter="url(#f03)"/>
<circle cx="321.5" cy="278.8" r="0.33" fill="#f0a030" opacity="0.8" filter="url(#f03)"/>
<circle cx="323.6" cy="286" r="0.9" fill="#2838a8" opacity="0.5" filter="url(#f03)"/>
<circle cx="312" cy="288" r="0.9" fill="#2838a8" opacity="0.5" filter="url(#f03)"/>
<circle cx="301.2" cy="299.1" r="1.45" fill="#d03018" opacity="0.80" filter="url(#f03)"/>
<circle cx="301.2" cy="299.1" r="0.66" fill="#e8b040" opacity="1.0" filter="url(#f03)"/>
<circle cx="309.6" cy="301.5" r="1.45" fill="#d03018" opacity="0.80" filter="url(#f03)"/>
<circle cx="309.6" cy="301.5" r="0.66" fill="#e8b040" opacity="1.0" filter="url(#f03)"/>
<circle cx="313.9" cy="307.0" r="1.45" fill="#d03018" opacity="0.80" filter="url(#f03)"/>
<circle cx="313.9" cy="307.0" r="0.66" fill="#e8b040" opacity="1.0" filter="url(#f03)"/>
<circle cx="304.3" cy="309.9" r="1.45" fill="#d03018" opacity="0.80" filter="url(#f03)"/>
<circle cx="304.3" cy="309.9" r="0.66" fill="#e8b040" opacity="1.0" filter="url(#f03)"/>
<circle cx="314.4" cy="311.8" r="1.45" fill="#d03018" opacity="0.80" filter="url(#f03)"/>
<circle cx="314.4" cy="311.8" r="0.66" fill="#e8b040" opacity="1.0" filter="url(#f03)"/>
<circle cx="311.5" cy="315.9" r="1.45" fill="#d03018" opacity="0.80" filter="url(#f03)"/>
<circle cx="311.5" cy="315.9" r="0.66" fill="#e8b040" opacity="1.0" filter="url(#f03)"/>
<circle cx="306.0" cy="319.5" r="1.45" fill="#d03018" opacity="0.80" filter="url(#f03)"/>
<circle cx="306.0" cy="319.5" r="0.66" fill="#e8b040" opacity="1.0" filter="url(#f03)"/>
<circle cx="300.0" cy="322.6" r="1.45" fill="#d03018" opacity="0.80" filter="url(#f03)"/>
<circle cx="300.0" cy="322.6" r="0.66" fill="#e8b040" opacity="1.0" filter="url(#f03)"/>
<circle cx="326.8" cy="324.8" r="1.45" fill="#d03018" opacity="0.80" filter="url(#f03)"/>
<circle cx="326.8" cy="324.8" r="0.66" fill="#e8b040" opacity="1.0" filter="url(#f03)"/>
<circle cx="331.6" cy="327.9" r="1.45" fill="#d03018" opacity="0.80" filter="url(#f03)"/>
<circle cx="331.6" cy="327.9" r="0.66" fill="#e8b040" opacity="1.0" filter="url(#f03)"/>
<line x1="304.3" y1="309.9" x2="300.5" y2="316" stroke="#c02818" stroke-width="0.6" opacity="0.8"/>
<line x1="314.4" y1="311.8" x2="318" y2="307" stroke="#c02818" stroke-width="0.6" opacity="0.8"/>
<line x1="306" y1="319.5" x2="303" y2="323" stroke="#c02818" stroke-width="0.6" opacity="0.8"/>
<circle cx="302.7" cy="337.9" r="1.10" fill="#d02850" opacity="0.80" filter="url(#f03)"/>
<circle cx="302.7" cy="337.9" r="0.45" fill="#f0a838" opacity="1.0" filter="url(#f03)"/>
<circle cx="327.4" cy="337.9" r="1.10" fill="#d02850" opacity="0.80" filter="url(#f03)"/>
<circle cx="327.4" cy="337.9" r="0.45" fill="#f0a838" opacity="1.0" filter="url(#f03)"/>
<circle cx="307.4" cy="347.4" r="1.10" fill="#d02850" opacity="0.80" filter="url(#f03)"/>
<circle cx="307.4" cy="347.4" r="0.45" fill="#f0a838" opacity="1.0" filter="url(#f03)"/>
<circle cx="312.5" cy="357.2" r="1.10" fill="#d02850" opacity="0.80" filter="url(#f03)"/>
<circle cx="312.5" cy="357.2" r="0.45" fill="#f0a838" opacity="1.0" filter="url(#f03)"/>
<circle cx="306.9" cy="367.9" r="1.10" fill="#d02850" opacity="0.80" filter="url(#f03)"/>
<circle cx="306.9" cy="367.9" r="0.45" fill="#f0a838" opacity="1.0" filter="url(#f03)"/>
<circle cx="320.4" cy="360.3" r="1.65" fill="#d02860" opacity="0.80" filter="url(#f03)"/>
<circle cx="320.4" cy="360.3" r="0.78" fill="#9088e0" opacity="1.0" filter="url(#f03)"/>
<circle cx="309.7" cy="374.9" r="1.10" fill="#d02070" opacity="0.80" filter="url(#f03)"/>
<circle cx="309.7" cy="374.9" r="0.45" fill="#f060a0" opacity="1.0" filter="url(#f03)"/>
<circle cx="319.5" cy="378.3" r="1.10" fill="#d08020" opacity="0.80" filter="url(#f03)"/>
<circle cx="319.5" cy="378.3" r="0.45" fill="#f0e040" opacity="1.0" filter="url(#f03)"/>
<circle cx="299.9" cy="389.5" r="1.10" fill="#2030b0" opacity="0.80" filter="url(#f03)"/>
<circle cx="299.9" cy="389.5" r="0.45" fill="#3040e0" opacity="1.0" filter="url(#f03)"/>
<circle cx="300.7" cy="397.4" r="1.10" fill="#2030b0" opacity="0.80" filter="url(#f03)"/>
<circle cx="300.7" cy="397.4" r="0.45" fill="#3848e0" opacity="1.0" filter="url(#f03)"/>
<circle cx="323.2" cy="388.9" r="1.10" fill="#d03018" opacity="0.80" filter="url(#f03)"/>
<circle cx="323.2" cy="388.9" r="0.45" fill="#f0a030" opacity="1.0" filter="url(#f03)"/>
<circle cx="330.7" cy="400.2" r="1.10" fill="#d03018" opacity="0.80" filter="url(#f03)"/>
<circle cx="330.7" cy="400.2" r="0.45" fill="#f09030" opacity="1.0" filter="url(#f03)"/>
<circle cx="313.9" cy="408.0" r="1.10" fill="#d02070" opacity="0.80" filter="url(#f03)"/>
<circle cx="313.9" cy="408.0" r="0.45" fill="#f050a0" opacity="1.0" filter="url(#f03)"/>
<circle cx="327.9" cy="410.0" r="1.10" fill="#d03018" opacity="0.80" filter="url(#f03)"/>
<circle cx="327.9" cy="410.0" r="0.45" fill="#f07030" opacity="1.0" filter="url(#f03)"/>
<circle cx="298.5" cy="419.8" r="1.15" fill="#d04818" opacity="0.80" filter="url(#f03)"/>
<circle cx="298.5" cy="419.8" r="0.48" fill="#f0b030" opacity="1.0" filter="url(#f03)"/>
<circle cx="313.3" cy="421.2" r="1.15" fill="#d04818" opacity="0.80" filter="url(#f03)"/>
<circle cx="313.3" cy="421.2" r="0.48" fill="#f0b030" opacity="1.0" filter="url(#f03)"/>
<circle cx="320.9" cy="422.1" r="1.15" fill="#d04818" opacity="0.80" filter="url(#f03)"/>
<circle cx="320.9" cy="422.1" r="0.48" fill="#f0b030" opacity="1.0" filter="url(#f03)"/>
<circle cx="319.5" cy="426.8" r="1.15" fill="#d04818" opacity="0.80" filter="url(#f03)"/>
<circle cx="319.5" cy="426.8" r="0.48" fill="#f0b030" opacity="1.0" filter="url(#f03)"/>
<circle cx="313.9" cy="429.6" r="1.15" fill="#d04818" opacity="0.80" filter="url(#f03)"/>
<circle cx="313.9" cy="429.6" r="0.48" fill="#f0b030" opacity="1.0" filter="url(#f03)"/>
<circle cx="323.2" cy="429.6" r="1.15" fill="#d04818" opacity="0.80" filter="url(#f03)"/>
<circle cx="323.2" cy="429.6" r="0.48" fill="#f0b030" opacity="1.0" filter="url(#f03)"/>
<circle cx="327.9" cy="433.3" r="1.15" fill="#d04818" opacity="0.80" filter="url(#f03)"/>
<circle cx="327.9" cy="433.3" r="0.48" fill="#f0b030" opacity="1.0" filter="url(#f03)"/>
<circle cx="306.3" cy="441.7" r="1.15" fill="#d04818" opacity="0.80" filter="url(#f03)"/>
<circle cx="306.3" cy="441.7" r="0.48" fill="#f0b030" opacity="1.0" filter="url(#f03)"/>
<circle cx="315.3" cy="440.9" r="1.70" fill="#c03828" opacity="0.80" filter="url(#f03)"/>
<circle cx="315.3" cy="440.9" r="0.81" fill="#e89040" opacity="1.0" filter="url(#f03)"/>
<circle cx="353.3" cy="235.6" r="11.4" fill="#1c1c1c"/>
<circle cx="353.3" cy="235.6" r="11.4" fill="#b0b0b0" filter="url(#tex)"/>
<circle cx="353.3" cy="235.6" r="11.1" fill="none" stroke="#666" stroke-width="0.5" filter="url(#f03)"/>
<circle cx="394.0" cy="236.2" r="12.1" fill="#5e5e5e"/>
<circle cx="394.0" cy="236.2" r="12.1" fill="#a4a4a4" filter="url(#tex2)"/>
<circle cx="394.0" cy="236.2" r="11.799999999999999" fill="none" stroke="#b4b4b4" stroke-width="0.8" filter="url(#f03)"/>
<path d="M391.4 224.4 q-0.6 -3.2 0.6 -5.6 M405.4 231.8 q3 -0.3 4.4 3.2 M397 248 q1.6 3 -0.2 5.4" fill="none" stroke="#bdbdbd" stroke-width="0.7" stroke-linecap="round"/>
<rect x="425.10" y="236.60" width="1.20" height="1.20" fill="#f4f4f4" filter="url(#f03)"/>
<rect x="431.25" y="235.35" width="1.10" height="1.10" fill="#f4f4f4" filter="url(#f03)"/>
<rect x="437.45" y="233.55" width="1.10" height="1.10" fill="#f4f4f4" filter="url(#f03)"/>
<rect x="427.05" y="242.55" width="1.50" height="1.50" fill="#f4f4f4" filter="url(#f03)"/>
<rect x="434.15" y="242.55" width="1.50" height="1.50" fill="#f4f4f4" filter="url(#f03)"/>
<rect x="440.50" y="241.50" width="1.20" height="1.20" fill="#f4f4f4" filter="url(#f03)"/>
<rect x="431.35" y="229.95" width="0.90" height="0.90" fill="#f4f4f4" filter="url(#f03)"/>
<rect x="436.60" y="228.60" width="0.80" height="0.80" fill="#f4f4f4" filter="url(#f03)"/>
<circle cx="474.4" cy="235.4" r="12.0" fill="#c8281a" filter="url(#f03)"/>
<circle cx="474.4" cy="235.4" r="11.0" fill="#f09a24"/>
<circle cx="474.4" cy="235.4" r="9.6" fill="#b4601c"/>
<circle cx="474.4" cy="235.4" r="9.8" fill="#e8c838" filter="url(#tex2)"/>
<circle cx="474.4" cy="235.4" r="9.6" fill="#6a9a38" filter="url(#tex3)" opacity="0.9"/>
<circle cx="474.4" cy="235.4" r="9.4" fill="#4a6ad8" filter="url(#tex)" opacity="0.9"/>
<circle cx="474.4" cy="235.4" r="9.6" fill="#d83020" filter="url(#tex2)" opacity="0.35"/>
<path d="M471.4 223.6 q-0.8 -3.5 0.4 -5.6 M485.4 231.2 q3.2 0 4.6 3.4 M476.6 247 q1.6 3.6 -0.6 6.2" fill="none" stroke="#d8281a" stroke-width="0.9" stroke-linecap="round"/>
<g fill="#8c8c8c" opacity="1" filter="url(#f03)"><ellipse cx="353.4" cy="272.4" rx="3.0" ry="3.4"/><ellipse cx="355.8" cy="273.8" rx="2.8" ry="2.3"/><ellipse cx="351.8" cy="274.8" rx="2.0" ry="1.9"/><ellipse cx="354.6" cy="269.8" rx="1.4" ry="1.2"/></g>
<g fill="#ffffff" opacity="1" filter="url(#f03)"><ellipse cx="353.2" cy="272.0" rx="1.8" ry="2.2"/><ellipse cx="355.6" cy="273.8" rx="1.7" ry="1.3"/><ellipse cx="352.2" cy="274.9" rx="1.1" ry="1.0"/><ellipse cx="354.4" cy="270.0" rx="0.8" ry="0.7"/></g>
<g fill="#ddd" opacity="1" filter="url(#f03)"><ellipse cx="361.6" cy="272.0" rx="0.8" ry="0.8"/></g>
<line x1="353.8" y1="272.8" x2="348.8" y2="269.3" stroke="#999" stroke-width="0.4" opacity="0.55" stroke-linecap="round"/>
<line x1="353.8" y1="272.8" x2="357.8" y2="268.3" stroke="#999" stroke-width="0.4" opacity="0.55" stroke-linecap="round"/>
<line x1="353.8" y1="272.8" x2="350.8" y2="277.8" stroke="#999" stroke-width="0.4" opacity="0.55" stroke-linecap="round"/>
<g fill="#8a8a8a" opacity="1" filter="url(#f03)"><ellipse cx="393.0" cy="273.4" rx="3.4" ry="3.0"/><ellipse cx="396.0" cy="274.8" rx="2.8" ry="2.3"/><ellipse cx="392.2" cy="276.6" rx="2.2" ry="1.9"/><ellipse cx="399.4" cy="273.2" rx="2.2" ry="0.9"/><ellipse cx="391.4" cy="270.8" rx="1.3" ry="1.1"/></g>
<g fill="#ffffff" opacity="1" filter="url(#f03)"><ellipse cx="392.8" cy="273.2" rx="2.1" ry="1.9"/><ellipse cx="395.8" cy="274.8" rx="1.6" ry="1.3"/><ellipse cx="392.4" cy="276.6" rx="1.2" ry="1.0"/><ellipse cx="399.6" cy="273.2" rx="1.2" ry="0.5"/></g>
<line x1="393.8" y1="274" x2="387.3" y2="270.5" stroke="#aaa" stroke-width="0.45" opacity="0.7" stroke-linecap="round"/>
<line x1="393.8" y1="274" x2="400.3" y2="272.5" stroke="#aaa" stroke-width="0.45" opacity="0.7" stroke-linecap="round"/>
<line x1="393.8" y1="274" x2="395.3" y2="280" stroke="#aaa" stroke-width="0.45" opacity="0.7" stroke-linecap="round"/>
<line x1="393.8" y1="274" x2="389.8" y2="278.5" stroke="#aaa" stroke-width="0.45" opacity="0.7" stroke-linecap="round"/>
<g fill="#707070" opacity="1" filter="url(#f03)"><ellipse cx="432.4" cy="272.8" rx="3.8" ry="2.8"/><ellipse cx="435.8" cy="274.6" rx="3.0" ry="2.0"/><ellipse cx="430.8" cy="276.0" rx="2.2" ry="2.0"/><ellipse cx="439.8" cy="273.2" rx="2.8" ry="0.9"/><ellipse cx="430.4" cy="270.4" rx="1.4" ry="1.2"/></g>
<g fill="#f0f0f0" opacity="1" filter="url(#f03)"><ellipse cx="432.0" cy="272.6" rx="1.7" ry="1.4"/><ellipse cx="435.2" cy="274.4" rx="1.4" ry="1.0"/><ellipse cx="431.0" cy="275.8" rx="1.0" ry="0.9"/><ellipse cx="433.8" cy="271.0" rx="0.8" ry="0.7"/></g>
<line x1="433" y1="273.6" x2="426" y2="269.6" stroke="#9a9a9a" stroke-width="0.45" opacity="0.7" stroke-linecap="round"/>
<line x1="433" y1="273.6" x2="441" y2="272.6" stroke="#9a9a9a" stroke-width="0.45" opacity="0.7" stroke-linecap="round"/>
<line x1="433" y1="273.6" x2="435" y2="280.6" stroke="#9a9a9a" stroke-width="0.45" opacity="0.7" stroke-linecap="round"/>
<line x1="433" y1="273.6" x2="429" y2="278.6" stroke="#9a9a9a" stroke-width="0.45" opacity="0.7" stroke-linecap="round"/>
<line x1="433" y1="273.6" x2="437" y2="267.6" stroke="#9a9a9a" stroke-width="0.45" opacity="0.7" stroke-linecap="round"/>
<g fill="#4a3ad0" opacity="0.95" filter="url(#f03)"><ellipse cx="472.0" cy="273.4" rx="4.4" ry="3.8"/><ellipse cx="477.6" cy="273.0" rx="3.0" ry="1.1"/><ellipse cx="469.4" cy="270.4" rx="1.6" ry="1.4"/><ellipse cx="470.6" cy="277.2" rx="1.4" ry="1.6"/></g>
<g fill="#d838a8" opacity="1" filter="url(#f03)"><ellipse cx="472.0" cy="273.6" rx="3.2" ry="2.7"/></g>
<g fill="#e8e040" opacity="1" filter="url(#f03)"><ellipse cx="472.0" cy="273.4" rx="2.1" ry="1.8"/></g>
<g fill="#50d060" opacity="1" filter="url(#f03)"><ellipse cx="471.4" cy="273.0" rx="1.0" ry="1.0"/></g>
<line x1="472.4" y1="273.6" x2="465.4" y2="269.6" stroke="#3a3ad8" stroke-width="0.5" opacity="0.9" stroke-linecap="round"/>
<line x1="472.4" y1="273.6" x2="480.4" y2="272.6" stroke="#3a3ad8" stroke-width="0.5" opacity="0.9" stroke-linecap="round"/>
<line x1="472.4" y1="273.6" x2="474.4" y2="280.6" stroke="#3a3ad8" stroke-width="0.5" opacity="0.9" stroke-linecap="round"/>
<line x1="472.4" y1="273.6" x2="468.4" y2="278.6" stroke="#3a3ad8" stroke-width="0.5" opacity="0.9" stroke-linecap="round"/>
<line x1="472.4" y1="273.6" x2="475.9" y2="267.1" stroke="#3a3ad8" stroke-width="0.5" opacity="0.9" stroke-linecap="round"/>
<circle cx="353.1" cy="310.9" r="6.4" fill="#1c1c1c"/>
<circle cx="353.1" cy="310.9" r="6.4" fill="#f6f6f6" filter="url(#tex2)"/>
<g fill="#fff" opacity="1" filter="url(#f03)"><ellipse cx="351.4" cy="309.2" rx="1.3" ry="1.1"/><ellipse cx="355.0" cy="311.6" rx="1.2" ry="1.2"/><ellipse cx="352.4" cy="313.4" rx="1.1" ry="1.0"/><ellipse cx="355.2" cy="308.4" rx="0.9" ry="0.9"/></g>
<circle cx="393.1" cy="311.6" r="7.2" fill="#4a4a4a"/>
<circle cx="393.1" cy="311.6" r="7.2" fill="#e4e4e4" filter="url(#tex)"/>
<circle cx="393.1" cy="311.6" r="6.9" fill="none" stroke="#d8d8d8" stroke-width="0.9" filter="url(#f03)"/>
<path d="M392.6 319 q0.6 5 4.2 7.6 q2.6 1.8 3.2 4.4 M400 310 q2.6 -1.4 3.6 0.6" fill="none" stroke="#c8c8c8" stroke-width="0.6" stroke-linecap="round"/>
<g fill="#f0f0f0" opacity="1" filter="url(#f03)"><ellipse cx="431.8" cy="310.9" rx="0.9" ry="0.9"/><ellipse cx="432.5" cy="315.5" rx="1.1" ry="1.1"/><ellipse cx="429.4" cy="312.8" rx="0.6" ry="0.6"/><ellipse cx="434.6" cy="312.2" rx="0.6" ry="0.6"/></g>
<circle cx="431.8" cy="312.5" r="5.4" fill="#444" filter="url(#tex)" opacity="0.8"/>
<circle cx="472.6" cy="311.8" r="7.6" fill="#d02a1c"/>
<circle cx="472.6" cy="311.8" r="6.5" fill="#8a5a20"/>
<circle cx="472.6" cy="311.8" r="6.5" fill="#58d048" filter="url(#tex2)"/>
<circle cx="472.6" cy="311.8" r="6.5" fill="#3a58e0" filter="url(#tex3)" opacity="0.9"/>
<circle cx="472.6" cy="311.8" r="6.5" fill="#e8d840" filter="url(#tex)" opacity="0.8"/>
<path d="M472.2 319.4 q0.6 5 4.4 7.4 q2.8 1.8 3.4 4.6 M480 310.4 q2.6 -1.4 3.8 0.6" fill="none" stroke="#d82a1c" stroke-width="0.8" stroke-linecap="round"/>
<circle cx="355.5" cy="354.0" r="5.9" fill="#1c1c1c"/>
<circle cx="355.5" cy="354.0" r="5.9" fill="#f6f6f6" filter="url(#tex2)"/>
<g fill="#fff" opacity="1" filter="url(#f03)"><ellipse cx="353.6" cy="352.6" rx="1.2" ry="1.2"/><ellipse cx="357.2" cy="353.2" rx="1.2" ry="1.1"/><ellipse cx="354.6" cy="356.4" rx="1.2" ry="1.0"/><ellipse cx="357.6" cy="356.4" rx="1.0" ry="1.0"/></g>
<g fill="#707070" opacity="1" filter="url(#f06)"><ellipse cx="393.4" cy="356.0" rx="6.6" ry="4.8"/><ellipse cx="389.4" cy="358.4" rx="3.0" ry="2.2"/><ellipse cx="398.6" cy="358.0" rx="2.6" ry="2.0"/></g>
<ellipse cx="393.4" cy="356" rx="7.4" ry="5.6" fill="#c4c4c4" filter="url(#tex)"/>
<path d="M395.2 351 q0.4 -5 1.6 -8 M399 359.4 q3 0.8 4 3" fill="none" stroke="#c0c0c0" stroke-width="0.65" stroke-linecap="round"/>
<g fill="#4a4a4a" opacity="1" filter="url(#f06)"><ellipse cx="432.5" cy="354.6" rx="7.0" ry="4.8"/><ellipse cx="438.6" cy="357.4" rx="2.8" ry="2.0"/><ellipse cx="427.6" cy="357.2" rx="2.6" ry="1.8"/></g>
<ellipse cx="432.5" cy="354.6" rx="8" ry="5.6" fill="#a0a0a0" filter="url(#tex3)"/>
<g fill="#fff" opacity="1" filter="url(#f03)"><ellipse cx="431.8" cy="354.0" rx="1.1" ry="1.1"/></g>
<path d="M434.8 349.8 q0.2 -4.4 1.6 -6.8" fill="none" stroke="#b0b0b0" stroke-width="0.6" stroke-linecap="round"/>
<g fill="#d42048" opacity="1" filter="url(#f03)"><ellipse cx="473.0" cy="355.4" rx="6.6" ry="5.8"/><ellipse cx="468.2" cy="357.8" rx="2.6" ry="2.2"/><ellipse cx="478.6" cy="357.6" rx="2.2" ry="2.0"/><ellipse cx="470.4" cy="351.2" rx="2.2" ry="1.8"/></g>
<g fill="#a82890" opacity="0.7" filter="url(#f03)"><ellipse cx="473.2" cy="355.2" rx="5.0" ry="4.4"/></g>
<ellipse cx="473.4" cy="355.2" rx="5.2" ry="4.6" fill="#d8e048" filter="url(#tex2)"/>
<ellipse cx="473.4" cy="355.2" rx="5.2" ry="4.6" fill="#58d050" filter="url(#tex3)" opacity="0.9"/>
<path d="M474.8 350 q0.6 -4.6 2.6 -7.4" fill="none" stroke="#d42048" stroke-width="0.8" stroke-linecap="round"/>
<line x1="473" y1="356" x2="465" y2="361" stroke="#5a3ad0" stroke-width="0.5" opacity="0.75" stroke-linecap="round"/>
<line x1="473" y1="356" x2="481.5" y2="360.5" stroke="#5a3ad0" stroke-width="0.5" opacity="0.75" stroke-linecap="round"/>
<line x1="473" y1="356" x2="466.5" y2="351" stroke="#5a3ad0" stroke-width="0.5" opacity="0.75" stroke-linecap="round"/>
<g fill="#d0d0d0" opacity="1" filter="url(#f03)"><ellipse cx="354.9" cy="392.9" rx="2.0" ry="1.2"/><ellipse cx="357.0" cy="391.6" rx="1.2" ry="0.9"/><ellipse cx="352.6" cy="393.8" rx="1.0" ry="0.8"/><ellipse cx="356.4" cy="394.8" rx="0.9" ry="0.8"/><ellipse cx="351.6" cy="391.4" rx="0.7" ry="0.6"/><ellipse cx="358.6" cy="393.6" rx="0.7" ry="0.6"/><ellipse cx="354.0" cy="390.4" rx="0.6" ry="0.6"/></g>
<line x1="354.9" y1="392.8" x2="349.9" y2="389.8" stroke="#777" stroke-width="0.35" opacity="0.5" stroke-linecap="round"/>
<line x1="354.9" y1="392.8" x2="359.9" y2="390.3" stroke="#777" stroke-width="0.35" opacity="0.5" stroke-linecap="round"/>
<line x1="354.9" y1="392.8" x2="352.4" y2="396.8" stroke="#777" stroke-width="0.35" opacity="0.5" stroke-linecap="round"/>
<g fill="#fff" opacity="1" filter="url(#f06)"><ellipse cx="394.0" cy="392.9" rx="3.0" ry="2.6"/></g>
<g fill="#fff" opacity="1" filter="url(#f03)"><ellipse cx="394.0" cy="392.9" rx="2.0" ry="1.8"/></g>
<line x1="394" y1="392.9" x2="387.5" y2="387.9" stroke="#bdbdbd" stroke-width="0.4" opacity="0.7" stroke-linecap="round"/>
<line x1="394" y1="392.9" x2="399.5" y2="388.4" stroke="#bdbdbd" stroke-width="0.4" opacity="0.7" stroke-linecap="round"/>
<line x1="394" y1="392.9" x2="395.5" y2="399.4" stroke="#bdbdbd" stroke-width="0.4" opacity="0.7" stroke-linecap="round"/>
<line x1="394" y1="392.9" x2="390" y2="397.4" stroke="#bdbdbd" stroke-width="0.4" opacity="0.7" stroke-linecap="round"/>
<line x1="394" y1="392.9" x2="400" y2="395.4" stroke="#bdbdbd" stroke-width="0.4" opacity="0.7" stroke-linecap="round"/>
<line x1="394" y1="392.9" x2="388.5" y2="393.9" stroke="#bdbdbd" stroke-width="0.4" opacity="0.7" stroke-linecap="round"/>
<g fill="#fafafa" opacity="1" filter="url(#f03)"><ellipse cx="432.5" cy="392.0" rx="1.3" ry="1.3"/><ellipse cx="435.2" cy="393.6" rx="1.2" ry="1.1"/><ellipse cx="430.0" cy="394.8" rx="1.1" ry="1.1"/><ellipse cx="433.6" cy="396.4" rx="1.0" ry="1.0"/><ellipse cx="428.6" cy="390.2" rx="0.9" ry="0.9"/><ellipse cx="437.2" cy="391.0" rx="0.9" ry="0.9"/><ellipse cx="431.0" cy="388.4" rx="0.8" ry="0.8"/><ellipse cx="436.4" cy="396.6" rx="0.8" ry="0.8"/><ellipse cx="427.2" cy="387.6" rx="0.7" ry="0.7"/><ellipse cx="438.6" cy="394.6" rx="0.7" ry="0.7"/></g>
<line x1="432.8" y1="392.8" x2="424.8" y2="385.3" stroke="#aaa" stroke-width="0.45" opacity="0.75" stroke-linecap="round"/>
<line x1="432.8" y1="392.8" x2="440.3" y2="388.8" stroke="#aaa" stroke-width="0.45" opacity="0.75" stroke-linecap="round"/>
<line x1="432.8" y1="392.8" x2="438.8" y2="399.3" stroke="#aaa" stroke-width="0.45" opacity="0.75" stroke-linecap="round"/>
<line x1="432.8" y1="392.8" x2="427.8" y2="398.3" stroke="#aaa" stroke-width="0.45" opacity="0.75" stroke-linecap="round"/>
<line x1="432.8" y1="392.8" x2="433.8" y2="385.8" stroke="#aaa" stroke-width="0.45" opacity="0.75" stroke-linecap="round"/>
<g fill="#777" opacity="0.7" filter="url(#f06)"><ellipse cx="432.6" cy="392.8" rx="4.6" ry="3.6"/></g>
<line x1="472.5" y1="392.9" x2="466.0" y2="386.9" stroke="#4038d4" stroke-width="0.65" opacity="0.95" stroke-linecap="round"/>
<line x1="472.5" y1="392.9" x2="478.5" y2="389.4" stroke="#4038d4" stroke-width="0.65" opacity="0.95" stroke-linecap="round"/>
<line x1="472.5" y1="392.9" x2="478.0" y2="397.9" stroke="#4038d4" stroke-width="0.65" opacity="0.95" stroke-linecap="round"/>
<line x1="472.5" y1="392.9" x2="468.5" y2="397.9" stroke="#4038d4" stroke-width="0.65" opacity="0.95" stroke-linecap="round"/>
<line x1="472.5" y1="392.9" x2="473.5" y2="386.9" stroke="#4038d4" stroke-width="0.65" opacity="0.95" stroke-linecap="round"/>
<line x1="472.5" y1="392.9" x2="466.5" y2="394.4" stroke="#4038d4" stroke-width="0.65" opacity="0.95" stroke-linecap="round"/>
<g fill="#4a3ad4" opacity="1" filter="url(#f06)"><ellipse cx="472.5" cy="392.9" rx="3.6" ry="2.9"/></g>
<g fill="#e02890" opacity="1" filter="url(#f03)"><ellipse cx="472.9" cy="393.1" rx="2.4" ry="1.9"/></g>
<g fill="#f4e640" opacity="1" filter="url(#f03)"><ellipse cx="473.1" cy="392.7" rx="1.7" ry="1.4"/></g>
<g fill="#e83020" opacity="1" filter="url(#f03)"><ellipse cx="471.9" cy="393.7" rx="0.9" ry="0.8"/></g>
<circle cx="354.9" cy="430.5" r="5.8" fill="#3c3c3c"/>
<circle cx="354.9" cy="430.5" r="5.8" fill="#a8a8a8" filter="url(#tex2)"/>
<circle cx="354.9" cy="430.5" r="5.5" fill="none" stroke="#5c5c5c" stroke-width="0.5" filter="url(#f03)"/>
<path d="M388.4 427 l4.6 -3.8 l5.4 1.6 l2.4 5 l-2.8 5.6 l-6.4 1.6 l-3.6 -4.4 z" fill="#3a3a3a" stroke="#9a9a9a" stroke-width="0.6" stroke-linejoin="round" filter="url(#f03)"/>
<circle cx="394" cy="430.5" r="5.0" fill="#909090" filter="url(#tex3)"/>
<path d="M396.4 436.4 l4.6 8.4 M399.4 425 l3.4 -2.6" fill="none" stroke="#8a8a8a" stroke-width="0.5" stroke-linecap="round"/>
<g fill="#fafafa" opacity="1" filter="url(#f03)"><ellipse cx="431.8" cy="428.9" rx="1.1" ry="1.2"/><ellipse cx="434.0" cy="433.5" rx="1.2" ry="1.1"/><ellipse cx="430.0" cy="432.4" rx="0.9" ry="1.0"/><ellipse cx="433.4" cy="426.4" rx="0.8" ry="0.8"/><ellipse cx="435.6" cy="430.2" rx="0.7" ry="0.7"/><ellipse cx="431.2" cy="435.4" rx="0.7" ry="0.7"/></g>
<circle cx="472.9" cy="431.6" r="6.8" fill="#c82a24" filter="url(#f03)"/>
<circle cx="473.1" cy="431.4" r="5.7" fill="#3a58d8"/>
<circle cx="473.1" cy="431.4" r="5.7" fill="#50d850" filter="url(#tex2)"/>
<circle cx="473.1" cy="431.4" r="5.7" fill="#f0e840" filter="url(#tex)" opacity="0.9"/>
<circle cx="473.1" cy="431.4" r="5.7" fill="#e03028" filter="url(#tex3)" opacity="0.7"/>
<path d="M479.4 428.4 q3.6 -2.6 6 -2.2 M476.8 437.6 l3 5" fill="none" stroke="#d82a1c" stroke-width="0.7" stroke-linecap="round"/>
</g>
<rect x="0.5" y="0.5" width="519" height="458" fill="none" stroke="#000" stroke-width="1.2"/>
</svg>
</body></html>
